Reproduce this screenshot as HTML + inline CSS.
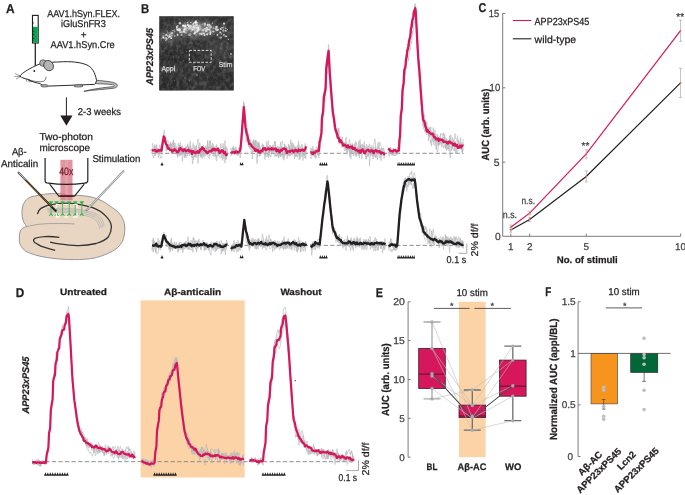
<!DOCTYPE html>
<html><head><meta charset="utf-8"><title>Figure</title><style>html,body{margin:0;padding:0;background:#fff;}svg{display:block;will-change:transform;font-family:"Liberation Sans",sans-serif;}</style></head><body>
<svg width="685" height="495" viewBox="0 0 685 495" font-family="Liberation Sans, sans-serif" text-rendering="geometricPrecision">
<rect width="685" height="495" fill="#fff"/>
<text x="6" y="13" font-size="12.8" font-weight="bold" textLength="8.6" lengthAdjust="spacingAndGlyphs" fill="#231f20" stroke="#231f20" stroke-width="0.25">A</text>
<text x="83.6" y="16.8" font-size="9.9" text-anchor="middle" textLength="72.9" lengthAdjust="spacingAndGlyphs" fill="#231f20" stroke="#231f20" stroke-width="0.25">AAV1.hSyn.FLEX.</text>
<text x="83.4" y="27.3" font-size="9.9" text-anchor="middle" textLength="44.7" lengthAdjust="spacingAndGlyphs" fill="#231f20" stroke="#231f20" stroke-width="0.25">iGluSnFR3</text>
<text x="83.6" y="37.6" font-size="9.9" text-anchor="middle" fill="#231f20" stroke="#231f20" stroke-width="0.25">+</text>
<text x="82.6" y="48.4" font-size="9.9" text-anchor="middle" textLength="64.1" lengthAdjust="spacingAndGlyphs" fill="#231f20" stroke="#231f20" stroke-width="0.25">AAV1.hSyn.Cre</text>
<rect x="32.5" y="15.4" width="5.7" height="27.6" fill="#fff" stroke="#231f20" stroke-width="1.15"/><rect x="33" y="26.8" width="4.7" height="15.6" fill="#00a651"/><path d="M33 22.4 L34.4 23 L33 23.6 Z M33 30.6 L34.4 31.2 L33 31.8 Z M33 34.1 L34.4 34.7 L33 35.3 Z M33 37.8 L34.4 38.4 L33 39 Z" fill="#231f20"/><line x1="35.3" y1="43" x2="35.3" y2="66" stroke="#231f20" stroke-width="1.25"/><path d="M19.7 76 C23 72.5 27 70 35.2 65.9 C38 64.6 40 63.8 43 63 C50 62 56 62.2 60 61.9 C70 61.2 80 62 87 65 C92 67.5 95 72 96.5 80.2 C96.5 83 95 84.4 93.9 84.4 L48.6 86.1 C44 86 41 85 40 83.5 C37 83 32 82 27.6 79.3 C24 78.5 21.5 77.5 19.7 76 Z" fill="#fff" stroke="#231f20" stroke-width="0.95"/><path d="M96.8 80.3 C104 81 112 81.5 116 83.5 C118.5 85 117.5 87.5 114 88.2 C104 89.5 92 90 83.9 91.3 C92 89 104 87.6 113 86.6 C115 86 114.5 84.8 112.5 84.6 C106 84 101 84 95.5 83.6 Z" fill="#bcbec0" stroke="#231f20" stroke-width="0.6"/><ellipse cx="43" cy="63" rx="3.3" ry="3.2" fill="#b3b5b7" stroke="#231f20" stroke-width="0.6"/><ellipse cx="48.6" cy="65.6" rx="4.6" ry="5.4" fill="#b3b5b7" stroke="#231f20" stroke-width="0.7" transform="rotate(-35 48.6 65.6)"/><ellipse cx="44.5" cy="85.8" rx="3.8" ry="1.3" fill="#a7a9ac" stroke="#231f20" stroke-width="0.5"/><ellipse cx="78.5" cy="85.9" rx="4.6" ry="1.2" fill="#a7a9ac" stroke="#231f20" stroke-width="0.5"/><circle cx="34.3" cy="71" r="0.9" fill="#231f20"/><path d="M27.6 79.3 C33 81.5 40 82.5 43.6 81.2 C45.5 80 46 78.5 46.1 76.8" fill="none" stroke="#231f20" stroke-width="0.6"/><path d="M20 76 L15 73.5 M20 76.3 L14.5 76.5 M20.3 76.6 L16 79 M26 78.5 L27 82 M28 79.3 L29.5 82.2 M29.5 79.8 L31 82.5" stroke="#231f20" stroke-width="0.45" fill="none"/><line x1="66.4" y1="97.3" x2="66.4" y2="117" stroke="#231f20" stroke-width="1"/><path d="M60.3 115.5 L72.5 115.5 L66.4 125.8 Z" fill="#231f20"/><text x="77.7" y="115" font-size="9.9" textLength="43.3" lengthAdjust="spacingAndGlyphs" fill="#231f20" stroke="#231f20" stroke-width="0.25">2-3 weeks</text>
<text x="39.4" y="140.2" font-size="9.9" textLength="53.6" lengthAdjust="spacingAndGlyphs" fill="#231f20" stroke="#231f20" stroke-width="0.25">Two-photon</text>
<text x="39.4" y="150.7" font-size="9.9" textLength="50.6" lengthAdjust="spacingAndGlyphs" fill="#231f20" stroke="#231f20" stroke-width="0.25">microscope</text>
<text x="11.9" y="154.6" font-size="9.9" textLength="14.7" lengthAdjust="spacingAndGlyphs" fill="#231f20" stroke="#231f20" stroke-width="0.25">A&#946;-</text>
<text x="1.0" y="167" font-size="9.9" textLength="37.2" lengthAdjust="spacingAndGlyphs" fill="#231f20" stroke="#231f20" stroke-width="0.25">Anticalin</text>
<text x="92.4" y="161.5" font-size="9.9" textLength="48" lengthAdjust="spacingAndGlyphs" fill="#231f20" stroke="#231f20" stroke-width="0.25">Stimulation</text>
<path d="M25.5 224.7 C21 220 21 207 24.5 202.3 C27 198 31 196.5 34.7 196.1 C42 194.5 46 193.8 51.1 193.7 C60 193.2 65 194 67.4 195.1 C76 195 84 195.5 92 197.2 C100 199 106 203 110.4 206.3 C116 210 121 214 122.6 218.6 C125.5 224 125.6 233 122.6 241.1 C120 246 116 249.5 112.4 251.3 C105 255 98 257.5 92 258.5 C84 259.6 75 259.8 67.4 259.5 C57 259 48 258 40.9 256.4 C33 254.5 27 252.5 24.5 250.3 C21 247 19.5 244 19.4 241.1 C19.2 236 19.5 232.5 20.4 230.9 C21.5 228.5 23.5 227 26.6 226.8 Z" fill="#e8d6c2" stroke="#8a8c8e" stroke-width="0.9"/><path d="M26.6 226.6 C35 224.5 45 223.5 51.1 223.6 C60 223.5 68 223.4 74.6 224" fill="none" stroke="#939598" stroke-width="0.8"/><path d="M37.4 214.1 C38 211 39.5 209.4 40.9 208.4 C45 205.8 49 204.6 53.1 204.3 C60 203.2 66 203 71.5 203.3 C80 204 86 205.5 92 207.4 C98 209.5 103 213 106.3 216.6 C109.5 220 111.4 223.5 111.4 226.8 C111.4 230.5 110.3 234 108.3 237 C105 240.5 101 242 96 243.5 C90 245 84 245.7 77.7 245.6 C71 245.6 66 245 61.3 244.2 C57 243.6 53 242.8 50.1 242.1" fill="none" stroke="#333" stroke-width="1.3"/><path d="M59.3 237.4 C54 236.6 49 236.4 45 236.6 C40 237 36 237.5 34.7 238.6 C33 240 33.4 241.5 35 242.7 C38 244.5 40 245.5 40.9 246.2 C46 248 51 249.3 55.2 250.3" fill="none" stroke="#333" stroke-width="1.3"/><path d="M47 208.3 C65 207.7 85 208.5 98 214.5 C102 217.5 103.5 221.5 104.2 226.3 M47 209.6 C65 209.1 84 210 96.5 215.8 C100.5 218.7 102 222.7 102.7 227.2 M47.5 210.9 C66 210.5 83 211.5 95 217.1 C99 219.8 100.5 223.8 101.2 228 M48 212.2 C66 211.9 82 212.9 93.5 218.4 C97.5 220.9 99 224.6 99.7 228.6" fill="none" stroke="#a7a9ac" stroke-width="0.6"/><rect x="60.4" y="159.8" width="12.1" height="40.6" fill="#d5707f" opacity="0.75"/><rect x="65" y="159.8" width="3" height="40.6" fill="#fff" opacity="0.12"/><rect x="59.5" y="195" width="14" height="1.8" fill="#8b2636"/><text x="66.3" y="175" font-size="10.6" text-anchor="middle" textLength="14.2" lengthAdjust="spacingAndGlyphs" fill="#7a1f2e" stroke="#7a1f2e" stroke-width="0.25">40x</text>
<path d="M45.1 158 L45.1 180.4 C45.1 182 46.5 183.1 48.5 183.2 C60 184.8 73 184.8 85 183.2 C86.8 183 87.8 182 87.8 180.4 L87.8 158" fill="none" stroke="#231f20" stroke-width="1.2"/><path d="M49.7 184.1 L58.8 196.2 L74.5 196.2 L84.2 184.1" fill="none" stroke="#231f20" stroke-width="1.1"/><path d="M48.7 201.2 L53.3 201.2 L51.0 205.3 Z" fill="#39b54a"/><path d="M49.3 215.2 L52.7 215.2 L51.0 212.8 Z" fill="#39b54a"/><path d="M51.0 204 L51.0 213.5 M51.0 213.5 L49.0 216 M51.0 213.5 L53.0 216" stroke="#39b54a" stroke-width="0.8" fill="none"/><path d="M54.3 201.2 L58.9 201.2 L56.6 205.3 Z" fill="#39b54a"/><path d="M54.9 215.2 L58.3 215.2 L56.6 212.8 Z" fill="#39b54a"/><path d="M56.6 204 L56.6 213.5 M56.6 213.5 L54.6 216 M56.6 213.5 L58.6 216" stroke="#39b54a" stroke-width="0.8" fill="none"/><path d="M60.3 201.2 L64.9 201.2 L62.6 205.3 Z" fill="#39b54a"/><path d="M60.9 215.2 L64.3 215.2 L62.6 212.8 Z" fill="#39b54a"/><path d="M62.6 204 L62.6 213.5 M62.6 213.5 L60.6 216 M62.6 213.5 L64.6 216" stroke="#39b54a" stroke-width="0.8" fill="none"/><path d="M66.9 201.2 L71.5 201.2 L69.2 205.3 Z" fill="#39b54a"/><path d="M67.5 215.2 L70.9 215.2 L69.2 212.8 Z" fill="#39b54a"/><path d="M69.2 204 L69.2 213.5 M69.2 213.5 L67.2 216 M69.2 213.5 L71.2 216" stroke="#39b54a" stroke-width="0.8" fill="none"/><path d="M72.9 201.2 L77.5 201.2 L75.2 205.3 Z" fill="#39b54a"/><path d="M73.5 215.2 L76.9 215.2 L75.2 212.8 Z" fill="#39b54a"/><path d="M75.2 204 L75.2 213.5 M75.2 213.5 L73.2 216 M75.2 213.5 L77.2 216" stroke="#39b54a" stroke-width="0.8" fill="none"/><path d="M79.5 201.2 L84.1 201.2 L81.8 205.3 Z" fill="#39b54a"/><path d="M80.1 215.2 L83.5 215.2 L81.8 212.8 Z" fill="#39b54a"/><path d="M81.8 204 L81.8 213.5 M81.8 213.5 L79.8 216 M81.8 213.5 L83.8 216" stroke="#39b54a" stroke-width="0.8" fill="none"/><path d="M56.3 208.6 V204.5 H59.6 M63.6 204.5 H68.6 M72.8 204.5 H77 V208.6 M56.3 212.8 V217 H59.8 M64.1 217 H68.4 M72.9 217 H77 V212.8" fill="none" stroke="#fff" stroke-width="1.1"/><path d="M18 172.1 L56.2 211.5" stroke="#231f20" stroke-width="1.9" fill="none"/><path d="M18.4 172.5 L25.5 179.9" stroke="#fff" stroke-width="0.9" fill="none"/><path d="M25.5 179.9 L52 207" stroke="#a8661b" stroke-width="0.9" fill="none"/><path d="M124 170.7 L85.8 211" stroke="#808285" stroke-width="1.9" fill="none"/><path d="M123.6 171.1 L86.5 210.2" stroke="#fff" stroke-width="0.8" fill="none"/><text x="141" y="13" font-size="12.8" font-weight="bold" textLength="8.2" lengthAdjust="spacingAndGlyphs" fill="#231f20" stroke="#231f20" stroke-width="0.25">B</text>
<defs><filter id="fnoise" x="0" y="0" width="1" height="1"><feTurbulence type="fractalNoise" baseFrequency="0.3 0.22" numOctaves="3" seed="5"/><feColorMatrix type="matrix" values="0 0 0 0 1  0 0 0 0 1  0 0 0 0 1  1.3 0 0 0 -0.5"/></filter><filter id="fblur" x="-50%" y="-50%" width="200%" height="200%"><feGaussianBlur stdDeviation="3.5"/></filter><filter id="fblur1"><feGaussianBlur stdDeviation="0.45"/></filter><clipPath id="fclip"><rect x="159.2" y="16.2" width="74.6" height="74.3"/></clipPath></defs><rect x="159.2" y="16.2" width="74.6" height="74.3" fill="#303030"/><g clip-path="url(#fclip)"><g filter="url(#fblur)"><ellipse cx="196" cy="29" rx="20" ry="7" fill="#787878"/><ellipse cx="170" cy="37" rx="8" ry="6" fill="#5e5e5e"/><ellipse cx="221" cy="31" rx="9" ry="4" fill="#505050"/><ellipse cx="175" cy="57" rx="18" ry="4" fill="#202020"/><ellipse cx="218" cy="50" rx="14" ry="9" fill="#3c3c3c"/><ellipse cx="172" cy="70" rx="12" ry="6" fill="#383838"/><ellipse cx="170" cy="84" rx="14" ry="6" fill="#262626"/><ellipse cx="222" cy="80" rx="12" ry="8" fill="#2a2a2a"/></g><rect x="159.2" y="16.2" width="74.6" height="74.3" filter="url(#fnoise)" opacity="0.3"/><g filter="url(#fblur1)"><circle cx="172.1" cy="32.7" r="0.93" fill="rgb(196,196,196)"/><circle cx="223.0" cy="30.4" r="0.70" fill="rgb(161,161,161)"/><circle cx="166.7" cy="39.0" r="1.13" fill="rgb(165,165,165)"/><circle cx="199.8" cy="25.1" r="0.59" fill="rgb(224,224,224)"/><circle cx="227.4" cy="29.5" r="0.58" fill="rgb(167,167,167)"/><circle cx="171.7" cy="35.7" r="1.12" fill="rgb(173,173,173)"/><circle cx="200.3" cy="30.0" r="0.68" fill="rgb(162,162,162)"/><circle cx="166.2" cy="38.4" r="1.03" fill="rgb(204,204,204)"/><circle cx="196.0" cy="20.7" r="0.80" fill="rgb(181,181,181)"/><circle cx="198.8" cy="27.2" r="0.95" fill="rgb(217,217,217)"/><circle cx="185.0" cy="26.9" r="0.86" fill="rgb(227,227,227)"/><circle cx="202.2" cy="30.5" r="1.08" fill="rgb(169,169,169)"/><circle cx="165.9" cy="40.5" r="0.60" fill="rgb(221,221,221)"/><circle cx="220.7" cy="28.9" r="0.97" fill="rgb(224,224,224)"/><circle cx="210.0" cy="30.2" r="0.74" fill="rgb(239,239,239)"/><circle cx="195.2" cy="32.8" r="1.00" fill="rgb(237,237,237)"/><circle cx="199.9" cy="27.3" r="1.02" fill="rgb(152,152,152)"/><circle cx="204.6" cy="25.5" r="0.90" fill="rgb(177,177,177)"/><circle cx="206.0" cy="30.1" r="0.82" fill="rgb(213,213,213)"/><circle cx="192.1" cy="30.0" r="0.93" fill="rgb(167,167,167)"/><circle cx="199.4" cy="26.0" r="0.84" fill="rgb(195,195,195)"/><circle cx="186.6" cy="30.6" r="0.61" fill="rgb(169,169,169)"/><circle cx="177.6" cy="26.9" r="0.73" fill="rgb(150,150,150)"/><circle cx="197.8" cy="28.4" r="0.98" fill="rgb(190,190,190)"/><circle cx="187.7" cy="25.1" r="0.98" fill="rgb(236,236,236)"/><circle cx="169.6" cy="36.4" r="1.22" fill="rgb(237,237,237)"/><circle cx="183.6" cy="31.7" r="0.62" fill="rgb(231,231,231)"/><circle cx="174.8" cy="35.9" r="0.63" fill="rgb(226,226,226)"/><circle cx="162.0" cy="38.4" r="0.66" fill="rgb(162,162,162)"/><circle cx="189.5" cy="27.7" r="0.70" fill="rgb(198,198,198)"/><circle cx="178.9" cy="29.1" r="0.64" fill="rgb(212,212,212)"/><circle cx="202.3" cy="24.4" r="0.61" fill="rgb(163,163,163)"/><circle cx="195.9" cy="27.8" r="1.03" fill="rgb(216,216,216)"/><circle cx="225.7" cy="28.4" r="0.92" fill="rgb(168,168,168)"/><circle cx="210.3" cy="26.1" r="0.76" fill="rgb(232,232,232)"/><circle cx="189.9" cy="26.0" r="0.81" fill="rgb(171,171,171)"/><circle cx="176.9" cy="27.8" r="1.00" fill="rgb(228,228,228)"/><circle cx="189.3" cy="34.9" r="1.11" fill="rgb(201,201,201)"/><circle cx="190.8" cy="28.9" r="0.80" fill="rgb(153,153,153)"/><circle cx="207.3" cy="29.5" r="0.69" fill="rgb(227,227,227)"/><circle cx="179.9" cy="23.2" r="1.24" fill="rgb(196,196,196)"/><circle cx="168.8" cy="37.5" r="0.88" fill="rgb(193,193,193)"/><circle cx="203.8" cy="33.4" r="0.89" fill="rgb(233,233,233)"/><circle cx="205.1" cy="24.6" r="1.13" fill="rgb(165,165,165)"/><circle cx="197.0" cy="22.6" r="0.88" fill="rgb(172,172,172)"/><circle cx="204.6" cy="35.1" r="1.06" fill="rgb(209,209,209)"/><circle cx="225.4" cy="36.3" r="1.06" fill="rgb(171,171,171)"/><circle cx="208.8" cy="29.5" r="0.88" fill="rgb(233,233,233)"/><circle cx="217.4" cy="34.9" r="0.80" fill="rgb(220,220,220)"/><circle cx="163.4" cy="37.3" r="1.11" fill="rgb(242,242,242)"/><circle cx="165.4" cy="35.5" r="0.85" fill="rgb(174,174,174)"/><circle cx="195.2" cy="30.5" r="0.76" fill="rgb(180,180,180)"/><circle cx="186.1" cy="32.7" r="1.13" fill="rgb(157,157,157)"/><circle cx="184.9" cy="32.2" r="0.96" fill="rgb(216,216,216)"/><circle cx="223.5" cy="27.5" r="0.92" fill="rgb(152,152,152)"/><circle cx="192.8" cy="28.9" r="1.09" fill="rgb(169,169,169)"/><circle cx="193.7" cy="23.6" r="1.06" fill="rgb(221,221,221)"/><circle cx="207.7" cy="24.9" r="1.09" fill="rgb(221,221,221)"/><circle cx="174.8" cy="31.6" r="0.58" fill="rgb(162,162,162)"/><circle cx="199.6" cy="28.5" r="0.86" fill="rgb(228,228,228)"/><circle cx="166.6" cy="34.4" r="0.74" fill="rgb(215,215,215)"/><circle cx="194.0" cy="26.7" r="1.21" fill="rgb(239,239,239)"/><circle cx="220.7" cy="37.6" r="1.17" fill="rgb(175,175,175)"/><circle cx="181.1" cy="31.3" r="0.86" fill="rgb(159,159,159)"/><circle cx="197.6" cy="25.9" r="0.76" fill="rgb(165,165,165)"/><circle cx="196.6" cy="31.0" r="1.01" fill="rgb(168,168,168)"/><circle cx="171.2" cy="38.2" r="0.88" fill="rgb(245,245,245)"/><circle cx="181.9" cy="32.3" r="1.24" fill="rgb(178,178,178)"/><circle cx="190.9" cy="25.3" r="0.69" fill="rgb(190,190,190)"/><circle cx="186.5" cy="28.7" r="0.79" fill="rgb(208,208,208)"/><circle cx="163.2" cy="35.8" r="0.91" fill="rgb(158,158,158)"/><circle cx="223.5" cy="35.6" r="0.71" fill="rgb(163,163,163)"/><circle cx="180.2" cy="32.2" r="1.08" fill="rgb(204,204,204)"/><circle cx="188.8" cy="25.0" r="0.83" fill="rgb(218,218,218)"/><circle cx="167.1" cy="31.2" r="0.61" fill="rgb(157,157,157)"/><circle cx="185.0" cy="32.1" r="0.74" fill="rgb(152,152,152)"/><circle cx="216.3" cy="30.3" r="1.15" fill="rgb(158,158,158)"/><circle cx="170.2" cy="33.0" r="0.56" fill="rgb(220,220,220)"/><circle cx="223.3" cy="30.8" r="1.05" fill="rgb(164,164,164)"/><circle cx="190.5" cy="28.2" r="1.20" fill="rgb(230,230,230)"/><circle cx="212.9" cy="31.4" r="0.75" fill="rgb(214,214,214)"/><circle cx="190.2" cy="34.3" r="1.25" fill="rgb(154,154,154)"/><circle cx="211.1" cy="27.0" r="0.88" fill="rgb(207,207,207)"/><circle cx="216.9" cy="29.3" r="0.85" fill="rgb(213,213,213)"/><circle cx="221.5" cy="33.9" r="0.70" fill="rgb(179,179,179)"/><circle cx="217.8" cy="29.7" r="1.04" fill="rgb(231,231,231)"/><circle cx="228.3" cy="39.2" r="0.56" fill="rgb(230,230,230)"/><circle cx="190.4" cy="28.3" r="0.61" fill="rgb(198,198,198)"/><circle cx="200.2" cy="26.8" r="0.72" fill="rgb(187,187,187)"/><circle cx="174.4" cy="30.1" r="0.74" fill="rgb(150,150,150)"/><circle cx="226.4" cy="36.5" r="0.72" fill="rgb(189,189,189)"/><circle cx="174.3" cy="31.8" r="0.78" fill="rgb(160,160,160)"/><circle cx="195.7" cy="29.2" r="0.55" fill="rgb(183,183,183)"/><circle cx="206.6" cy="31.2" r="0.83" fill="rgb(188,188,188)"/><circle cx="177.6" cy="34.8" r="0.96" fill="rgb(217,217,217)"/><circle cx="207.2" cy="34.3" r="1.10" fill="rgb(226,226,226)"/><circle cx="183.9" cy="31.4" r="1.06" fill="rgb(232,232,232)"/><circle cx="217.3" cy="29.9" r="1.05" fill="rgb(215,215,215)"/><circle cx="190.8" cy="22.3" r="0.65" fill="rgb(217,217,217)"/><circle cx="173.0" cy="30.5" r="0.56" fill="rgb(237,237,237)"/><circle cx="221.8" cy="29.1" r="0.71" fill="rgb(153,153,153)"/><circle cx="204.7" cy="23.7" r="1.22" fill="rgb(198,198,198)"/><circle cx="177.3" cy="29.8" r="0.99" fill="rgb(237,237,237)"/><circle cx="179.7" cy="29.4" r="1.20" fill="rgb(218,218,218)"/><circle cx="197.2" cy="28.3" r="1.07" fill="rgb(210,210,210)"/><circle cx="167.0" cy="35.4" r="0.69" fill="rgb(244,244,244)"/><circle cx="212.3" cy="23.0" r="0.60" fill="rgb(237,237,237)"/><circle cx="165.1" cy="38.5" r="0.99" fill="rgb(175,175,175)"/><circle cx="171.9" cy="33.4" r="0.76" fill="rgb(222,222,222)"/><circle cx="194.3" cy="33.5" r="0.89" fill="rgb(236,236,236)"/><circle cx="176.6" cy="26.5" r="0.75" fill="rgb(209,209,209)"/><circle cx="169.9" cy="34.8" r="1.18" fill="rgb(175,175,175)"/><circle cx="167.8" cy="32.8" r="0.60" fill="rgb(214,214,214)"/><circle cx="194.7" cy="25.6" r="0.70" fill="rgb(176,176,176)"/><circle cx="168.1" cy="36.2" r="1.07" fill="rgb(183,183,183)"/><circle cx="208.0" cy="33.1" r="0.91" fill="rgb(164,164,164)"/><circle cx="196.0" cy="35.0" r="0.89" fill="rgb(153,153,153)"/><circle cx="225.6" cy="30.8" r="1.06" fill="rgb(203,203,203)"/><circle cx="183.2" cy="26.6" r="1.14" fill="rgb(150,150,150)"/><circle cx="184.7" cy="23.1" r="0.69" fill="rgb(151,151,151)"/><circle cx="210.0" cy="28.1" r="0.83" fill="rgb(225,225,225)"/><circle cx="224.0" cy="34.8" r="1.08" fill="rgb(156,156,156)"/><circle cx="165.5" cy="34.3" r="0.65" fill="rgb(184,184,184)"/><circle cx="183.1" cy="25.7" r="1.09" fill="rgb(250,250,250)"/><circle cx="209.4" cy="24.8" r="0.99" fill="rgb(220,220,220)"/><circle cx="210.2" cy="34.0" r="0.87" fill="rgb(246,246,246)"/><circle cx="220.3" cy="32.4" r="0.89" fill="rgb(220,220,220)"/><circle cx="193.6" cy="26.6" r="1.07" fill="rgb(233,233,233)"/><circle cx="206.0" cy="30.7" r="0.76" fill="rgb(221,221,221)"/><circle cx="205.6" cy="31.6" r="0.60" fill="rgb(214,214,214)"/><circle cx="184.5" cy="29.4" r="1.18" fill="rgb(247,247,247)"/><circle cx="171.4" cy="34.3" r="0.79" fill="rgb(161,161,161)"/><circle cx="186.7" cy="30.3" r="1.12" fill="rgb(175,175,175)"/><circle cx="193.0" cy="24.7" r="0.84" fill="rgb(217,217,217)"/><circle cx="180.1" cy="30.6" r="0.95" fill="rgb(196,196,196)"/><circle cx="195.7" cy="24.1" r="0.99" fill="rgb(177,177,177)"/><circle cx="222.1" cy="27.7" r="0.85" fill="rgb(189,189,189)"/><circle cx="204.5" cy="28.8" r="0.57" fill="rgb(240,240,240)"/><circle cx="191.2" cy="31.2" r="0.89" fill="rgb(159,159,159)"/><circle cx="224.1" cy="23.6" r="1.13" fill="rgb(209,209,209)"/><circle cx="193.1" cy="29.7" r="0.66" fill="rgb(216,216,216)"/><circle cx="210.4" cy="32.8" r="1.04" fill="rgb(247,247,247)"/><circle cx="210.9" cy="31.9" r="0.55" fill="rgb(166,166,166)"/><circle cx="223.6" cy="29.9" r="0.64" fill="rgb(182,182,182)"/><circle cx="191.3" cy="26.1" r="1.08" fill="rgb(162,162,162)"/><circle cx="197.1" cy="25.2" r="0.71" fill="rgb(226,226,226)"/><circle cx="198.0" cy="26.4" r="1.25" fill="rgb(185,185,185)"/><circle cx="177.7" cy="25.9" r="0.88" fill="rgb(180,180,180)"/><circle cx="164.0" cy="33.5" r="0.59" fill="rgb(174,174,174)"/><circle cx="207.2" cy="31.0" r="0.84" fill="rgb(182,182,182)"/><circle cx="196.3" cy="32.1" r="0.86" fill="rgb(217,217,217)"/><circle cx="203.0" cy="29.6" r="0.95" fill="rgb(223,223,223)"/><circle cx="194.2" cy="29.2" r="1.22" fill="rgb(207,207,207)"/><circle cx="188.9" cy="28.9" r="0.92" fill="rgb(195,195,195)"/><circle cx="197.8" cy="27.0" r="0.89" fill="rgb(198,198,198)"/><circle cx="198.3" cy="28.1" r="1.05" fill="rgb(249,249,249)"/><circle cx="197.5" cy="31.0" r="1.34" fill="rgb(223,223,223)"/><circle cx="206.3" cy="30.4" r="0.74" fill="rgb(220,220,220)"/><circle cx="207.0" cy="29.6" r="0.74" fill="rgb(223,223,223)"/><circle cx="203.4" cy="30.1" r="1.21" fill="rgb(210,210,210)"/><circle cx="215.8" cy="28.9" r="0.83" fill="rgb(212,212,212)"/><circle cx="188.7" cy="26.0" r="0.72" fill="rgb(229,229,229)"/><circle cx="190.5" cy="26.5" r="1.39" fill="rgb(217,217,217)"/><circle cx="191.0" cy="29.5" r="0.90" fill="rgb(180,180,180)"/><circle cx="181.6" cy="35.0" r="1.09" fill="rgb(185,185,185)"/><circle cx="195.5" cy="26.1" r="1.28" fill="rgb(209,209,209)"/><circle cx="192.4" cy="29.4" r="0.84" fill="rgb(230,230,230)"/><circle cx="185.5" cy="28.2" r="0.95" fill="rgb(211,211,211)"/><circle cx="196.8" cy="28.6" r="0.87" fill="rgb(222,222,222)"/><circle cx="188.5" cy="26.8" r="0.72" fill="rgb(218,218,218)"/><circle cx="213.7" cy="31.6" r="0.84" fill="rgb(202,202,202)"/><circle cx="206.3" cy="30.6" r="0.89" fill="rgb(216,216,216)"/><circle cx="207.0" cy="27.9" r="1.22" fill="rgb(203,203,203)"/><circle cx="187.4" cy="22.7" r="0.70" fill="rgb(208,208,208)"/><circle cx="195.7" cy="22.3" r="1.36" fill="rgb(251,251,251)"/><circle cx="210.4" cy="31.2" r="1.03" fill="rgb(183,183,183)"/><circle cx="216.5" cy="27.0" r="1.25" fill="rgb(219,219,219)"/><circle cx="209.1" cy="26.2" r="1.35" fill="rgb(186,186,186)"/><circle cx="201.6" cy="33.9" r="1.28" fill="rgb(208,208,208)"/><circle cx="196.8" cy="24.9" r="1.30" fill="rgb(211,211,211)"/><circle cx="179.7" cy="30.3" r="0.76" fill="rgb(246,246,246)"/><circle cx="199.9" cy="33.7" r="0.99" fill="rgb(201,201,201)"/><circle cx="188.9" cy="26.2" r="0.93" fill="rgb(239,239,239)"/><circle cx="213.5" cy="28.2" r="0.89" fill="rgb(179,179,179)"/><circle cx="198.5" cy="29.7" r="1.39" fill="rgb(233,233,233)"/><circle cx="200.5" cy="28.7" r="0.99" fill="rgb(187,187,187)"/><circle cx="185.2" cy="25.9" r="1.29" fill="rgb(238,238,238)"/><circle cx="192.7" cy="27.7" r="0.91" fill="rgb(207,207,207)"/><circle cx="187.1" cy="27.8" r="0.84" fill="rgb(203,203,203)"/><circle cx="195.1" cy="31.3" r="0.90" fill="rgb(189,189,189)"/><circle cx="199.9" cy="27.9" r="0.98" fill="rgb(178,178,178)"/><circle cx="205.7" cy="28.8" r="1.15" fill="rgb(199,199,199)"/><circle cx="203.1" cy="31.0" r="0.77" fill="rgb(174,174,174)"/><circle cx="178.6" cy="29.9" r="1.34" fill="rgb(227,227,227)"/><circle cx="202.3" cy="29.6" r="0.74" fill="rgb(185,185,185)"/><circle cx="204.0" cy="82.2" r="0.77" fill="rgb(82,82,82)"/><circle cx="187.0" cy="84.0" r="0.64" fill="rgb(98,98,98)"/><circle cx="217.0" cy="74.2" r="0.44" fill="rgb(70,70,70)"/><circle cx="203.7" cy="72.1" r="0.41" fill="rgb(83,83,83)"/><circle cx="184.6" cy="44.1" r="0.42" fill="rgb(86,86,86)"/><circle cx="213.8" cy="86.3" r="0.73" fill="rgb(70,70,70)"/><circle cx="189.7" cy="60.0" r="0.52" fill="rgb(109,109,109)"/><circle cx="174.4" cy="80.6" r="0.59" fill="rgb(105,105,105)"/><circle cx="189.6" cy="80.6" r="0.62" fill="rgb(112,112,112)"/><circle cx="206.9" cy="46.4" r="0.56" fill="rgb(80,80,80)"/><circle cx="179.4" cy="89.9" r="0.52" fill="rgb(112,112,112)"/><circle cx="230.3" cy="57.1" r="0.75" fill="rgb(106,106,106)"/><circle cx="190.1" cy="42.9" r="0.80" fill="rgb(119,119,119)"/><circle cx="186.3" cy="51.6" r="0.56" fill="rgb(116,116,116)"/><circle cx="229.5" cy="63.1" r="0.57" fill="rgb(80,80,80)"/><circle cx="220.4" cy="61.7" r="0.58" fill="rgb(93,93,93)"/><circle cx="171.3" cy="42.7" r="0.46" fill="rgb(105,105,105)"/><circle cx="219.4" cy="61.2" r="0.65" fill="rgb(106,106,106)"/><circle cx="186.9" cy="66.5" r="0.54" fill="rgb(79,79,79)"/><circle cx="171.3" cy="50.3" r="0.44" fill="rgb(74,74,74)"/><circle cx="195.8" cy="81.0" r="0.52" fill="rgb(82,82,82)"/><circle cx="221.7" cy="44.1" r="0.53" fill="rgb(100,100,100)"/><circle cx="204.5" cy="72.9" r="0.76" fill="rgb(75,75,75)"/><circle cx="205.5" cy="82.0" r="0.66" fill="rgb(80,80,80)"/><circle cx="223.1" cy="72.1" r="0.74" fill="rgb(109,109,109)"/><circle cx="221.1" cy="50.9" r="0.42" fill="rgb(83,83,83)"/><circle cx="229.2" cy="49.6" r="0.45" fill="rgb(92,92,92)"/><circle cx="177.6" cy="77.2" r="0.42" fill="rgb(82,82,82)"/><circle cx="201.2" cy="78.7" r="0.67" fill="rgb(72,72,72)"/><circle cx="183.4" cy="60.9" r="0.62" fill="rgb(99,99,99)"/><circle cx="206.0" cy="56.9" r="0.52" fill="rgb(96,96,96)"/><circle cx="177.8" cy="60.9" r="0.58" fill="rgb(93,93,93)"/><circle cx="191.9" cy="43.1" r="0.79" fill="rgb(109,109,109)"/><circle cx="193.9" cy="63.7" r="0.71" fill="rgb(109,109,109)"/><circle cx="193.4" cy="50.7" r="0.56" fill="rgb(100,100,100)"/><circle cx="231" cy="54" r="0.9" fill="#bbb"/><circle cx="197" cy="75" r="0.8" fill="#999"/></g></g><rect x="189.4" y="50.4" width="21.8" height="11.9" fill="none" stroke="#e6e6e6" stroke-width="0.9" stroke-dasharray="2.6 1.5"/><text x="161.4" y="70.7" font-size="7.2" textLength="13.8" lengthAdjust="spacingAndGlyphs" fill="#d8d8d8" stroke="#d8d8d8" stroke-width="0.25">Appl</text>
<text x="193.2" y="70.7" font-size="7.2" textLength="12.1" lengthAdjust="spacingAndGlyphs" fill="#d8d8d8" stroke="#d8d8d8" stroke-width="0.25">FOV</text>
<text x="218.7" y="67.3" font-size="7.2" textLength="13.8" lengthAdjust="spacingAndGlyphs" fill="#d8d8d8" stroke="#d8d8d8" stroke-width="0.25">Stim</text>
<text x="0" y="0" font-size="9.7" font-weight="bold" font-style="italic" text-anchor="middle" textLength="57" lengthAdjust="spacingAndGlyphs" fill="#231f20" stroke="#231f20" stroke-width="0.25" transform="translate(153.4 56.5) rotate(-90)">APP23xPS45</text>
<line x1="151.8" y1="153.3" x2="463.5" y2="153.3" stroke="#808285" stroke-width="0.9" stroke-dasharray="4.3 2.3"/><line x1="152" y1="245.4" x2="463.4" y2="245.4" stroke="#808285" stroke-width="0.9" stroke-dasharray="4.3 2.3"/><polyline points="151.8,148.2 152.4,148.6 153.0,148.4 153.6,149.1 154.2,152.3 154.8,146.5 155.4,148.4 156.0,148.6 156.6,147.6 157.2,149.4 157.8,150.4 158.4,157.8 159.0,154.2 159.6,152.0 160.2,153.8 160.8,148.9 161.4,148.5 162.0,148.1 162.6,141.9 163.2,135.6 163.8,131.8 164.4,130.1 165.0,139.2 165.6,144.4 166.2,151.3 166.8,145.4 167.4,144.1 168.0,144.3 168.6,147.0 169.2,146.8 169.8,149.2 170.4,147.1 171.0,143.5 171.6,151.1 172.2,147.9 172.8,153.0 173.4,149.0 174.0,149.6 174.6,142.8 175.2,143.2 175.8,149.0 176.4,152.0 177.0,149.9 177.6,150.7 178.2,143.2 178.8,148.0 179.4,146.9 180.0,145.0 180.6,149.9 181.2,148.5 181.8,146.2 182.4,147.4 183.0,147.8 183.6,148.4 184.2,150.0 184.8,148.5 185.4,153.4 186.0,157.8 186.6,157.1 187.2,151.4 187.8,148.3 188.4,151.3 189.0,149.9 189.6,155.8 190.2,153.3 190.8,153.3 191.4,149.2 192.0,150.8 192.6,146.2 193.2,143.1 193.8,148.8 194.4,145.5 195.0,146.4 195.6,152.6 196.2,157.7 196.8,153.3 197.4,149.9 198.0,153.4 198.6,155.5 199.2,154.5 199.8,148.6 200.4,148.0 201.0,153.8 201.6,147.4 202.2,149.8 202.8,155.3 203.4,156.4 204.0,150.2 204.6,149.4 205.2,149.4 205.8,145.9 206.4,149.4 207.0,146.9 207.6,151.9 208.2,146.9 208.8,146.9 209.4,147.0 210.0,149.7 210.6,140.6 211.2,151.1 211.8,150.0 212.4,151.1 213.0,155.9 213.6,152.7 214.2,153.2 214.8,152.3 215.4,154.9 216.0,155.3 216.6,157.4 217.2,153.4 217.8,148.1 218.4,151.6 219.0,147.5 219.6,150.5 220.2,150.4 220.8,143.3 221.4,148.0 222.0,147.1 222.6,145.7 223.2,143.4 223.8,151.4 224.4,155.1 225.0,149.6 225.6,148.1 226.2,148.5 226.8,147.9 227.4,154.1" fill="none" stroke="#b4b6b8" stroke-width="0.6" stroke-linejoin="round"/>
<polyline points="151.8,144.0 152.4,143.3 153.0,150.5 153.6,149.5 154.2,144.5 154.8,154.7 155.4,154.0 156.0,152.8 156.6,144.3 157.2,150.9 157.8,150.6 158.4,150.0 159.0,149.2 159.6,145.0 160.2,145.2 160.8,149.8 161.4,153.0 162.0,149.9 162.6,145.3 163.2,140.5 163.8,137.1 164.4,142.4 165.0,140.7 165.6,137.1 166.2,142.5 166.8,142.3 167.4,140.7 168.0,140.1 168.6,146.1 169.2,144.6 169.8,145.5 170.4,144.2 171.0,149.7 171.6,147.5 172.2,146.2 172.8,141.6 173.4,141.2 174.0,150.4 174.6,145.5 175.2,152.0 175.8,152.3 176.4,151.9 177.0,151.5 177.6,150.6 178.2,154.9 178.8,152.3 179.4,145.5 180.0,147.4 180.6,155.4 181.2,147.4 181.8,149.2 182.4,149.6 183.0,154.5 183.6,148.4 184.2,155.1 184.8,147.8 185.4,150.0 186.0,145.8 186.6,149.5 187.2,147.8 187.8,143.6 188.4,149.4 189.0,146.3 189.6,151.8 190.2,141.0 190.8,153.6 191.4,151.3 192.0,158.0 192.6,156.3 193.2,153.0 193.8,150.8 194.4,149.0 195.0,153.2 195.6,151.2 196.2,145.3 196.8,148.3 197.4,152.3 198.0,152.1 198.6,152.7 199.2,153.8 199.8,142.7 200.4,149.1 201.0,156.7 201.6,155.3 202.2,151.5 202.8,147.1 203.4,147.6 204.0,157.6 204.6,151.9 205.2,153.8 205.8,152.1 206.4,154.3 207.0,147.7 207.6,142.5 208.2,146.8 208.8,150.3 209.4,140.7 210.0,146.7 210.6,150.5 211.2,150.3 211.8,149.4 212.4,143.1 213.0,145.0 213.6,144.5 214.2,151.9 214.8,152.4 215.4,153.6 216.0,145.7 216.6,144.4 217.2,150.0 217.8,151.1 218.4,155.7 219.0,151.0 219.6,149.3 220.2,154.5 220.8,149.8 221.4,149.8 222.0,156.5 222.6,160.4 223.2,154.1 223.8,148.1 224.4,149.4 225.0,140.4 225.6,152.3 226.2,159.8 226.8,157.5 227.4,151.9" fill="none" stroke="#b4b6b8" stroke-width="0.6" stroke-linejoin="round"/>
<polyline points="151.8,151.9 152.4,154.1 153.0,155.8 153.6,158.0 154.2,154.9 154.8,156.0 155.4,145.7 156.0,145.7 156.6,149.8 157.2,147.9 157.8,149.2 158.4,150.9 159.0,153.2 159.6,152.5 160.2,152.3 160.8,151.1 161.4,152.7 162.0,152.0 162.6,144.3 163.2,141.7 163.8,137.8 164.4,137.0 165.0,136.7 165.6,138.9 166.2,141.3 166.8,144.9 167.4,146.6 168.0,148.6 168.6,147.4 169.2,144.0 169.8,147.2 170.4,141.8 171.0,148.7 171.6,153.8 172.2,147.7 172.8,146.4 173.4,139.8 174.0,145.2 174.6,146.6 175.2,149.7 175.8,151.7 176.4,150.1 177.0,155.2 177.6,156.0 178.2,151.2 178.8,153.8 179.4,146.6 180.0,142.3 180.6,142.7 181.2,154.9 181.8,148.0 182.4,145.9 183.0,148.2 183.6,149.6 184.2,153.5 184.8,156.6 185.4,152.0 186.0,149.3 186.6,147.1 187.2,145.9 187.8,145.3 188.4,146.8 189.0,150.0 189.6,154.0 190.2,154.3 190.8,151.4 191.4,154.1 192.0,148.0 192.6,156.2 193.2,155.9 193.8,160.0 194.4,154.7 195.0,147.3 195.6,157.1 196.2,152.4 196.8,147.5 197.4,141.2 198.0,139.0 198.6,147.9 199.2,152.1 199.8,149.4 200.4,157.4 201.0,153.1 201.6,154.6 202.2,148.1 202.8,146.3 203.4,144.8 204.0,151.1 204.6,151.3 205.2,151.0 205.8,152.2 206.4,151.5 207.0,152.5 207.6,140.3 208.2,149.9 208.8,153.3 209.4,155.9 210.0,153.0 210.6,148.6 211.2,145.3 211.8,153.0 212.4,148.7 213.0,153.8 213.6,153.1 214.2,148.2 214.8,150.8 215.4,156.4 216.0,154.2 216.6,146.0 217.2,150.0 217.8,150.0 218.4,152.3 219.0,151.7 219.6,154.4 220.2,150.6 220.8,152.2 221.4,156.6 222.0,156.3 222.6,155.1 223.2,155.0 223.8,158.2 224.4,159.1 225.0,157.8 225.6,148.0 226.2,146.5 226.8,148.5 227.4,152.0" fill="none" stroke="#b4b6b8" stroke-width="0.6" stroke-linejoin="round"/>
<polyline points="151.8,153.3 152.4,150.8 153.0,149.7 153.6,150.1 154.2,149.5 154.8,152.7 155.4,155.6 156.0,153.2 156.6,150.7 157.2,154.3 157.8,151.7 158.4,152.2 159.0,151.8 159.6,151.2 160.2,158.1 160.8,156.9 161.4,158.3 162.0,155.6 162.6,148.5 163.2,136.8 163.8,137.6 164.4,140.2 165.0,136.9 165.6,139.6 166.2,147.5 166.8,148.6 167.4,150.4 168.0,146.4 168.6,150.0 169.2,149.4 169.8,151.5 170.4,146.5 171.0,148.6 171.6,143.6 172.2,143.8 172.8,146.6 173.4,149.0 174.0,148.6 174.6,148.1 175.2,152.7 175.8,151.7 176.4,146.5 177.0,152.2 177.6,157.5 178.2,153.7 178.8,148.2 179.4,156.1 180.0,156.2 180.6,145.5 181.2,150.1 181.8,150.0 182.4,161.3 183.0,155.5 183.6,148.6 184.2,153.9 184.8,157.9 185.4,147.1 186.0,150.7 186.6,150.6 187.2,155.8 187.8,155.7 188.4,150.7 189.0,153.3 189.6,153.2 190.2,146.4 190.8,145.8 191.4,154.3 192.0,157.1 192.6,163.8 193.2,157.1 193.8,156.9 194.4,148.7 195.0,157.1 195.6,149.6 196.2,148.5 196.8,153.3 197.4,149.7 198.0,163.5 198.6,153.9 199.2,147.0 199.8,149.7 200.4,155.3 201.0,149.8 201.6,156.1 202.2,158.6 202.8,147.7 203.4,153.6 204.0,153.6 204.6,154.1 205.2,154.7 205.8,156.1 206.4,152.3 207.0,154.9 207.6,151.3 208.2,157.3 208.8,157.4 209.4,158.7 210.0,155.1 210.6,154.4 211.2,151.6 211.8,148.7 212.4,153.2 213.0,145.3 213.6,156.7 214.2,156.5 214.8,146.7 215.4,153.3 216.0,159.4 216.6,161.0 217.2,155.0 217.8,155.3 218.4,146.8 219.0,153.8 219.6,157.9 220.2,157.7 220.8,156.4 221.4,155.9 222.0,157.9 222.6,151.9 223.2,146.6 223.8,148.9 224.4,161.8 225.0,163.0 225.6,158.8 226.2,149.4 226.8,155.7 227.4,152.7" fill="none" stroke="#b4b6b8" stroke-width="0.6" stroke-linejoin="round"/>
<polyline points="151.8,150.8 152.4,150.3 153.0,150.5 153.6,150.3 154.2,150.2 154.8,150.0 155.4,150.5 156.0,151.5 156.6,151.0 157.2,151.3 157.8,151.3 158.4,150.0 159.0,150.3 159.6,150.6 160.2,150.0 160.8,150.2 161.4,150.8 162.0,147.1 162.6,143.3 163.2,140.0 163.8,136.5 164.4,137.6 165.0,140.5 165.6,142.7 166.2,144.4 166.8,144.7 167.4,146.3 168.0,148.4 168.6,148.0 169.2,149.2 169.8,149.7 170.4,149.6 171.0,150.0 171.6,150.1 172.2,151.7 172.8,151.3 173.4,150.2 174.0,150.4 174.6,149.2 175.2,150.2 175.8,150.4 176.4,151.0 177.0,152.3 177.6,152.4 178.2,151.8 178.8,151.0 179.4,148.7 180.0,149.2 180.6,148.3 181.2,149.3 181.8,149.1 182.4,150.6 183.0,151.0 183.6,149.7 184.2,149.5 184.8,149.5 185.4,150.9 186.0,151.3 186.6,151.1 187.2,150.3 187.8,150.4 188.4,149.7 189.0,151.1 189.6,151.6 190.2,150.8 190.8,150.7 191.4,151.6 192.0,153.9 192.6,151.9 193.2,151.0 193.8,152.4 194.4,152.5 195.0,152.7 195.6,153.1 196.2,151.9 196.8,152.3 197.4,152.1 198.0,151.3 198.6,152.9 199.2,151.9 199.8,150.0 200.4,150.4 201.0,148.9 201.6,149.0 202.2,147.3 202.8,148.6 203.4,149.3 204.0,148.6 204.6,150.7 205.2,150.9 205.8,151.1 206.4,152.4 207.0,152.5 207.6,153.0 208.2,152.4 208.8,151.6 209.4,151.0 210.0,151.4 210.6,150.9 211.2,151.4 211.8,150.9 212.4,149.5 213.0,148.7 213.6,149.7 214.2,150.2 214.8,149.0 215.4,150.2 216.0,149.6 216.6,150.2 217.2,149.4 217.8,148.8 218.4,149.7 219.0,151.1 219.6,152.9 220.2,152.3 220.8,151.7 221.4,150.7 222.0,150.3 222.6,151.6 223.2,150.9 223.8,153.2 224.4,152.5 225.0,152.2 225.6,154.3 226.2,155.3 226.8,154.4 227.4,155.0" fill="none" stroke="#d6175c" stroke-width="2.3" stroke-linejoin="round"/><polyline points="230.6,148.2 231.2,151.5 231.8,154.4 232.4,151.0 233.0,147.5 233.6,149.8 234.2,152.2 234.8,154.7 235.4,148.9 236.0,146.7 236.6,151.5 237.2,152.5 237.8,155.9 238.4,155.4 239.0,152.1 239.6,150.4 240.2,157.9 240.8,147.8 241.4,136.0 242.0,125.4 242.6,119.7 243.2,112.4 243.8,103.0 244.4,109.7 245.0,118.9 245.6,128.2 246.2,133.0 246.8,134.2 247.4,130.9 248.0,138.9 248.6,137.7 249.2,141.8 249.9,139.3 250.5,142.9 251.1,142.3 251.7,145.2 252.3,159.1 252.9,150.9 253.5,152.0 254.1,144.0 254.7,145.6 255.3,150.3 255.9,149.3 256.5,150.7 257.1,150.1 257.7,145.5 258.3,150.2 258.9,146.3 259.5,155.7 260.1,149.5 260.7,152.1 261.3,150.3 261.9,153.5 262.5,148.4 263.1,153.0 263.7,150.1 264.3,154.7 264.9,153.8 265.5,151.5 266.1,147.0 266.7,151.7 267.3,152.1 267.9,157.0 268.5,150.6 269.1,152.1 269.7,152.5 270.3,151.7 270.9,151.2 271.5,150.9 272.1,147.7 272.7,144.9 273.3,146.4 273.9,150.9 274.5,156.2 275.1,155.9 275.7,156.1 276.3,155.1 276.9,154.4 277.5,152.2 278.1,153.7 278.7,158.3 279.3,151.5 279.9,147.7 280.5,157.0 281.1,153.4 281.7,155.0 282.3,155.2 282.9,147.3 283.5,158.8 284.1,160.2 284.7,154.3 285.3,154.5 285.9,152.1 286.5,147.3 287.1,148.7 287.8,151.1 288.4,154.9 289.0,154.7 289.6,152.0 290.2,156.2 290.8,149.3 291.4,153.1 292.0,155.7 292.6,151.0 293.2,143.4 293.8,144.2 294.4,149.1 295.0,152.0 295.6,157.1 296.2,148.7 296.8,149.8 297.4,152.8 298.0,150.6 298.6,141.0 299.2,150.4 299.8,159.7 300.4,157.7 301.0,149.4 301.6,148.5 302.2,150.7 302.8,160.6 303.4,156.6 304.0,153.2 304.6,157.8 305.2,152.8 305.8,158.9 306.4,150.8" fill="none" stroke="#b4b6b8" stroke-width="0.6" stroke-linejoin="round"/>
<polyline points="230.6,156.2 231.2,155.4 231.8,154.0 232.4,147.4 233.0,148.3 233.6,148.8 234.2,149.2 234.8,152.5 235.4,150.9 236.0,153.6 236.6,152.4 237.2,150.8 237.8,151.5 238.4,152.6 239.0,154.2 239.6,150.8 240.2,150.3 240.8,142.5 241.4,141.5 242.0,135.4 242.6,123.2 243.2,112.8 243.8,101.6 244.4,110.7 245.0,119.7 245.6,133.4 246.2,133.0 246.8,131.9 247.4,128.7 248.0,140.6 248.6,143.3 249.2,140.0 249.9,143.7 250.5,140.2 251.1,153.9 251.7,152.2 252.3,151.9 252.9,148.2 253.5,139.4 254.1,144.7 254.7,141.1 255.3,148.8 255.9,140.8 256.5,142.9 257.1,152.2 257.7,157.1 258.3,147.5 258.9,142.8 259.5,150.8 260.1,153.5 260.7,147.1 261.3,146.1 261.9,145.7 262.5,143.6 263.1,144.9 263.7,153.1 264.3,153.8 264.9,159.5 265.5,152.9 266.1,150.4 266.7,146.2 267.3,148.1 267.9,144.1 268.5,140.8 269.1,149.6 269.7,155.6 270.3,155.3 270.9,157.2 271.5,153.6 272.1,148.4 272.7,149.9 273.3,148.5 273.9,145.1 274.5,141.6 275.1,141.2 275.7,147.0 276.3,149.7 276.9,148.1 277.5,155.2 278.1,152.7 278.7,153.5 279.3,156.3 279.9,149.1 280.5,142.0 281.1,150.5 281.7,147.6 282.3,154.7 282.9,153.3 283.5,155.4 284.1,155.3 284.7,143.8 285.3,151.0 285.9,148.0 286.5,146.6 287.1,147.4 287.8,152.5 288.4,154.8 289.0,156.1 289.6,145.9 290.2,146.6 290.8,139.7 291.4,146.4 292.0,151.6 292.6,148.0 293.2,150.7 293.8,151.7 294.4,155.1 295.0,149.0 295.6,146.8 296.2,146.4 296.8,156.3 297.4,157.1 298.0,152.6 298.6,152.4 299.2,151.9 299.8,152.1 300.4,150.5 301.0,149.5 301.6,145.4 302.2,146.5 302.8,156.0 303.4,154.9 304.0,152.7 304.6,150.8 305.2,151.2 305.8,152.6 306.4,149.0" fill="none" stroke="#b4b6b8" stroke-width="0.6" stroke-linejoin="round"/>
<polyline points="230.6,150.5 231.2,149.6 231.8,148.6 232.4,148.1 233.0,153.4 233.6,145.9 234.2,149.3 234.8,149.4 235.4,149.4 236.0,151.4 236.6,155.0 237.2,153.2 237.8,151.9 238.4,150.1 239.0,150.8 239.6,154.0 240.2,151.3 240.8,143.5 241.4,133.4 242.0,124.7 242.6,115.2 243.2,113.4 243.8,105.0 244.4,109.9 245.0,122.4 245.6,125.8 246.2,131.5 246.8,135.7 247.4,132.5 248.0,133.4 248.6,137.6 249.2,145.3 249.9,148.9 250.5,143.3 251.1,148.1 251.7,146.1 252.3,145.1 252.9,144.6 253.5,145.6 254.1,140.3 254.7,142.0 255.3,142.0 255.9,149.3 256.5,158.2 257.1,163.8 257.7,153.5 258.3,144.4 258.9,146.5 259.5,145.1 260.1,156.3 260.7,154.6 261.3,148.8 261.9,153.5 262.5,153.5 263.1,144.9 263.7,146.2 264.3,147.9 264.9,149.5 265.5,150.6 266.1,149.1 266.7,150.7 267.3,148.1 267.9,146.0 268.5,154.9 269.1,153.4 269.7,153.2 270.3,145.1 270.9,147.9 271.5,152.9 272.1,146.2 272.7,153.4 273.3,150.0 273.9,152.0 274.5,150.5 275.1,151.5 275.7,155.7 276.3,150.8 276.9,157.0 277.5,149.8 278.1,146.6 278.7,152.1 279.3,147.0 279.9,148.0 280.5,153.4 281.1,156.6 281.7,145.7 282.3,151.1 282.9,158.5 283.5,158.3 284.1,152.5 284.7,149.1 285.3,149.1 285.9,145.7 286.5,148.1 287.1,149.2 287.8,149.8 288.4,155.3 289.0,151.6 289.6,145.4 290.2,153.3 290.8,147.6 291.4,148.1 292.0,149.5 292.6,149.2 293.2,146.5 293.8,148.6 294.4,159.0 295.0,151.5 295.6,150.8 296.2,155.6 296.8,155.8 297.4,155.9 298.0,156.4 298.6,145.2 299.2,145.8 299.8,149.9 300.4,152.9 301.0,157.1 301.6,155.3 302.2,151.9 302.8,151.8 303.4,150.8 304.0,152.2 304.6,154.5 305.2,151.2 305.8,148.2 306.4,147.0" fill="none" stroke="#b4b6b8" stroke-width="0.6" stroke-linejoin="round"/>
<polyline points="230.6,154.1 231.2,154.7 231.8,154.7 232.4,152.3 233.0,153.4 233.6,148.8 234.2,149.6 234.8,148.3 235.4,152.0 236.0,149.5 236.6,149.9 237.2,151.5 237.8,154.8 238.4,149.7 239.0,147.5 239.6,151.7 240.2,147.6 240.8,146.5 241.4,136.9 242.0,129.9 242.6,117.5 243.2,115.5 243.8,106.3 244.4,110.3 245.0,125.6 245.6,131.6 246.2,142.0 246.8,138.6 247.4,137.1 248.0,139.8 248.6,146.8 249.2,145.5 249.9,146.2 250.5,146.9 251.1,143.4 251.7,145.4 252.3,144.0 252.9,140.8 253.5,148.5 254.1,150.6 254.7,149.3 255.3,145.2 255.9,139.7 256.5,147.7 257.1,148.1 257.7,141.9 258.3,146.3 258.9,141.9 259.5,146.4 260.1,148.7 260.7,150.3 261.3,150.4 261.9,150.2 262.5,144.9 263.1,146.1 263.7,146.0 264.3,147.1 264.9,149.5 265.5,151.8 266.1,156.6 266.7,141.5 267.3,148.1 267.9,148.1 268.5,158.0 269.1,156.1 269.7,145.0 270.3,149.4 270.9,147.3 271.5,152.6 272.1,146.3 272.7,147.9 273.3,148.3 273.9,148.7 274.5,146.8 275.1,141.2 275.7,148.4 276.3,153.1 276.9,150.5 277.5,145.8 278.1,149.0 278.7,151.6 279.3,149.6 279.9,149.5 280.5,155.2 281.1,147.1 281.7,146.5 282.3,140.9 282.9,143.8 283.5,144.7 284.1,144.1 284.7,145.0 285.3,155.3 285.9,150.9 286.5,149.7 287.1,158.6 287.8,152.6 288.4,143.9 289.0,149.4 289.6,145.9 290.2,155.1 290.8,146.7 291.4,146.5 292.0,142.3 292.6,147.6 293.2,145.1 293.8,148.0 294.4,147.8 295.0,146.8 295.6,152.7 296.2,154.7 296.8,151.9 297.4,147.1 298.0,144.8 298.6,149.3 299.2,159.4 299.8,151.6 300.4,147.5 301.0,146.4 301.6,144.5 302.2,144.3 302.8,147.3 303.4,155.0 304.0,151.9 304.6,148.8 305.2,143.3 305.8,148.7 306.4,149.7" fill="none" stroke="#b4b6b8" stroke-width="0.6" stroke-linejoin="round"/>
<polyline points="230.6,152.0 231.2,152.5 231.8,152.7 232.4,152.5 233.0,152.1 233.6,152.1 234.2,151.9 234.8,153.1 235.4,151.9 236.0,151.5 236.6,152.2 237.2,151.8 237.8,152.5 238.4,152.0 239.0,151.8 239.6,151.4 240.2,150.4 240.8,145.5 241.4,139.0 242.0,131.1 242.6,123.1 243.2,115.3 243.8,107.2 244.4,113.5 245.0,120.7 245.6,127.7 246.2,131.2 246.8,133.7 247.4,135.8 248.0,138.8 248.6,141.6 249.2,144.1 249.9,144.1 250.5,144.1 251.1,144.7 251.7,146.4 252.3,146.8 252.9,147.3 253.5,147.7 254.1,148.4 254.7,149.6 255.3,150.9 255.9,149.4 256.5,150.7 257.1,150.4 257.7,149.9 258.3,151.9 258.9,151.1 259.5,152.4 260.1,152.5 260.7,150.8 261.3,150.9 261.9,151.2 262.5,150.7 263.1,148.4 263.7,148.5 264.3,148.7 264.9,148.1 265.5,150.1 266.1,149.8 266.7,149.5 267.3,149.4 267.9,148.8 268.5,148.5 269.1,149.0 269.7,149.5 270.3,149.2 270.9,149.3 271.5,148.3 272.1,149.3 272.7,148.8 273.3,149.4 273.9,148.8 274.5,148.7 275.1,149.3 275.7,148.5 276.3,151.1 276.9,150.8 277.5,150.6 278.1,149.8 278.7,151.3 279.3,152.2 279.9,151.9 280.5,150.3 281.1,149.8 281.7,150.5 282.3,150.0 282.9,149.1 283.5,148.4 284.1,148.3 284.7,148.9 285.3,148.8 285.9,149.3 286.5,152.0 287.1,153.1 287.8,151.5 288.4,151.5 289.0,151.3 289.6,151.0 290.2,151.8 290.8,151.1 291.4,150.7 292.0,150.4 292.6,150.3 293.2,151.5 293.8,152.0 294.4,150.5 295.0,150.1 295.6,149.6 296.2,150.6 296.8,150.9 297.4,151.6 298.0,151.3 298.6,149.5 299.2,150.3 299.8,150.6 300.4,151.1 301.0,149.9 301.6,150.3 302.2,149.9 302.8,149.6 303.4,150.3 304.0,150.8 304.6,150.1 305.2,148.9 305.8,147.3 306.4,147.9" fill="none" stroke="#d6175c" stroke-width="2.3" stroke-linejoin="round"/><polyline points="310.5,147.5 311.1,150.8 311.7,150.6 312.3,149.9 312.9,153.8 313.5,152.6 314.1,151.2 314.7,156.6 315.3,152.0 315.9,148.1 316.5,146.5 317.1,148.3 317.7,152.3 318.3,154.3 318.9,155.8 319.5,150.5 320.2,148.2 320.8,142.6 321.4,140.9 322.0,123.9 322.6,117.1 323.2,117.1 323.8,101.7 324.4,98.0 325.0,101.3 325.6,97.1 326.2,74.9 326.8,71.3 327.4,73.9 328.0,64.6 328.6,61.5 329.2,72.0 329.8,81.6 330.4,89.0 331.0,93.3 331.6,99.6 332.2,107.5 332.8,112.6 333.4,119.8 334.0,127.1 334.6,125.2 335.2,131.3 335.8,129.4 336.4,129.4 337.0,132.5 337.6,136.0 338.2,136.0 338.9,128.1 339.5,142.6 340.1,141.0 340.7,139.3 341.3,144.4 341.9,141.4 342.5,137.3 343.1,144.0 343.7,146.4 344.3,142.6 344.9,148.3 345.5,148.7 346.1,142.7 346.7,152.5 347.3,150.0 347.9,143.6 348.5,147.9 349.1,148.3 349.7,152.0 350.3,144.0 350.9,151.0 351.5,153.2 352.1,153.1 352.7,152.9 353.3,155.8 353.9,154.5 354.5,151.8 355.1,147.1 355.7,153.5 356.3,155.3 357.0,153.2 357.6,151.8 358.2,153.7 358.8,141.2 359.4,148.4 360.0,139.5 360.6,147.5 361.2,153.6 361.8,159.2 362.4,151.6 363.0,152.6 363.6,150.9 364.2,141.6 364.8,150.3 365.4,150.4 366.0,150.8 366.6,146.8 367.2,149.1 367.8,150.4 368.4,155.8 369.0,153.7 369.6,165.9 370.2,154.4 370.8,151.0 371.4,150.7 372.0,147.5 372.6,155.8 373.2,155.3 373.8,147.3 374.4,150.1 375.0,155.4 375.7,146.8 376.3,150.2 376.9,149.8 377.5,160.1 378.1,156.0 378.7,151.2 379.3,148.9 379.9,158.1 380.5,151.8 381.1,160.7 381.7,148.3 382.3,149.5 382.9,149.7 383.5,148.0 384.1,149.4 384.7,153.5" fill="none" stroke="#b4b6b8" stroke-width="0.6" stroke-linejoin="round"/>
<polyline points="310.5,157.1 311.1,158.9 311.7,153.2 312.3,154.2 312.9,146.1 313.5,153.8 314.1,149.6 314.7,150.4 315.3,158.5 315.9,151.5 316.5,152.7 317.1,150.0 317.7,146.8 318.3,147.6 318.9,152.1 319.5,140.3 320.2,138.3 320.8,139.4 321.4,135.2 322.0,114.4 322.6,118.2 323.2,113.7 323.8,101.2 324.4,92.4 325.0,95.4 325.6,85.6 326.2,61.9 326.8,60.8 327.4,57.2 328.0,54.7 328.6,48.4 329.2,62.9 329.8,76.9 330.4,80.4 331.0,84.8 331.6,94.4 332.2,106.6 332.8,114.2 333.4,115.7 334.0,117.3 334.6,123.5 335.2,131.4 335.8,129.7 336.4,137.4 337.0,136.9 337.6,138.1 338.2,135.9 338.9,144.3 339.5,143.0 340.1,136.4 340.7,143.8 341.3,141.8 341.9,147.5 342.5,146.3 343.1,143.0 343.7,145.5 344.3,144.1 344.9,142.6 345.5,145.7 346.1,150.2 346.7,148.8 347.3,147.9 347.9,145.8 348.5,149.8 349.1,150.1 349.7,153.1 350.3,152.0 350.9,158.9 351.5,146.4 352.1,148.4 352.7,151.6 353.3,154.3 353.9,145.6 354.5,143.9 355.1,148.3 355.7,154.4 356.3,156.9 357.0,147.1 357.6,150.4 358.2,155.8 358.8,153.1 359.4,147.8 360.0,147.3 360.6,144.6 361.2,154.0 361.8,151.4 362.4,149.8 363.0,147.5 363.6,149.6 364.2,147.3 364.8,146.2 365.4,149.7 366.0,150.1 366.6,153.1 367.2,152.9 367.8,157.1 368.4,153.6 369.0,153.6 369.6,153.5 370.2,149.3 370.8,155.9 371.4,151.2 372.0,145.4 372.6,154.9 373.2,155.8 373.8,151.2 374.4,155.8 375.0,157.4 375.7,157.0 376.3,149.2 376.9,152.0 377.5,148.1 378.1,148.5 378.7,148.8 379.3,147.8 379.9,152.9 380.5,149.5 381.1,154.1 381.7,153.8 382.3,150.7 382.9,152.7 383.5,155.5 384.1,158.4 384.7,153.7" fill="none" stroke="#b4b6b8" stroke-width="0.6" stroke-linejoin="round"/>
<polyline points="310.5,155.9 311.1,149.7 311.7,148.3 312.3,154.4 312.9,152.4 313.5,153.7 314.1,156.3 314.7,149.5 315.3,152.7 315.9,158.0 316.5,156.6 317.1,154.1 317.7,154.6 318.3,153.1 318.9,154.8 319.5,148.1 320.2,141.3 320.8,139.3 321.4,135.7 322.0,119.6 322.6,117.1 323.2,109.0 323.8,97.8 324.4,95.6 325.0,87.4 325.6,84.7 326.2,61.2 326.8,59.7 327.4,57.5 328.0,49.4 328.6,44.6 329.2,56.0 329.8,67.5 330.4,75.6 331.0,82.9 331.6,95.6 332.2,103.1 332.8,107.3 333.4,116.3 334.0,117.9 334.6,125.5 335.2,125.0 335.8,132.8 336.4,131.2 337.0,129.3 337.6,135.2 338.2,131.3 338.9,132.1 339.5,138.8 340.1,138.3 340.7,142.1 341.3,142.7 341.9,143.8 342.5,144.1 343.1,147.0 343.7,145.5 344.3,149.8 344.9,151.1 345.5,140.0 346.1,137.1 346.7,149.6 347.3,146.0 347.9,147.5 348.5,146.9 349.1,148.4 349.7,156.9 350.3,148.3 350.9,148.5 351.5,148.5 352.1,144.3 352.7,143.8 353.3,146.2 353.9,148.2 354.5,150.7 355.1,142.3 355.7,141.1 356.3,153.8 357.0,150.8 357.6,153.9 358.2,149.9 358.8,147.4 359.4,157.9 360.0,148.1 360.6,146.0 361.2,151.7 361.8,151.1 362.4,144.2 363.0,149.0 363.6,153.0 364.2,145.4 364.8,146.6 365.4,152.5 366.0,159.1 366.6,144.4 367.2,145.9 367.8,149.3 368.4,146.7 369.0,145.9 369.6,147.2 370.2,151.8 370.8,147.0 371.4,153.2 372.0,155.2 372.6,156.0 373.2,159.1 373.8,151.9 374.4,151.3 375.0,155.3 375.7,157.9 376.3,157.4 376.9,151.7 377.5,149.6 378.1,145.5 378.7,147.7 379.3,146.6 379.9,147.9 380.5,148.8 381.1,154.0 381.7,155.9 382.3,153.0 382.9,147.6 383.5,150.1 384.1,153.0 384.7,155.7" fill="none" stroke="#b4b6b8" stroke-width="0.6" stroke-linejoin="round"/>
<polyline points="310.5,150.0 311.1,153.1 311.7,154.4 312.3,151.8 312.9,149.7 313.5,154.7 314.1,150.0 314.7,153.2 315.3,151.6 315.9,150.8 316.5,150.8 317.1,150.2 317.7,151.2 318.3,156.8 318.9,157.8 319.5,145.2 320.2,142.5 320.8,140.9 321.4,134.7 322.0,123.7 322.6,117.5 323.2,115.3 323.8,96.0 324.4,91.3 325.0,88.3 325.6,86.2 326.2,72.2 326.8,66.6 327.4,64.8 328.0,57.5 328.6,50.6 329.2,63.9 329.8,73.6 330.4,77.5 331.0,88.7 331.6,101.0 332.2,106.3 332.8,108.5 333.4,112.7 334.0,115.6 334.6,122.2 335.2,125.2 335.8,129.0 336.4,132.2 337.0,139.1 337.6,132.7 338.2,127.8 338.9,141.9 339.5,143.1 340.1,140.4 340.7,143.3 341.3,139.0 341.9,140.2 342.5,145.1 343.1,143.2 343.7,144.7 344.3,146.8 344.9,146.7 345.5,145.4 346.1,148.0 346.7,152.4 347.3,153.8 347.9,145.8 348.5,149.8 349.1,140.6 349.7,139.5 350.3,146.5 350.9,149.7 351.5,154.2 352.1,143.6 352.7,151.3 353.3,147.6 353.9,146.7 354.5,150.2 355.1,155.5 355.7,148.0 356.3,142.5 357.0,145.0 357.6,147.8 358.2,154.1 358.8,153.0 359.4,149.9 360.0,148.1 360.6,147.6 361.2,153.2 361.8,144.6 362.4,145.5 363.0,145.2 363.6,153.0 364.2,151.8 364.8,148.2 365.4,152.7 366.0,159.1 366.6,157.6 367.2,147.8 367.8,148.8 368.4,154.5 369.0,144.7 369.6,143.7 370.2,146.6 370.8,151.4 371.4,147.7 372.0,150.3 372.6,150.0 373.2,151.8 373.8,146.4 374.4,140.4 375.0,138.7 375.7,147.3 376.3,153.6 376.9,153.9 377.5,145.6 378.1,142.2 378.7,146.8 379.3,146.0 379.9,142.0 380.5,145.6 381.1,146.1 381.7,149.0 382.3,152.0 382.9,152.3 383.5,152.4 384.1,153.8 384.7,151.8" fill="none" stroke="#b4b6b8" stroke-width="0.6" stroke-linejoin="round"/>
<polyline points="310.5,152.7 311.1,152.4 311.7,152.8 312.3,153.6 312.9,154.2 313.5,152.3 314.1,152.3 314.7,152.8 315.3,152.3 315.9,151.8 316.5,151.0 317.1,150.9 317.7,151.2 318.3,150.3 318.9,150.8 319.5,142.1 320.2,139.5 320.8,136.2 321.4,133.6 322.0,117.4 322.6,114.2 323.2,111.3 323.8,96.9 324.4,94.6 325.0,91.4 325.6,88.7 326.2,68.5 326.8,64.8 327.4,58.7 328.0,54.4 328.6,50.9 329.2,62.1 329.8,73.4 330.4,81.0 331.0,89.3 331.6,97.1 332.2,104.5 332.8,112.0 333.4,115.6 334.0,119.0 334.6,123.6 335.2,128.4 335.8,130.5 336.4,132.1 337.0,134.1 337.6,136.4 338.2,138.2 338.9,138.3 339.5,141.5 340.1,141.7 340.7,140.3 341.3,141.9 341.9,142.4 342.5,143.3 343.1,145.5 343.7,145.2 344.3,145.0 344.9,144.7 345.5,145.5 346.1,146.4 346.7,146.9 347.3,147.2 347.9,145.4 348.5,146.3 349.1,147.6 349.7,147.3 350.3,147.1 350.9,146.7 351.5,147.5 352.1,146.5 352.7,148.9 353.3,148.9 353.9,148.6 354.5,147.9 355.1,149.0 355.7,150.2 356.3,149.8 357.0,150.1 357.6,150.4 358.2,151.2 358.8,151.4 359.4,152.2 360.0,150.4 360.6,152.7 361.2,151.6 361.8,150.3 362.4,149.5 363.0,150.1 363.6,150.9 364.2,152.9 364.8,153.3 365.4,151.9 366.0,151.2 366.6,150.7 367.2,150.2 367.8,150.2 368.4,149.8 369.0,151.1 369.6,151.3 370.2,151.7 370.8,151.4 371.4,150.2 372.0,150.8 372.6,150.5 373.2,152.4 373.8,153.1 374.4,151.5 375.0,150.5 375.7,150.2 376.3,150.3 376.9,151.5 377.5,151.3 378.1,151.7 378.7,151.3 379.3,151.1 379.9,152.3 380.5,152.0 381.1,153.6 381.7,152.9 382.3,152.9 382.9,152.8 383.5,153.1 384.1,154.3 384.7,153.0" fill="none" stroke="#d6175c" stroke-width="2.3" stroke-linejoin="round"/><polyline points="388.6,152.2 389.2,156.6 389.8,151.6 390.4,147.0 391.0,151.2 391.6,153.8 392.2,154.0 392.8,154.5 393.4,152.8 394.0,150.9 394.6,149.7 395.2,150.9 395.8,150.8 396.5,154.5 397.1,154.9 397.7,149.6 398.3,153.4 398.9,152.6 399.5,144.5 400.1,142.0 400.7,120.7 401.3,108.9 401.9,109.1 402.5,86.5 403.1,89.8 403.7,82.8 404.3,69.7 404.9,73.0 405.5,62.8 406.1,56.8 406.7,52.6 407.3,46.1 407.9,43.9 408.5,46.3 409.1,37.7 409.7,37.4 410.3,37.1 410.9,23.6 411.6,28.7 412.2,19.2 412.8,12.7 413.4,12.2 414.0,10.1 414.6,10.5 415.2,4.7 415.8,10.0 416.4,22.8 417.0,37.6 417.6,47.2 418.2,59.1 418.8,62.6 419.4,69.7 420.0,81.4 420.6,91.0 421.2,97.4 421.8,106.8 422.4,114.3 423.0,123.5 423.6,129.0 424.2,129.1 424.8,131.6 425.4,128.8 426.1,128.4 426.7,121.6 427.3,130.5 427.9,132.4 428.5,135.4 429.1,127.0 429.7,130.0 430.3,131.1 430.9,126.7 431.5,136.6 432.1,141.6 432.7,133.5 433.3,138.0 433.9,145.2 434.5,136.0 435.1,142.0 435.7,146.7 436.3,149.6 436.9,137.6 437.5,134.7 438.1,139.1 438.7,144.8 439.3,136.9 439.9,136.4 440.5,134.9 441.2,143.6 441.8,139.9 442.4,143.5 443.0,145.1 443.6,148.0 444.2,146.1 444.8,145.2 445.4,148.5 446.0,146.9 446.6,139.4 447.2,139.9 447.8,146.2 448.4,145.4 449.0,143.2 449.6,144.9 450.2,158.2 450.8,149.2 451.4,148.3 452.0,147.9 452.6,144.9 453.2,150.0 453.8,150.5 454.4,148.8 455.0,141.2 455.6,149.3 456.3,150.2 456.9,147.2 457.5,135.5 458.1,142.3 458.7,140.0 459.3,143.3 459.9,143.4 460.5,142.3 461.1,149.5 461.7,148.4 462.3,152.8 462.9,145.3 463.5,146.0" fill="none" stroke="#b4b6b8" stroke-width="0.6" stroke-linejoin="round"/>
<polyline points="388.6,149.8 389.2,148.7 389.8,149.1 390.4,150.8 391.0,153.6 391.6,153.0 392.2,154.5 392.8,155.3 393.4,153.4 394.0,156.2 394.6,155.5 395.2,152.6 395.8,151.6 396.5,151.6 397.1,149.5 397.7,147.0 398.3,150.1 398.9,149.6 399.5,141.7 400.1,134.8 400.7,117.1 401.3,113.5 401.9,107.7 402.5,91.7 403.1,85.6 403.7,82.7 404.3,73.5 404.9,71.1 405.5,68.1 406.1,57.4 406.7,59.0 407.3,57.0 407.9,44.8 408.5,49.0 409.1,41.6 409.7,42.4 410.3,41.8 410.9,28.7 411.6,33.1 412.2,21.4 412.8,19.2 413.4,20.0 414.0,11.9 414.6,10.9 415.2,7.2 415.8,9.2 416.4,23.4 417.0,32.8 417.6,51.0 418.2,59.2 418.8,70.2 419.4,71.4 420.0,74.6 420.6,80.3 421.2,93.0 421.8,99.9 422.4,112.3 423.0,116.2 423.6,114.9 424.2,123.1 424.8,124.4 425.4,130.5 426.1,134.4 426.7,134.5 427.3,128.1 427.9,127.6 428.5,140.7 429.1,135.3 429.7,135.9 430.3,135.7 430.9,135.3 431.5,134.9 432.1,133.5 432.7,133.5 433.3,127.6 433.9,141.0 434.5,138.7 435.1,133.2 435.7,138.9 436.3,141.7 436.9,134.1 437.5,135.4 438.1,144.3 438.7,143.6 439.3,143.1 439.9,145.3 440.5,141.7 441.2,139.8 441.8,147.1 442.4,142.5 443.0,141.5 443.6,144.2 444.2,142.8 444.8,137.3 445.4,148.3 446.0,144.2 446.6,150.6 447.2,147.7 447.8,141.0 448.4,148.9 449.0,144.7 449.6,140.5 450.2,142.6 450.8,134.7 451.4,142.5 452.0,140.6 452.6,142.0 453.2,140.0 453.8,145.8 454.4,146.6 455.0,150.0 455.6,153.6 456.3,149.3 456.9,147.1 457.5,147.3 458.1,142.9 458.7,142.5 459.3,147.8 459.9,143.1 460.5,137.2 461.1,141.7 461.7,145.8 462.3,152.4 462.9,145.8 463.5,142.6" fill="none" stroke="#b4b6b8" stroke-width="0.6" stroke-linejoin="round"/>
<polyline points="388.6,153.0 389.2,151.1 389.8,152.5 390.4,150.7 391.0,154.6 391.6,153.9 392.2,154.5 392.8,151.7 393.4,147.8 394.0,150.7 394.6,151.4 395.2,155.1 395.8,155.9 396.5,153.3 397.1,152.3 397.7,149.2 398.3,150.8 398.9,152.1 399.5,139.8 400.1,132.8 400.7,119.8 401.3,111.2 401.9,113.1 402.5,96.3 403.1,93.7 403.7,84.1 404.3,73.2 404.9,65.6 405.5,64.9 406.1,53.8 406.7,53.3 407.3,47.3 407.9,50.3 408.5,50.7 409.1,40.1 409.7,37.4 410.3,33.5 410.9,25.1 411.6,21.1 412.2,17.9 412.8,19.9 413.4,15.7 414.0,11.1 414.6,6.0 415.2,3.5 415.8,9.0 416.4,25.4 417.0,34.8 417.6,49.7 418.2,56.8 418.8,61.8 419.4,66.1 420.0,77.3 420.6,85.0 421.2,98.3 421.8,106.8 422.4,108.9 423.0,121.8 423.6,125.5 424.2,113.9 424.8,118.6 425.4,126.7 426.1,123.3 426.7,126.2 427.3,132.4 427.9,133.7 428.5,135.3 429.1,136.9 429.7,131.7 430.3,143.4 430.9,140.3 431.5,146.1 432.1,138.6 432.7,139.7 433.3,139.5 433.9,137.8 434.5,139.4 435.1,140.0 435.7,142.5 436.3,141.5 436.9,140.3 437.5,141.7 438.1,146.2 438.7,142.4 439.3,143.4 439.9,142.0 440.5,133.1 441.2,134.5 441.8,135.0 442.4,133.5 443.0,136.2 443.6,132.6 444.2,139.8 444.8,139.1 445.4,146.2 446.0,145.4 446.6,138.6 447.2,140.6 447.8,142.5 448.4,140.4 449.0,141.1 449.6,138.5 450.2,139.0 450.8,143.4 451.4,142.6 452.0,148.6 452.6,137.4 453.2,138.9 453.8,141.2 454.4,149.5 455.0,151.1 455.6,150.2 456.3,150.9 456.9,153.8 457.5,151.1 458.1,146.6 458.7,146.8 459.3,143.4 459.9,144.2 460.5,147.0 461.1,144.6 461.7,146.2 462.3,144.7 462.9,140.8 463.5,139.0" fill="none" stroke="#b4b6b8" stroke-width="0.6" stroke-linejoin="round"/>
<polyline points="388.6,153.8 389.2,152.0 389.8,151.6 390.4,152.3 391.0,150.7 391.6,155.1 392.2,155.5 392.8,153.9 393.4,149.2 394.0,149.0 394.6,151.0 395.2,154.5 395.8,152.2 396.5,151.4 397.1,152.7 397.7,152.0 398.3,150.9 398.9,147.7 399.5,143.5 400.1,137.8 400.7,118.9 401.3,115.5 401.9,108.5 402.5,90.8 403.1,86.2 403.7,89.2 404.3,74.9 404.9,75.8 405.5,71.5 406.1,61.7 406.7,62.5 407.3,56.6 407.9,55.4 408.5,61.0 409.1,52.7 409.7,48.3 410.3,50.0 410.9,41.4 411.6,43.5 412.2,30.6 412.8,34.4 413.4,28.6 414.0,22.0 414.6,23.0 415.2,18.8 415.8,20.1 416.4,33.4 417.0,45.3 417.6,52.6 418.2,67.2 418.8,71.4 419.4,78.1 420.0,86.2 420.6,94.4 421.2,104.9 421.8,104.0 422.4,114.5 423.0,125.0 423.6,126.7 424.2,126.9 424.8,123.9 425.4,129.7 426.1,129.6 426.7,132.6 427.3,128.9 427.9,130.8 428.5,132.5 429.1,128.0 429.7,136.7 430.3,135.5 430.9,130.7 431.5,133.4 432.1,136.2 432.7,135.5 433.3,132.8 433.9,135.4 434.5,132.0 435.1,129.9 435.7,140.5 436.3,146.5 436.9,149.4 437.5,152.1 438.1,149.6 438.7,139.7 439.3,137.8 439.9,143.9 440.5,139.9 441.2,139.1 441.8,140.3 442.4,142.6 443.0,136.4 443.6,140.0 444.2,143.2 444.8,134.2 445.4,144.0 446.0,146.1 446.6,140.6 447.2,149.4 447.8,147.0 448.4,146.5 449.0,150.7 449.6,135.7 450.2,140.9 450.8,147.0 451.4,150.7 452.0,146.2 452.6,144.1 453.2,141.2 453.8,141.9 454.4,140.2 455.0,133.5 455.6,138.5 456.3,138.6 456.9,140.4 457.5,141.6 458.1,142.0 458.7,144.6 459.3,144.9 459.9,143.9 460.5,142.6 461.1,144.3 461.7,144.2 462.3,144.9 462.9,151.3 463.5,149.1" fill="none" stroke="#b4b6b8" stroke-width="0.6" stroke-linejoin="round"/>
<polyline points="388.6,150.6 389.2,149.0 389.8,150.2 390.4,151.2 391.0,151.0 391.6,150.8 392.2,151.2 392.8,151.6 393.4,150.4 394.0,150.4 394.6,150.4 395.2,149.8 395.8,151.1 396.5,151.5 397.1,151.0 397.7,151.0 398.3,150.6 398.9,150.4 399.5,139.4 400.1,135.7 400.7,116.7 401.3,112.1 401.9,107.6 402.5,90.5 403.1,86.2 403.7,82.3 404.3,69.8 404.9,68.7 405.5,66.3 406.1,58.5 406.7,56.6 407.3,50.4 407.9,48.8 408.5,46.2 409.1,40.3 409.7,38.5 410.3,36.1 410.9,28.8 411.6,27.3 412.2,21.1 412.8,19.2 413.4,17.1 414.0,11.2 414.6,10.4 415.2,8.2 415.8,12.4 416.4,24.3 417.0,35.8 417.6,47.1 418.2,57.1 418.8,64.3 419.4,71.2 420.0,79.9 420.6,88.8 421.2,97.2 421.8,104.5 422.4,112.3 423.0,119.3 423.6,120.7 424.2,120.8 424.8,122.8 425.4,126.7 426.1,127.8 426.7,131.1 427.3,131.6 427.9,130.3 428.5,132.0 429.1,131.8 429.7,133.0 430.3,133.4 430.9,133.7 431.5,134.1 432.1,133.6 432.7,133.9 433.3,134.5 433.9,137.0 434.5,136.9 435.1,137.7 435.7,138.2 436.3,139.4 436.9,139.0 437.5,139.2 438.1,138.4 438.7,140.9 439.3,139.3 439.9,139.7 440.5,139.5 441.2,139.9 441.8,139.6 442.4,139.6 443.0,140.9 443.6,141.8 444.2,141.7 444.8,141.6 445.4,141.8 446.0,141.9 446.6,142.4 447.2,143.1 447.8,143.5 448.4,142.0 449.0,142.3 449.6,141.6 450.2,142.5 450.8,142.5 451.4,143.1 452.0,143.2 452.6,144.2 453.2,145.3 453.8,145.1 454.4,143.6 455.0,143.9 455.6,145.8 456.3,144.9 456.9,144.8 457.5,147.0 458.1,147.9 458.7,147.8 459.3,147.3 459.9,145.7 460.5,147.1 461.1,147.5 461.7,145.6 462.3,145.7 462.9,145.7 463.5,145.9" fill="none" stroke="#d6175c" stroke-width="2.3" stroke-linejoin="round"/><polyline points="152.0,250.4 152.6,245.6 153.2,247.0 153.8,240.6 154.4,244.3 155.0,249.9 155.6,252.5 156.2,245.4 156.8,244.6 157.4,245.1 158.0,238.2 158.6,248.4 159.2,249.1 159.8,248.8 160.4,250.2 161.0,246.6 161.6,244.4 162.2,243.8 162.8,241.6 163.4,235.6 164.0,232.1 164.6,238.2 165.2,240.9 165.8,238.8 166.4,244.7 167.0,245.6 167.6,245.7 168.2,245.2 168.8,246.7 169.4,250.1 170.0,246.6 170.6,250.4 171.3,248.2 171.9,247.9 172.5,251.0 173.1,248.3 173.7,248.0 174.3,245.1 174.9,245.6 175.5,246.3 176.1,244.5 176.7,243.5 177.3,247.8 177.9,249.7 178.5,244.7 179.1,243.7 179.7,247.5 180.3,249.8 180.9,244.4 181.5,244.4 182.1,248.8 182.7,252.6 183.3,251.1 183.9,244.5 184.5,249.2 185.1,247.0 185.7,245.5 186.3,247.0 186.9,243.7 187.5,243.0 188.1,236.7 188.7,246.2 189.3,246.8 189.9,245.1 190.5,245.8 191.1,245.8 191.7,244.5 192.3,243.5 192.9,244.3 193.5,238.4 194.1,238.6 194.7,242.5 195.3,248.8 195.9,248.5 196.5,249.2 197.1,249.3 197.7,246.7 198.3,247.3 198.9,246.5 199.5,245.0 200.1,245.7 200.7,247.2 201.3,245.2 201.9,243.7 202.5,245.9 203.1,246.2 203.7,246.8 204.3,249.7 204.9,248.0 205.5,246.9 206.1,244.6 206.7,242.6 207.3,246.6 207.9,248.2 208.6,248.5 209.2,248.6 209.8,245.5 210.4,247.2 211.0,247.2 211.6,248.5 212.2,245.9 212.8,249.5 213.4,250.5 214.0,245.0 214.6,245.6 215.2,246.1 215.8,247.7 216.4,250.5 217.0,243.2 217.6,248.3 218.2,249.0 218.8,245.9 219.4,244.6 220.0,247.5 220.6,246.1 221.2,245.1 221.8,244.9 222.4,251.6 223.0,242.9 223.6,250.5 224.2,243.5 224.8,248.6 225.4,245.9 226.0,246.5 226.6,244.6 227.2,244.8" fill="none" stroke="#b4b6b8" stroke-width="0.6" stroke-linejoin="round"/>
<polyline points="152.0,240.0 152.6,242.9 153.2,237.9 153.8,241.1 154.4,244.0 155.0,243.6 155.6,243.7 156.2,250.6 156.8,254.2 157.4,253.6 158.0,253.2 158.6,249.7 159.2,245.1 159.8,243.6 160.4,242.0 161.0,242.1 161.6,240.2 162.2,241.1 162.8,241.8 163.4,237.5 164.0,237.6 164.6,235.8 165.2,240.2 165.8,238.9 166.4,240.9 167.0,247.1 167.6,245.7 168.2,243.9 168.8,246.0 169.4,243.6 170.0,245.3 170.6,242.9 171.3,247.1 171.9,245.8 172.5,245.7 173.1,246.4 173.7,246.5 174.3,246.7 174.9,246.1 175.5,245.1 176.1,246.8 176.7,247.3 177.3,249.1 177.9,250.5 178.5,251.5 179.1,247.7 179.7,245.2 180.3,246.6 180.9,246.3 181.5,249.2 182.1,246.8 182.7,248.7 183.3,243.9 183.9,247.2 184.5,245.3 185.1,243.1 185.7,241.1 186.3,241.1 186.9,242.5 187.5,249.1 188.1,249.6 188.7,248.6 189.3,245.7 189.9,246.7 190.5,242.9 191.1,239.9 191.7,240.9 192.3,244.1 192.9,252.3 193.5,242.9 194.1,242.1 194.7,241.7 195.3,241.3 195.9,240.6 196.5,242.4 197.1,241.2 197.7,244.1 198.3,240.3 198.9,241.6 199.5,241.4 200.1,242.7 200.7,246.0 201.3,243.3 201.9,244.7 202.5,243.5 203.1,245.2 203.7,246.7 204.3,245.1 204.9,248.1 205.5,244.0 206.1,250.0 206.7,244.0 207.3,246.2 207.9,247.8 208.6,250.6 209.2,247.3 209.8,248.2 210.4,247.7 211.0,248.4 211.6,248.0 212.2,247.2 212.8,246.6 213.4,249.1 214.0,247.8 214.6,245.6 215.2,242.4 215.8,242.5 216.4,240.9 217.0,247.0 217.6,249.5 218.2,244.1 218.8,245.1 219.4,248.6 220.0,246.0 220.6,243.9 221.2,240.5 221.8,242.3 222.4,244.7 223.0,246.3 223.6,248.1 224.2,247.7 224.8,249.1 225.4,251.4 226.0,249.8 226.6,247.7 227.2,242.4" fill="none" stroke="#b4b6b8" stroke-width="0.6" stroke-linejoin="round"/>
<polyline points="152.0,250.8 152.6,244.3 153.2,244.6 153.8,239.8 154.4,244.4 155.0,247.7 155.6,243.5 156.2,246.3 156.8,244.6 157.4,247.0 158.0,246.9 158.6,244.4 159.2,240.5 159.8,241.6 160.4,245.7 161.0,247.6 161.6,241.9 162.2,241.4 162.8,242.9 163.4,233.7 164.0,235.0 164.6,237.5 165.2,236.1 165.8,237.8 166.4,246.1 167.0,245.0 167.6,246.4 168.2,242.0 168.8,245.1 169.4,245.9 170.0,247.8 170.6,242.3 171.3,237.9 171.9,244.9 172.5,249.2 173.1,247.7 173.7,248.7 174.3,241.7 174.9,247.6 175.5,248.5 176.1,242.6 176.7,242.7 177.3,248.3 177.9,252.4 178.5,249.1 179.1,246.3 179.7,242.2 180.3,243.0 180.9,242.0 181.5,244.9 182.1,245.5 182.7,249.9 183.3,243.7 183.9,244.5 184.5,242.6 185.1,244.2 185.7,248.8 186.3,243.6 186.9,244.5 187.5,247.4 188.1,242.0 188.7,243.3 189.3,249.9 189.9,243.1 190.5,249.8 191.1,249.1 191.7,250.4 192.3,247.4 192.9,246.3 193.5,243.9 194.1,245.0 194.7,246.3 195.3,240.6 195.9,245.6 196.5,250.2 197.1,247.1 197.7,240.8 198.3,248.1 198.9,243.3 199.5,243.5 200.1,243.4 200.7,250.1 201.3,242.7 201.9,245.4 202.5,242.6 203.1,239.9 203.7,243.1 204.3,245.9 204.9,247.1 205.5,249.7 206.1,247.5 206.7,246.7 207.3,243.3 207.9,248.1 208.6,247.4 209.2,248.3 209.8,252.1 210.4,253.4 211.0,255.3 211.6,244.4 212.2,243.3 212.8,242.6 213.4,244.0 214.0,247.6 214.6,246.9 215.2,242.5 215.8,248.5 216.4,250.9 217.0,247.7 217.6,245.9 218.2,248.5 218.8,248.4 219.4,241.3 220.0,244.9 220.6,247.3 221.2,254.1 221.8,247.6 222.4,247.6 223.0,251.1 223.6,246.9 224.2,246.5 224.8,244.2 225.4,247.5 226.0,245.7 226.6,240.0 227.2,244.8" fill="none" stroke="#b4b6b8" stroke-width="0.6" stroke-linejoin="round"/>
<polyline points="152.0,243.6 152.6,242.9 153.2,252.2 153.8,245.7 154.4,242.8 155.0,248.4 155.6,251.3 156.2,248.4 156.8,244.4 157.4,246.2 158.0,245.2 158.6,248.7 159.2,244.4 159.8,245.9 160.4,246.5 161.0,245.9 161.6,248.3 162.2,242.5 162.8,235.1 163.4,235.0 164.0,235.3 164.6,236.0 165.2,240.6 165.8,235.6 166.4,235.6 167.0,241.9 167.6,245.4 168.2,244.6 168.8,249.0 169.4,246.8 170.0,252.3 170.6,246.4 171.3,240.4 171.9,242.6 172.5,244.1 173.1,244.5 173.7,244.4 174.3,246.1 174.9,243.1 175.5,245.5 176.1,245.7 176.7,245.4 177.3,248.0 177.9,248.6 178.5,248.5 179.1,242.9 179.7,245.9 180.3,244.0 180.9,244.8 181.5,247.8 182.1,249.3 182.7,248.1 183.3,247.0 183.9,246.6 184.5,246.9 185.1,244.0 185.7,241.8 186.3,245.0 186.9,246.0 187.5,245.7 188.1,249.6 188.7,242.1 189.3,244.3 189.9,241.8 190.5,244.7 191.1,246.6 191.7,243.8 192.3,244.5 192.9,238.7 193.5,236.9 194.1,244.4 194.7,244.2 195.3,245.0 195.9,246.0 196.5,252.2 197.1,244.3 197.7,247.3 198.3,242.0 198.9,238.9 199.5,239.5 200.1,242.0 200.7,247.3 201.3,249.5 201.9,244.9 202.5,244.0 203.1,246.4 203.7,244.6 204.3,250.7 204.9,243.6 205.5,242.2 206.1,246.9 206.7,242.1 207.3,243.3 207.9,244.5 208.6,245.6 209.2,243.5 209.8,245.1 210.4,246.0 211.0,241.6 211.6,244.0 212.2,246.0 212.8,246.5 213.4,242.5 214.0,245.4 214.6,246.4 215.2,252.0 215.8,245.8 216.4,246.5 217.0,247.4 217.6,241.5 218.2,243.1 218.8,247.2 219.4,245.2 220.0,245.9 220.6,247.3 221.2,245.0 221.8,246.3 222.4,250.3 223.0,243.2 223.6,245.6 224.2,248.1 224.8,249.9 225.4,254.5 226.0,246.8 226.6,247.6 227.2,246.6" fill="none" stroke="#b4b6b8" stroke-width="0.6" stroke-linejoin="round"/>
<polyline points="152.0,245.3 152.6,245.4 153.2,245.5 153.8,245.9 154.4,245.4 155.0,245.6 155.6,244.8 156.2,243.5 156.8,245.0 157.4,246.2 158.0,246.5 158.6,246.0 159.2,246.4 159.8,246.3 160.4,246.0 161.0,246.7 161.6,245.2 162.2,241.6 162.8,238.6 163.4,236.0 164.0,235.1 164.6,237.2 165.2,238.5 165.8,239.7 166.4,241.4 167.0,242.0 167.6,242.0 168.2,243.0 168.8,243.7 169.4,244.1 170.0,245.3 170.6,245.5 171.3,245.5 171.9,245.7 172.5,246.4 173.1,245.9 173.7,246.6 174.3,246.5 174.9,247.1 175.5,247.6 176.1,247.0 176.7,247.0 177.3,246.9 177.9,246.5 178.5,246.7 179.1,247.0 179.7,246.8 180.3,246.2 180.9,245.9 181.5,246.8 182.1,245.3 182.7,244.8 183.3,244.8 183.9,245.1 184.5,244.5 185.1,244.9 185.7,245.6 186.3,246.1 186.9,245.8 187.5,244.8 188.1,244.5 188.7,243.8 189.3,244.8 189.9,244.2 190.5,244.0 191.1,245.5 191.7,246.3 192.3,245.2 192.9,245.3 193.5,245.2 194.1,246.0 194.7,244.9 195.3,244.8 195.9,245.2 196.5,245.5 197.1,244.2 197.7,244.4 198.3,244.7 198.9,245.2 199.5,245.6 200.1,245.0 200.7,244.1 201.3,244.6 201.9,245.0 202.5,244.6 203.1,244.3 203.7,243.2 204.3,243.7 204.9,245.1 205.5,245.2 206.1,244.7 206.7,245.4 207.3,245.7 207.9,246.7 208.6,245.7 209.2,246.0 209.8,245.4 210.4,244.9 211.0,245.6 211.6,246.1 212.2,246.3 212.8,246.6 213.4,245.8 214.0,244.5 214.6,244.0 215.2,244.3 215.8,243.9 216.4,244.1 217.0,244.5 217.6,245.3 218.2,245.6 218.8,245.7 219.4,245.7 220.0,245.3 220.6,246.9 221.2,246.9 221.8,246.7 222.4,246.6 223.0,246.8 223.6,246.9 224.2,246.1 224.8,245.7 225.4,245.9 226.0,244.7 226.6,244.6 227.2,244.9" fill="none" stroke="#231f20" stroke-width="2.3" stroke-linejoin="round"/><polyline points="231.0,249.5 231.6,251.8 232.2,246.6 232.8,244.4 233.4,247.1 234.0,251.9 234.6,249.8 235.2,244.6 235.8,243.8 236.4,245.5 237.0,248.8 237.6,247.3 238.2,245.7 238.8,245.4 239.4,246.4 240.0,244.2 240.7,245.4 241.3,246.5 241.9,247.4 242.5,238.6 243.1,234.7 243.7,224.1 244.3,222.0 244.9,225.4 245.5,227.8 246.1,232.8 246.7,237.7 247.3,237.4 247.9,242.5 248.5,247.1 249.1,250.0 249.7,250.4 250.3,242.4 250.9,244.2 251.5,241.9 252.1,245.7 252.7,244.6 253.3,244.7 253.9,245.4 254.5,242.7 255.1,243.7 255.7,241.8 256.3,249.0 256.9,244.4 257.5,244.1 258.1,239.0 258.7,238.1 259.4,239.5 260.0,244.7 260.6,246.4 261.2,245.6 261.8,242.8 262.4,248.8 263.0,242.9 263.6,241.3 264.2,244.5 264.8,241.5 265.4,244.0 266.0,246.8 266.6,244.9 267.2,245.6 267.8,244.8 268.4,242.6 269.0,234.8 269.6,237.5 270.2,241.9 270.8,238.9 271.4,240.9 272.0,243.7 272.6,247.9 273.2,241.8 273.8,242.0 274.4,244.2 275.0,245.9 275.6,241.1 276.2,248.6 276.8,243.6 277.4,247.3 278.0,245.0 278.7,245.9 279.3,249.8 279.9,248.4 280.5,246.4 281.1,242.4 281.7,242.1 282.3,239.8 282.9,248.7 283.5,241.8 284.1,236.5 284.7,246.5 285.3,249.0 285.9,245.3 286.5,247.4 287.1,243.4 287.7,242.8 288.3,245.6 288.9,246.3 289.5,244.1 290.1,249.3 290.7,248.6 291.3,246.7 291.9,242.3 292.5,244.5 293.1,244.0 293.7,244.5 294.3,247.2 294.9,244.2 295.5,245.6 296.1,247.6 296.7,247.0 297.4,252.4 298.0,242.8 298.6,244.2 299.2,241.6 299.8,243.8 300.4,251.9 301.0,243.0 301.6,243.7 302.2,246.6 302.8,246.1 303.4,248.2 304.0,242.0 304.6,247.0 305.2,243.3 305.8,241.3 306.4,245.6" fill="none" stroke="#b4b6b8" stroke-width="0.6" stroke-linejoin="round"/>
<polyline points="231.0,245.9 231.6,246.8 232.2,247.6 232.8,247.3 233.4,244.8 234.0,240.1 234.6,248.8 235.2,248.5 235.8,244.3 236.4,241.8 237.0,243.4 237.6,244.7 238.2,240.2 238.8,248.6 239.4,248.7 240.0,246.6 240.7,247.7 241.3,247.6 241.9,246.3 242.5,238.3 243.1,234.5 243.7,229.9 244.3,219.0 244.9,221.5 245.5,224.8 246.1,230.7 246.7,232.1 247.3,236.3 247.9,240.1 248.5,243.6 249.1,241.2 249.7,246.1 250.3,243.8 250.9,243.6 251.5,242.4 252.1,237.8 252.7,242.6 253.3,238.5 253.9,245.3 254.5,244.7 255.1,248.8 255.7,247.6 256.3,247.4 256.9,249.3 257.5,245.9 258.1,249.2 258.7,245.7 259.4,245.5 260.0,242.8 260.6,245.4 261.2,246.6 261.8,243.7 262.4,240.5 263.0,243.0 263.6,245.1 264.2,244.3 264.8,241.6 265.4,241.5 266.0,242.7 266.6,236.5 267.2,240.1 267.8,247.1 268.4,241.9 269.0,243.1 269.6,248.9 270.2,248.2 270.8,248.6 271.4,245.7 272.0,241.3 272.6,251.8 273.2,248.1 273.8,246.7 274.4,250.2 275.0,249.0 275.6,246.5 276.2,242.3 276.8,243.6 277.4,244.1 278.0,242.7 278.7,241.8 279.3,241.0 279.9,243.3 280.5,242.8 281.1,245.5 281.7,248.1 282.3,247.1 282.9,245.9 283.5,249.9 284.1,248.7 284.7,242.2 285.3,242.2 285.9,244.7 286.5,242.6 287.1,246.5 287.7,240.8 288.3,238.3 288.9,245.7 289.5,247.2 290.1,241.5 290.7,244.3 291.3,248.9 291.9,243.5 292.5,241.4 293.1,240.6 293.7,241.0 294.3,239.1 294.9,241.9 295.5,240.2 296.1,243.9 296.7,251.4 297.4,244.7 298.0,248.0 298.6,249.8 299.2,240.6 299.8,244.3 300.4,245.2 301.0,244.7 301.6,247.7 302.2,245.3 302.8,246.7 303.4,245.1 304.0,245.3 304.6,243.5 305.2,251.6 305.8,247.8 306.4,243.5" fill="none" stroke="#b4b6b8" stroke-width="0.6" stroke-linejoin="round"/>
<polyline points="231.0,247.1 231.6,245.5 232.2,244.7 232.8,250.0 233.4,247.3 234.0,245.2 234.6,248.9 235.2,246.9 235.8,246.8 236.4,252.4 237.0,251.2 237.6,251.8 238.2,249.6 238.8,251.3 239.4,247.7 240.0,249.6 240.7,250.4 241.3,246.5 241.9,239.3 242.5,237.5 243.1,231.3 243.7,227.5 244.3,219.1 244.9,225.5 245.5,232.2 246.1,241.2 246.7,243.3 247.3,241.5 247.9,245.3 248.5,242.1 249.1,247.2 249.7,245.4 250.3,248.2 250.9,246.3 251.5,244.1 252.1,241.9 252.7,246.8 253.3,245.1 253.9,246.4 254.5,246.2 255.1,239.0 255.7,244.0 256.3,243.0 256.9,244.8 257.5,245.7 258.1,239.5 258.7,241.6 259.4,243.1 260.0,244.9 260.6,247.1 261.2,243.3 261.8,243.2 262.4,245.7 263.0,239.5 263.6,247.9 264.2,242.9 264.8,247.6 265.4,245.9 266.0,250.3 266.6,249.4 267.2,246.1 267.8,240.2 268.4,243.3 269.0,245.0 269.6,246.2 270.2,241.5 270.8,241.1 271.4,241.1 272.0,244.2 272.6,242.0 273.2,243.4 273.8,246.8 274.4,244.2 275.0,248.4 275.6,246.8 276.2,244.8 276.8,247.9 277.4,247.3 278.0,244.8 278.7,243.1 279.3,244.1 279.9,245.6 280.5,248.4 281.1,246.9 281.7,243.8 282.3,240.8 282.9,244.2 283.5,245.8 284.1,248.5 284.7,244.7 285.3,241.2 285.9,246.1 286.5,244.9 287.1,241.6 287.7,248.6 288.3,248.9 288.9,246.6 289.5,246.5 290.1,243.5 290.7,247.4 291.3,244.8 291.9,243.8 292.5,243.9 293.1,241.6 293.7,246.9 294.3,250.6 294.9,249.4 295.5,240.9 296.1,243.0 296.7,242.7 297.4,245.6 298.0,239.4 298.6,237.2 299.2,241.3 299.8,246.8 300.4,245.5 301.0,251.8 301.6,245.4 302.2,245.6 302.8,245.2 303.4,243.1 304.0,247.9 304.6,242.7 305.2,241.7 305.8,243.3 306.4,243.5" fill="none" stroke="#b4b6b8" stroke-width="0.6" stroke-linejoin="round"/>
<polyline points="231.0,249.0 231.6,246.7 232.2,250.8 232.8,248.5 233.4,248.4 234.0,242.9 234.6,247.6 235.2,245.3 235.8,248.8 236.4,248.9 237.0,249.0 237.6,250.6 238.2,249.0 238.8,244.8 239.4,246.2 240.0,246.7 240.7,243.0 241.3,246.7 241.9,246.9 242.5,238.7 243.1,231.6 243.7,226.2 244.3,222.3 244.9,222.7 245.5,230.5 246.1,231.3 246.7,235.8 247.3,238.9 247.9,236.3 248.5,242.4 249.1,244.4 249.7,239.1 250.3,240.7 250.9,240.8 251.5,240.1 252.1,243.6 252.7,241.4 253.3,243.0 253.9,240.3 254.5,241.8 255.1,248.2 255.7,246.5 256.3,240.3 256.9,239.9 257.5,242.0 258.1,238.6 258.7,244.8 259.4,244.1 260.0,243.8 260.6,244.0 261.2,242.0 261.8,240.0 262.4,233.8 263.0,235.8 263.6,241.8 264.2,245.2 264.8,243.9 265.4,238.8 266.0,241.3 266.6,243.2 267.2,240.1 267.8,246.6 268.4,241.9 269.0,243.4 269.6,240.8 270.2,245.6 270.8,241.2 271.4,240.6 272.0,246.2 272.6,241.4 273.2,241.8 273.8,245.0 274.4,245.6 275.0,239.9 275.6,244.6 276.2,243.7 276.8,247.7 277.4,240.7 278.0,245.4 278.7,246.0 279.3,244.0 279.9,243.2 280.5,245.2 281.1,242.9 281.7,243.0 282.3,241.9 282.9,244.1 283.5,246.4 284.1,240.8 284.7,243.5 285.3,245.2 285.9,249.2 286.5,244.3 287.1,248.2 287.7,244.8 288.3,246.2 288.9,246.0 289.5,246.1 290.1,244.4 290.7,242.0 291.3,248.2 291.9,250.2 292.5,246.5 293.1,245.1 293.7,244.5 294.3,241.1 294.9,240.6 295.5,244.7 296.1,247.7 296.7,245.4 297.4,242.6 298.0,241.3 298.6,242.1 299.2,246.1 299.8,245.7 300.4,241.4 301.0,240.7 301.6,244.6 302.2,246.0 302.8,250.6 303.4,251.3 304.0,248.0 304.6,244.4 305.2,245.7 305.8,242.3 306.4,242.5" fill="none" stroke="#b4b6b8" stroke-width="0.6" stroke-linejoin="round"/>
<polyline points="231.0,247.6 231.6,248.3 232.2,247.5 232.8,247.7 233.4,247.4 234.0,247.3 234.6,247.2 235.2,247.2 235.8,246.0 236.4,245.2 237.0,245.4 237.6,245.9 238.2,245.5 238.8,245.5 239.4,244.7 240.0,245.5 240.7,245.7 241.3,246.5 241.9,242.5 242.5,236.5 243.1,230.7 243.7,225.6 244.3,219.8 244.9,224.1 245.5,227.6 246.1,231.6 246.7,233.1 247.3,235.6 247.9,238.6 248.5,241.0 249.1,242.3 249.7,243.8 250.3,242.9 250.9,243.8 251.5,244.3 252.1,244.2 252.7,244.7 253.3,243.6 253.9,243.2 254.5,243.0 255.1,243.3 255.7,243.2 256.3,244.3 256.9,243.8 257.5,243.5 258.1,242.7 258.7,243.2 259.4,243.7 260.0,243.2 260.6,242.5 261.2,241.9 261.8,243.1 262.4,243.7 263.0,243.8 263.6,244.2 264.2,244.3 264.8,244.4 265.4,243.2 266.0,243.6 266.6,244.1 267.2,244.7 267.8,245.0 268.4,244.2 269.0,244.2 269.6,243.2 270.2,244.3 270.8,243.3 271.4,243.9 272.0,243.4 272.6,243.0 273.2,242.7 273.8,242.9 274.4,243.4 275.0,244.2 275.6,244.0 276.2,244.5 276.8,244.9 277.4,245.9 278.0,245.0 278.7,245.0 279.3,245.1 279.9,244.9 280.5,245.1 281.1,244.4 281.7,244.1 282.3,243.8 282.9,243.5 283.5,243.2 284.1,243.4 284.7,242.9 285.3,243.0 285.9,243.7 286.5,242.9 287.1,242.7 287.7,242.9 288.3,242.7 288.9,242.6 289.5,244.2 290.1,244.5 290.7,244.2 291.3,243.8 291.9,243.1 292.5,242.8 293.1,241.9 293.7,243.0 294.3,243.1 294.9,244.1 295.5,244.2 296.1,243.1 296.7,244.7 297.4,245.0 298.0,245.5 298.6,245.0 299.2,244.6 299.8,244.5 300.4,245.7 301.0,244.7 301.6,244.1 302.2,244.6 302.8,243.5 303.4,244.8 304.0,244.1 304.6,245.1 305.2,245.0 305.8,244.8 306.4,244.1" fill="none" stroke="#231f20" stroke-width="2.3" stroke-linejoin="round"/><polyline points="310.5,246.7 311.1,245.2 311.7,255.4 312.3,250.2 312.9,247.4 313.5,247.2 314.1,244.2 314.7,242.5 315.3,245.7 315.9,243.8 316.5,246.9 317.1,244.9 317.7,239.5 318.4,239.0 319.0,240.2 319.6,237.2 320.2,237.5 320.8,232.8 321.4,231.2 322.0,221.5 322.6,216.8 323.2,214.7 323.8,211.3 324.4,201.8 325.0,203.0 325.6,194.7 326.2,194.7 326.8,187.6 327.4,182.2 328.0,182.0 328.6,190.2 329.2,204.3 329.8,204.0 330.4,213.8 331.0,219.6 331.6,219.7 332.2,227.4 332.8,233.9 333.5,230.8 334.1,230.0 334.7,235.5 335.3,236.1 335.9,242.5 336.5,240.6 337.1,235.7 337.7,237.6 338.3,235.3 338.9,240.6 339.5,242.8 340.1,240.6 340.7,238.8 341.3,243.9 341.9,242.3 342.5,246.4 343.1,241.2 343.7,241.6 344.3,240.9 344.9,239.2 345.5,249.9 346.1,250.5 346.7,243.8 347.3,245.7 347.9,238.6 348.6,245.3 349.2,247.2 349.8,243.5 350.4,242.3 351.0,243.6 351.6,244.7 352.2,242.7 352.8,240.5 353.4,241.5 354.0,241.4 354.6,245.0 355.2,244.2 355.8,244.3 356.4,238.7 357.0,240.6 357.6,241.2 358.2,241.1 358.8,242.3 359.4,242.1 360.0,238.4 360.6,244.6 361.2,246.6 361.8,243.1 362.4,245.3 363.1,241.4 363.7,239.0 364.3,241.4 364.9,247.5 365.5,244.7 366.1,239.4 366.7,242.9 367.3,241.7 367.9,240.9 368.5,243.8 369.1,238.6 369.7,236.6 370.3,236.9 370.9,244.7 371.5,244.5 372.1,242.3 372.7,241.3 373.3,245.0 373.9,248.1 374.5,243.3 375.1,244.6 375.7,251.3 376.3,248.4 376.9,244.6 377.5,245.3 378.2,244.9 378.8,246.4 379.4,246.0 380.0,243.4 380.6,243.6 381.2,245.1 381.8,242.5 382.4,243.9 383.0,241.4 383.6,247.0 384.2,250.0 384.8,243.7 385.4,246.7" fill="none" stroke="#b4b6b8" stroke-width="0.6" stroke-linejoin="round"/>
<polyline points="310.5,244.2 311.1,245.5 311.7,248.2 312.3,242.4 312.9,247.1 313.5,244.8 314.1,241.6 314.7,243.5 315.3,246.3 315.9,245.0 316.5,245.7 317.1,244.1 317.7,242.9 318.4,247.0 319.0,242.7 319.6,246.9 320.2,242.1 320.8,234.5 321.4,228.3 322.0,222.3 322.6,217.8 323.2,213.2 323.8,208.3 324.4,198.2 325.0,191.1 325.6,193.6 326.2,189.1 326.8,185.1 327.4,182.4 328.0,182.7 328.6,195.6 329.2,199.2 329.8,203.7 330.4,206.0 331.0,215.6 331.6,221.7 332.2,229.2 332.8,233.0 333.5,229.0 334.1,227.2 334.7,235.3 335.3,232.9 335.9,234.7 336.5,236.1 337.1,239.1 337.7,240.5 338.3,236.7 338.9,236.9 339.5,234.2 340.1,240.4 340.7,240.9 341.3,236.9 341.9,244.0 342.5,243.3 343.1,240.0 343.7,240.7 344.3,240.4 344.9,242.4 345.5,243.4 346.1,241.4 346.7,243.7 347.3,235.6 347.9,239.4 348.6,243.7 349.2,246.1 349.8,246.5 350.4,241.2 351.0,237.4 351.6,240.1 352.2,248.8 352.8,245.9 353.4,241.9 354.0,237.8 354.6,241.7 355.2,241.4 355.8,244.0 356.4,244.1 357.0,236.6 357.6,240.6 358.2,244.7 358.8,242.0 359.4,239.3 360.0,238.5 360.6,237.7 361.2,247.8 361.8,249.1 362.4,243.6 363.1,247.5 363.7,241.7 364.3,241.2 364.9,240.5 365.5,241.8 366.1,244.8 366.7,249.9 367.3,247.9 367.9,244.7 368.5,244.4 369.1,243.2 369.7,244.5 370.3,241.3 370.9,243.5 371.5,244.9 372.1,246.8 372.7,242.3 373.3,244.4 373.9,244.7 374.5,241.7 375.1,237.2 375.7,239.8 376.3,244.9 376.9,243.3 377.5,250.3 378.2,247.7 378.8,243.0 379.4,243.2 380.0,245.0 380.6,245.6 381.2,243.8 381.8,245.2 382.4,253.0 383.0,249.8 383.6,246.4 384.2,243.4 384.8,238.5 385.4,242.6" fill="none" stroke="#b4b6b8" stroke-width="0.6" stroke-linejoin="round"/>
<polyline points="310.5,244.3 311.1,247.7 311.7,249.7 312.3,245.2 312.9,241.6 313.5,245.3 314.1,249.7 314.7,248.4 315.3,248.1 315.9,242.5 316.5,243.0 317.1,246.4 317.7,247.0 318.4,246.1 319.0,247.4 319.6,248.7 320.2,242.2 320.8,233.1 321.4,223.9 322.0,221.5 322.6,216.0 323.2,210.9 323.8,209.5 324.4,200.6 325.0,195.3 325.6,193.6 326.2,185.8 326.8,176.5 327.4,175.2 328.0,183.2 328.6,187.1 329.2,193.6 329.8,195.3 330.4,208.4 331.0,207.7 331.6,214.1 332.2,221.2 332.8,233.0 333.5,231.5 334.1,229.6 334.7,227.6 335.3,231.4 335.9,231.0 336.5,233.6 337.1,237.1 337.7,242.0 338.3,237.4 338.9,243.4 339.5,236.3 340.1,245.5 340.7,241.7 341.3,241.6 341.9,241.7 342.5,243.6 343.1,243.5 343.7,242.6 344.3,241.3 344.9,241.2 345.5,243.0 346.1,241.9 346.7,241.1 347.3,238.6 347.9,242.0 348.6,244.6 349.2,241.1 349.8,245.8 350.4,244.4 351.0,244.3 351.6,239.1 352.2,244.0 352.8,247.6 353.4,250.8 354.0,244.6 354.6,244.0 355.2,246.1 355.8,246.3 356.4,243.0 357.0,243.8 357.6,246.8 358.2,246.6 358.8,244.8 359.4,247.4 360.0,241.0 360.6,244.3 361.2,242.3 361.8,242.5 362.4,245.9 363.1,249.8 363.7,247.5 364.3,245.8 364.9,249.6 365.5,248.3 366.1,239.4 366.7,240.9 367.3,241.2 367.9,241.3 368.5,239.0 369.1,244.4 369.7,244.9 370.3,249.6 370.9,245.5 371.5,245.2 372.1,242.6 372.7,246.8 373.3,249.0 373.9,251.0 374.5,249.8 375.1,244.8 375.7,248.2 376.3,243.3 376.9,242.5 377.5,243.4 378.2,250.3 378.8,244.7 379.4,241.9 380.0,244.5 380.6,248.1 381.2,247.6 381.8,247.4 382.4,243.4 383.0,243.3 383.6,248.0 384.2,246.4 384.8,243.6 385.4,243.5" fill="none" stroke="#b4b6b8" stroke-width="0.6" stroke-linejoin="round"/>
<polyline points="310.5,246.8 311.1,243.8 311.7,249.8 312.3,245.3 312.9,245.8 313.5,246.9 314.1,246.0 314.7,245.2 315.3,250.0 315.9,248.0 316.5,242.3 317.1,242.7 317.7,248.2 318.4,245.9 319.0,242.7 319.6,247.0 320.2,243.0 320.8,236.3 321.4,231.8 322.0,223.9 322.6,219.5 323.2,216.3 323.8,208.8 324.4,208.3 325.0,198.6 325.6,201.8 326.2,194.7 326.8,190.5 327.4,182.0 328.0,188.8 328.6,191.4 329.2,199.8 329.8,205.1 330.4,208.0 331.0,219.3 331.6,221.8 332.2,223.9 332.8,228.0 333.5,231.1 334.1,232.4 334.7,236.0 335.3,234.1 335.9,236.6 336.5,236.3 337.1,236.2 337.7,240.7 338.3,238.1 338.9,235.2 339.5,241.1 340.1,240.2 340.7,243.4 341.3,244.8 341.9,245.6 342.5,244.6 343.1,248.4 343.7,242.4 344.3,246.6 344.9,244.3 345.5,244.8 346.1,242.9 346.7,245.9 347.3,245.9 347.9,243.3 348.6,243.8 349.2,245.2 349.8,244.0 350.4,250.9 351.0,248.0 351.6,244.3 352.2,247.0 352.8,245.8 353.4,243.2 354.0,242.8 354.6,239.1 355.2,244.5 355.8,248.5 356.4,245.4 357.0,242.3 357.6,238.6 358.2,238.8 358.8,242.3 359.4,241.7 360.0,242.9 360.6,241.4 361.2,242.8 361.8,243.1 362.4,244.4 363.1,244.6 363.7,244.9 364.3,242.2 364.9,242.8 365.5,240.4 366.1,241.5 366.7,243.3 367.3,245.2 367.9,240.9 368.5,240.5 369.1,241.5 369.7,240.0 370.3,242.1 370.9,243.1 371.5,242.0 372.1,248.2 372.7,244.6 373.3,245.2 373.9,239.8 374.5,245.2 375.1,245.7 375.7,245.5 376.3,238.9 376.9,242.4 377.5,242.0 378.2,244.8 378.8,244.6 379.4,243.2 380.0,242.8 380.6,247.5 381.2,248.8 381.8,241.3 382.4,242.3 383.0,245.7 383.6,243.9 384.2,245.4 384.8,244.1 385.4,249.2" fill="none" stroke="#b4b6b8" stroke-width="0.6" stroke-linejoin="round"/>
<polyline points="310.5,245.9 311.1,246.1 311.7,246.8 312.3,246.0 312.9,244.8 313.5,245.3 314.1,245.3 314.7,244.1 315.3,242.0 315.9,242.9 316.5,243.4 317.1,243.3 317.7,243.5 318.4,243.9 319.0,243.3 319.6,244.4 320.2,239.4 320.8,234.1 321.4,228.7 322.0,222.9 322.6,217.4 323.2,213.5 323.8,207.9 324.4,203.5 325.0,200.0 325.6,195.5 326.2,190.7 326.8,186.7 327.4,181.3 328.0,184.3 328.6,190.0 329.2,195.9 329.8,201.7 330.4,208.1 331.0,213.4 331.6,217.8 332.2,223.8 332.8,227.9 333.5,230.3 334.1,231.3 334.7,232.1 335.3,233.4 335.9,235.8 336.5,237.2 337.1,238.1 337.7,237.7 338.3,238.5 338.9,239.1 339.5,239.7 340.1,240.0 340.7,239.9 341.3,241.7 341.9,241.9 342.5,242.6 343.1,243.1 343.7,243.1 344.3,243.2 344.9,243.5 345.5,243.2 346.1,243.1 346.7,243.3 347.3,243.3 347.9,243.1 348.6,241.4 349.2,241.9 349.8,241.5 350.4,242.7 351.0,243.6 351.6,243.6 352.2,243.7 352.8,242.3 353.4,242.4 354.0,242.2 354.6,243.6 355.2,242.7 355.8,244.2 356.4,243.9 357.0,242.5 357.6,243.8 358.2,243.6 358.8,243.7 359.4,244.3 360.0,243.1 360.6,242.9 361.2,243.1 361.8,244.0 362.4,243.8 363.1,244.0 363.7,242.8 364.3,243.3 364.9,242.8 365.5,242.8 366.1,243.1 366.7,243.8 367.3,243.3 367.9,243.7 368.5,243.5 369.1,243.9 369.7,243.6 370.3,244.5 370.9,243.6 371.5,243.0 372.1,244.0 372.7,243.5 373.3,244.0 373.9,244.4 374.5,243.2 375.1,243.2 375.7,243.1 376.3,243.2 376.9,242.5 377.5,243.0 378.2,243.4 378.8,242.9 379.4,243.2 380.0,243.5 380.6,242.6 381.2,243.0 381.8,243.8 382.4,244.3 383.0,243.6 383.6,243.2 384.2,243.5 384.8,243.9 385.4,244.5" fill="none" stroke="#231f20" stroke-width="2.3" stroke-linejoin="round"/><polyline points="388.8,251.3 389.4,244.2 390.0,245.9 390.6,244.9 391.2,242.9 391.8,243.1 392.4,243.5 393.0,244.9 393.6,246.8 394.2,249.4 394.8,248.0 395.4,250.1 396.0,249.1 396.6,247.8 397.2,246.1 397.8,235.6 398.4,225.0 399.0,220.4 399.6,213.4 400.2,209.6 400.8,205.5 401.4,196.5 402.0,191.9 402.6,186.7 403.2,190.1 403.8,186.8 404.4,184.9 405.0,180.0 405.6,177.4 406.2,178.2 406.8,179.6 407.4,181.4 408.1,176.2 408.7,179.3 409.3,176.9 409.9,176.9 410.5,177.3 411.1,177.1 411.7,179.4 412.3,181.3 412.9,180.3 413.5,177.3 414.1,178.9 414.7,179.2 415.3,185.5 415.9,190.5 416.5,191.0 417.1,197.0 417.7,202.4 418.3,210.8 418.9,213.5 419.5,220.2 420.1,221.3 420.7,218.8 421.3,222.7 421.9,226.8 422.5,229.1 423.1,225.9 423.7,231.0 424.3,230.1 424.9,226.0 425.5,229.4 426.1,227.1 426.7,228.8 427.3,237.5 427.9,244.0 428.5,242.7 429.1,240.7 429.7,244.2 430.3,241.2 430.9,236.5 431.5,230.9 432.1,238.5 432.7,232.4 433.3,228.8 433.9,233.8 434.5,237.8 435.1,236.7 435.7,241.9 436.3,240.6 436.9,241.2 437.5,242.2 438.1,239.8 438.7,241.3 439.3,248.0 439.9,241.1 440.5,241.8 441.1,243.2 441.7,240.6 442.3,241.2 442.9,236.7 443.5,238.8 444.1,240.9 444.8,244.8 445.4,245.7 446.0,241.7 446.6,238.9 447.2,246.3 447.8,246.2 448.4,238.3 449.0,240.0 449.6,239.1 450.2,239.6 450.8,236.7 451.4,239.4 452.0,240.1 452.6,241.2 453.2,245.3 453.8,244.4 454.4,240.1 455.0,237.1 455.6,239.6 456.2,245.2 456.8,246.7 457.4,242.9 458.0,246.6 458.6,245.8 459.2,242.7 459.8,244.5 460.4,243.8 461.0,240.6 461.6,241.5 462.2,243.6 462.8,247.6 463.4,242.4" fill="none" stroke="#b4b6b8" stroke-width="0.6" stroke-linejoin="round"/>
<polyline points="388.8,245.1 389.4,241.8 390.0,247.8 390.6,250.1 391.2,251.8 391.8,249.3 392.4,251.3 393.0,249.5 393.6,250.2 394.2,246.7 394.8,247.2 395.4,245.8 396.0,243.3 396.6,244.3 397.2,242.5 397.8,234.5 398.4,228.9 399.0,221.5 399.6,221.7 400.2,218.3 400.8,212.6 401.4,206.9 402.0,197.3 402.6,194.9 403.2,188.4 403.8,187.2 404.4,185.9 405.0,184.5 405.6,187.7 406.2,183.9 406.8,191.5 407.4,185.5 408.1,187.1 408.7,180.4 409.3,185.1 409.9,180.5 410.5,182.9 411.1,183.0 411.7,185.3 412.3,185.4 412.9,184.7 413.5,182.8 414.1,188.0 414.7,182.8 415.3,186.9 415.9,191.2 416.5,198.2 417.1,200.7 417.7,205.4 418.3,212.2 418.9,214.1 419.5,220.4 420.1,220.1 420.7,226.9 421.3,226.1 421.9,232.4 422.5,232.3 423.1,231.6 423.7,235.3 424.3,237.4 424.9,239.7 425.5,240.5 426.1,239.8 426.7,234.1 427.3,238.6 427.9,237.7 428.5,239.3 429.1,242.5 429.7,237.9 430.3,242.4 430.9,247.2 431.5,243.7 432.1,240.1 432.7,243.8 433.3,241.8 433.9,243.8 434.5,245.2 435.1,237.8 435.7,240.7 436.3,236.5 436.9,237.6 437.5,241.8 438.1,238.3 438.7,238.5 439.3,239.5 439.9,242.1 440.5,243.1 441.1,243.8 441.7,241.3 442.3,239.8 442.9,242.6 443.5,240.0 444.1,239.3 444.8,243.4 445.4,240.6 446.0,239.3 446.6,244.8 447.2,243.3 447.8,236.6 448.4,238.5 449.0,247.0 449.6,252.5 450.2,245.5 450.8,246.0 451.4,246.3 452.0,245.2 452.6,238.7 453.2,244.6 453.8,244.6 454.4,243.2 455.0,238.7 455.6,240.1 456.2,242.1 456.8,242.4 457.4,243.9 458.0,242.8 458.6,246.4 459.2,246.6 459.8,241.6 460.4,241.5 461.0,244.4 461.6,242.7 462.2,247.7 462.8,243.9 463.4,244.9" fill="none" stroke="#b4b6b8" stroke-width="0.6" stroke-linejoin="round"/>
<polyline points="388.8,248.1 389.4,245.2 390.0,242.9 390.6,242.2 391.2,239.1 391.8,239.1 392.4,247.4 393.0,245.7 393.6,244.8 394.2,245.9 394.8,247.4 395.4,244.1 396.0,244.8 396.6,246.4 397.2,248.9 397.8,239.4 398.4,234.8 399.0,222.4 399.6,212.4 400.2,202.9 400.8,200.6 401.4,198.6 402.0,192.2 402.6,187.6 403.2,183.0 403.8,181.0 404.4,179.3 405.0,178.3 405.6,181.4 406.2,180.7 406.8,181.4 407.4,182.1 408.1,177.3 408.7,180.6 409.3,177.8 409.9,172.9 410.5,173.1 411.1,174.5 411.7,170.7 412.3,180.3 412.9,176.7 413.5,178.0 414.1,172.4 414.7,174.0 415.3,180.1 415.9,184.0 416.5,192.4 417.1,198.2 417.7,203.7 418.3,204.0 418.9,211.9 419.5,215.3 420.1,215.4 420.7,212.9 421.3,219.1 421.9,222.1 422.5,232.4 423.1,227.1 423.7,233.8 424.3,235.7 424.9,234.5 425.5,234.1 426.1,235.2 426.7,230.4 427.3,237.6 427.9,235.6 428.5,234.2 429.1,236.0 429.7,228.8 430.3,230.5 430.9,231.7 431.5,231.2 432.1,237.3 432.7,242.5 433.3,239.9 433.9,238.2 434.5,239.6 435.1,237.9 435.7,239.3 436.3,240.7 436.9,239.5 437.5,238.7 438.1,240.0 438.7,240.6 439.3,242.7 439.9,237.1 440.5,236.4 441.1,237.9 441.7,241.3 442.3,237.4 442.9,243.3 443.5,246.0 444.1,240.8 444.8,244.3 445.4,236.4 446.0,239.4 446.6,236.2 447.2,242.7 447.8,244.4 448.4,244.1 449.0,240.9 449.6,238.3 450.2,241.8 450.8,240.4 451.4,243.4 452.0,237.9 452.6,241.9 453.2,243.5 453.8,236.2 454.4,236.5 455.0,238.3 455.6,239.3 456.2,236.4 456.8,240.4 457.4,238.6 458.0,241.0 458.6,236.9 459.2,237.3 459.8,242.9 460.4,238.0 461.0,241.1 461.6,246.5 462.2,246.6 462.8,240.6 463.4,248.7" fill="none" stroke="#b4b6b8" stroke-width="0.6" stroke-linejoin="round"/>
<polyline points="388.8,248.3 389.4,245.6 390.0,247.4 390.6,238.4 391.2,243.5 391.8,245.6 392.4,244.9 393.0,246.1 393.6,249.3 394.2,250.1 394.8,246.0 395.4,248.7 396.0,250.8 396.6,248.6 397.2,248.4 397.8,232.7 398.4,224.9 399.0,222.8 399.6,211.8 400.2,212.0 400.8,210.3 401.4,200.7 402.0,193.9 402.6,192.0 403.2,191.9 403.8,192.2 404.4,188.0 405.0,186.0 405.6,182.5 406.2,184.7 406.8,182.2 407.4,186.2 408.1,186.5 408.7,179.6 409.3,182.7 409.9,179.6 410.5,184.3 411.1,180.1 411.7,185.1 412.3,186.2 412.9,189.0 413.5,185.2 414.1,182.9 414.7,185.4 415.3,183.9 415.9,191.0 416.5,196.5 417.1,202.4 417.7,202.4 418.3,204.7 418.9,208.0 419.5,220.9 420.1,220.8 420.7,224.7 421.3,225.2 421.9,226.3 422.5,232.3 423.1,225.2 423.7,229.6 424.3,229.7 424.9,229.8 425.5,228.4 426.1,228.5 426.7,230.0 427.3,237.6 427.9,235.6 428.5,236.0 429.1,237.1 429.7,239.8 430.3,242.1 430.9,240.6 431.5,239.7 432.1,241.0 432.7,237.9 433.3,239.8 433.9,244.8 434.5,240.0 435.1,237.9 435.7,235.3 436.3,239.1 436.9,242.2 437.5,240.5 438.1,240.3 438.7,244.6 439.3,243.0 439.9,244.4 440.5,241.8 441.1,245.7 441.7,246.0 442.3,243.2 442.9,240.9 443.5,249.1 444.1,241.7 444.8,239.5 445.4,234.4 446.0,241.7 446.6,242.6 447.2,242.5 447.8,238.4 448.4,241.4 449.0,240.2 449.6,238.7 450.2,240.9 450.8,243.3 451.4,242.8 452.0,241.7 452.6,244.9 453.2,244.6 453.8,242.8 454.4,244.9 455.0,244.9 455.6,246.7 456.2,247.1 456.8,247.1 457.4,243.3 458.0,247.5 458.6,248.1 459.2,243.9 459.8,247.6 460.4,245.7 461.0,241.9 461.6,243.4 462.2,240.4 462.8,246.2 463.4,241.5" fill="none" stroke="#b4b6b8" stroke-width="0.6" stroke-linejoin="round"/>
<polyline points="388.8,244.9 389.4,245.7 390.0,245.8 390.6,244.7 391.2,244.9 391.8,244.0 392.4,244.9 393.0,244.6 393.6,244.9 394.2,245.2 394.8,244.6 395.4,245.3 396.0,246.7 396.6,246.2 397.2,245.7 397.8,238.1 398.4,231.0 399.0,222.4 399.6,214.6 400.2,209.2 400.8,205.1 401.4,199.7 402.0,196.5 402.6,193.2 403.2,189.6 403.8,186.7 404.4,184.8 405.0,182.1 405.6,181.3 406.2,181.0 406.8,180.3 407.4,179.7 408.1,179.7 408.7,179.1 409.3,179.2 409.9,179.7 410.5,180.1 411.1,179.7 411.7,180.5 412.3,179.6 412.9,179.6 413.5,180.2 414.1,179.5 414.7,179.4 415.3,183.4 415.9,189.0 416.5,195.2 417.1,201.0 417.7,205.3 418.3,209.8 418.9,214.1 419.5,218.0 420.1,219.6 420.7,221.5 421.3,223.5 421.9,225.5 422.5,226.9 423.1,229.8 423.7,232.0 424.3,232.6 424.9,232.9 425.5,234.2 426.1,234.6 426.7,235.1 427.3,236.1 427.9,236.4 428.5,237.2 429.1,237.3 429.7,238.0 430.3,238.4 430.9,238.9 431.5,239.2 432.1,239.4 432.7,239.7 433.3,240.2 433.9,239.5 434.5,239.0 435.1,239.4 435.7,239.9 436.3,240.0 436.9,241.2 437.5,241.5 438.1,242.3 438.7,242.2 439.3,241.3 439.9,240.6 440.5,241.6 441.1,241.6 441.7,241.4 442.3,242.3 442.9,243.3 443.5,243.2 444.1,243.6 444.8,243.0 445.4,242.3 446.0,241.3 446.6,242.2 447.2,241.4 447.8,241.4 448.4,241.8 449.0,242.4 449.6,241.4 450.2,241.6 450.8,241.5 451.4,242.7 452.0,242.7 452.6,242.4 453.2,243.6 453.8,243.6 454.4,243.9 455.0,244.0 455.6,243.7 456.2,244.1 456.8,243.5 457.4,242.7 458.0,242.5 458.6,243.2 459.2,243.1 459.8,244.0 460.4,244.4 461.0,244.4 461.6,244.9 462.2,244.9 462.8,244.9 463.4,244.5" fill="none" stroke="#231f20" stroke-width="2.3" stroke-linejoin="round"/><path d="M160.55 165.60 L162.00 162.00 L163.45 165.60 Z M160.70 164.30 H163.30 V165.60 H160.70 Z" fill="#231f20"/><path d="M239.65 165.20 L240.70 162.00 L241.75 165.20 Z M241.45 165.20 L242.50 162.00 L243.55 165.20 Z M239.80 163.90 H243.40 V165.20 H239.80 Z" fill="#231f20"/><path d="M319.15 165.60 L320.32 162.00 L321.50 165.60 Z M321.20 165.60 L322.38 162.00 L323.55 165.60 Z M323.25 165.60 L324.43 162.00 L325.60 165.60 Z M325.30 165.60 L326.48 162.00 L327.65 165.60 Z M319.30 164.30 H327.50 V165.60 H319.30 Z" fill="#231f20"/><path d="M397.05 165.60 L398.09 162.00 L399.13 165.60 Z M398.83 165.60 L399.87 162.00 L400.91 165.60 Z M400.61 165.60 L401.65 162.00 L402.69 165.60 Z M402.39 165.60 L403.43 162.00 L404.47 165.60 Z M404.17 165.60 L405.21 162.00 L406.25 165.60 Z M405.95 165.60 L406.99 162.00 L408.03 165.60 Z M407.73 165.60 L408.77 162.00 L409.81 165.60 Z M409.51 165.60 L410.55 162.00 L411.59 165.60 Z M411.29 165.60 L412.33 162.00 L413.37 165.60 Z M413.07 165.60 L414.11 162.00 L415.15 165.60 Z M397.20 164.30 H415.00 V165.60 H397.20 Z" fill="#231f20"/><path d="M160.55 258.60 L162.00 255.00 L163.45 258.60 Z M160.70 257.30 H163.30 V258.60 H160.70 Z" fill="#231f20"/><path d="M239.65 258.20 L240.70 255.00 L241.75 258.20 Z M241.45 258.20 L242.50 255.00 L243.55 258.20 Z M239.80 256.90 H243.40 V258.20 H239.80 Z" fill="#231f20"/><path d="M319.15 258.60 L320.32 255.00 L321.50 258.60 Z M321.20 258.60 L322.38 255.00 L323.55 258.60 Z M323.25 258.60 L324.43 255.00 L325.60 258.60 Z M325.30 258.60 L326.48 255.00 L327.65 258.60 Z M319.30 257.30 H327.50 V258.60 H319.30 Z" fill="#231f20"/><path d="M397.05 258.60 L398.09 255.00 L399.13 258.60 Z M398.83 258.60 L399.87 255.00 L400.91 258.60 Z M400.61 258.60 L401.65 255.00 L402.69 258.60 Z M402.39 258.60 L403.43 255.00 L404.47 258.60 Z M404.17 258.60 L405.21 255.00 L406.25 258.60 Z M405.95 258.60 L406.99 255.00 L408.03 258.60 Z M407.73 258.60 L408.77 255.00 L409.81 258.60 Z M409.51 258.60 L410.55 255.00 L411.59 258.60 Z M411.29 258.60 L412.33 255.00 L413.37 258.60 Z M413.07 258.60 L414.11 255.00 L415.15 258.60 Z M397.20 257.30 H415.00 V258.60 H397.20 Z" fill="#231f20"/><path d="M466.8 243.5 L466.8 253.3 L458.8 253.3" fill="none" stroke="#a7a9ac" stroke-width="1"/><text x="446.6" y="263" font-size="9.9" textLength="19.6" lengthAdjust="spacingAndGlyphs" fill="#231f20" stroke="#231f20" stroke-width="0.25">0.1 s</text>
<text x="0" y="0" font-size="9.9" text-anchor="middle" textLength="33" lengthAdjust="spacingAndGlyphs" fill="#231f20" stroke="#231f20" stroke-width="0.25" transform="translate(477.6 240) rotate(-90)">2% df/f</text>
<text x="478.4" y="11.6" font-size="12.8" font-weight="bold" textLength="7.8" lengthAdjust="spacingAndGlyphs" fill="#231f20" stroke="#231f20" stroke-width="0.25">C</text>
<path d="M505.3 13.45 L502.7 13.45 L502.7 236.3 L680.6 236.3 L680.6 233.6" fill="none" stroke="#6d6e71" stroke-width="0.9"/><line x1="502.7" y1="162.15" x2="505.3" y2="162.15" stroke="#6d6e71" stroke-width="0.9"/><line x1="502.7" y1="87.80" x2="505.3" y2="87.80" stroke="#6d6e71" stroke-width="0.9"/><line x1="510.81" y1="236.3" x2="510.81" y2="233.6" stroke="#6d6e71" stroke-width="0.9"/><line x1="529.67" y1="236.3" x2="529.67" y2="233.6" stroke="#6d6e71" stroke-width="0.9"/><line x1="586.25" y1="236.3" x2="586.25" y2="233.6" stroke="#6d6e71" stroke-width="0.9"/><text x="499.2" y="16.9" font-size="10.3" text-anchor="end" textLength="10.4" lengthAdjust="spacingAndGlyphs" fill="#414042" stroke="#414042" stroke-width="0.25">15</text>
<text x="500.2" y="91" font-size="10.3" text-anchor="end" textLength="10.6" lengthAdjust="spacingAndGlyphs" fill="#414042" stroke="#414042" stroke-width="0.25">10</text>
<text x="499.6" y="166" font-size="10.3" text-anchor="end" fill="#414042" stroke="#414042" stroke-width="0.25">5</text>
<text x="500.7" y="240.2" font-size="10.3" text-anchor="end" fill="#414042" stroke="#414042" stroke-width="0.25">0</text>
<text x="510.8" y="250.3" font-size="9.9" text-anchor="middle" fill="#414042" stroke="#414042" stroke-width="0.25">1</text>
<text x="529.7" y="250.3" font-size="9.9" text-anchor="middle" fill="#414042" stroke="#414042" stroke-width="0.25">2</text>
<text x="586.2" y="250.3" font-size="9.9" text-anchor="middle" fill="#414042" stroke="#414042" stroke-width="0.25">5</text>
<text x="680.5" y="250.3" font-size="9.9" text-anchor="middle" fill="#414042" stroke="#414042" stroke-width="0.25">10</text>
<text x="587.2" y="262.8" font-size="9.5" font-weight="bold" text-anchor="middle" textLength="61" lengthAdjust="spacingAndGlyphs" fill="#231f20" stroke="#231f20" stroke-width="0.25">No. of stimuli</text>
<text x="0" y="0" font-size="10.3" font-weight="bold" text-anchor="middle" textLength="72" lengthAdjust="spacingAndGlyphs" fill="#231f20" stroke="#231f20" stroke-width="0.25" transform="translate(488.7 124.5) rotate(-90)">AUC (arb. units)</text>
<line x1="512.8" y1="20.5" x2="531.4" y2="20.5" stroke="#d6175c" stroke-width="1.1"/><line x1="512.8" y1="38.8" x2="531.4" y2="38.8" stroke="#231f20" stroke-width="1.1"/><text x="534.6" y="24.6" font-size="10.3" textLength="54.7" lengthAdjust="spacingAndGlyphs" fill="#231f20" stroke="#231f20" stroke-width="0.25">APP23xPS45</text>
<text x="534.6" y="42.6" font-size="10.3" textLength="41.6" lengthAdjust="spacingAndGlyphs" fill="#231f20" stroke="#231f20" stroke-width="0.25">wild-type</text>
<polyline points="510.81,227.28 529.67,213.15 586.25,153.97 680.55,30.70" fill="none" stroke="#d6175c" stroke-width="1.2"/><polyline points="510.81,229.96 529.67,219.40 586.25,176.43 680.55,82.89" fill="none" stroke="#231f20" stroke-width="1.2"/><path d="M510.81 225.05 V229.51 M509.21 225.05 H512.41 M509.21 229.51 H512.41" stroke="#a7a9ac" stroke-width="0.7" fill="none"/><circle cx="510.81" cy="227.28" r="0.8" fill="#f15a29"/><path d="M529.67 211.37 V214.94 M528.07 211.37 H531.27 M528.07 214.94 H531.27" stroke="#a7a9ac" stroke-width="0.7" fill="none"/><circle cx="529.67" cy="213.15" r="0.8" fill="#f15a29"/><path d="M586.25 149.81 V158.14 M584.65 149.81 H587.85 M584.65 158.14 H587.85" stroke="#a7a9ac" stroke-width="0.7" fill="none"/><circle cx="586.25" cy="153.97" r="0.8" fill="#f15a29"/><path d="M680.55 20.14 V41.26 M678.95 20.14 H682.15 M678.95 41.26 H682.15" stroke="#a7a9ac" stroke-width="0.7" fill="none"/><circle cx="680.55" cy="30.70" r="0.8" fill="#f15a29"/><path d="M510.81 227.73 V232.19 M509.21 227.73 H512.41 M509.21 232.19 H512.41" stroke="#a7a9ac" stroke-width="0.7" fill="none"/><circle cx="510.81" cy="229.96" r="0.8" fill="#f15a29"/><path d="M529.67 217.32 V221.48 M528.07 217.32 H531.27 M528.07 221.48 H531.27" stroke="#a7a9ac" stroke-width="0.7" fill="none"/><circle cx="529.67" cy="219.40" r="0.8" fill="#f15a29"/><path d="M586.25 170.92 V181.93 M584.65 170.92 H587.85 M584.65 181.93 H587.85" stroke="#a7a9ac" stroke-width="0.7" fill="none"/><circle cx="586.25" cy="176.43" r="0.8" fill="#f15a29"/><path d="M680.55 68.32 V97.47 M678.95 68.32 H682.15 M678.95 97.47 H682.15" stroke="#a7a9ac" stroke-width="0.7" fill="none"/><circle cx="680.55" cy="82.89" r="0.8" fill="#f15a29"/><text x="680.2" y="20.3" font-size="10" text-anchor="middle" fill="#414042" stroke="#414042" stroke-width="0.25">**</text>
<text x="585.4" y="148.6" font-size="10" text-anchor="middle" fill="#414042" stroke="#414042" stroke-width="0.25">**</text>
<text x="502.8" y="217.8" font-size="9.9" textLength="14.2" lengthAdjust="spacingAndGlyphs" fill="#414042" stroke="#414042" stroke-width="0.25">n.s.</text>
<text x="521.4" y="203.8" font-size="9.9" textLength="13.6" lengthAdjust="spacingAndGlyphs" fill="#414042" stroke="#414042" stroke-width="0.25">n.s.</text>
<rect x="140.6" y="300.4" width="104.1" height="177.1" fill="#fcd3a6"/><text x="15.7" y="296.5" font-size="12.8" font-weight="bold" textLength="8.5" lengthAdjust="spacingAndGlyphs" fill="#231f20" stroke="#231f20" stroke-width="0.25">D</text>
<text x="83.5" y="295" font-size="9.2" font-weight="bold" text-anchor="middle" textLength="47" lengthAdjust="spacingAndGlyphs" fill="#231f20" stroke="#231f20" stroke-width="0.25">Untreated</text>
<text x="192.6" y="295" font-size="9.2" font-weight="bold" text-anchor="middle" textLength="57.3" lengthAdjust="spacingAndGlyphs" fill="#231f20" stroke="#231f20" stroke-width="0.25">A&#946;-anticalin</text>
<text x="301" y="295" font-size="9.2" font-weight="bold" text-anchor="middle" textLength="41.2" lengthAdjust="spacingAndGlyphs" fill="#231f20" stroke="#231f20" stroke-width="0.25">Washout</text>
<text x="0" y="0" font-size="9.7" font-weight="bold" font-style="italic" text-anchor="middle" textLength="57" lengthAdjust="spacingAndGlyphs" fill="#231f20" stroke="#231f20" stroke-width="0.25" transform="translate(29.4 385) rotate(-90)">APP23xPS45</text>
<line x1="32" y1="461.7" x2="354" y2="461.7" stroke="#808285" stroke-width="0.9" stroke-dasharray="4.3 2.3"/><polyline points="32.1,459.0 32.7,461.1 33.3,462.9 33.9,462.9 34.5,464.9 35.1,463.3 35.7,464.0 36.3,464.4 36.9,464.8 37.5,462.7 38.1,465.9 38.7,465.2 39.3,465.7 39.9,466.1 40.5,463.4 41.1,461.9 41.7,463.1 42.3,462.7 43.0,462.1 43.6,461.8 44.2,463.1 44.8,462.9 45.4,460.0 46.0,461.1 46.6,455.1 47.2,452.2 47.8,452.0 48.4,446.5 49.0,430.9 49.6,431.3 50.2,428.1 50.8,410.8 51.4,407.5 52.0,404.5 52.6,401.0 53.2,380.4 53.8,380.4 54.4,376.9 55.0,374.6 55.6,364.6 56.2,363.5 56.8,361.5 57.4,350.8 58.0,348.0 58.6,348.9 59.2,348.0 59.8,340.7 60.4,339.7 61.0,335.9 61.6,334.8 62.2,334.2 62.8,331.3 63.5,328.0 64.1,330.8 64.7,324.8 65.3,325.1 65.9,320.4 66.5,313.5 67.1,313.5 67.7,312.7 68.3,312.6 68.9,316.8 69.5,326.8 70.1,333.7 70.7,347.1 71.3,359.6 71.9,370.1 72.5,380.4 73.1,383.2 73.7,391.5 74.3,400.1 74.9,403.1 75.5,407.8 76.1,411.0 76.7,418.7 77.3,427.0 77.9,426.2 78.5,426.2 79.1,426.4 79.7,433.2 80.3,435.0 80.9,435.6 81.5,436.5 82.1,435.1 82.7,434.2 83.3,437.8 84.0,437.0 84.6,439.2 85.2,440.2 85.8,445.6 86.4,444.8 87.0,438.2 87.6,441.9 88.2,443.4 88.8,445.4 89.4,443.8 90.0,445.4 90.6,444.0 91.2,442.4 91.8,446.7 92.4,444.2 93.0,446.9 93.6,452.1 94.2,451.5 94.8,448.7 95.4,447.2 96.0,444.1 96.6,446.5 97.2,447.9 97.8,448.1 98.4,451.6 99.0,449.2 99.6,451.6 100.2,451.5 100.8,450.6 101.4,449.1 102.0,446.7 102.6,446.4 103.2,447.4 103.8,448.4 104.5,455.8 105.1,454.5 105.7,453.9 106.3,454.1 106.9,452.5 107.5,451.8 108.1,451.1 108.7,447.0 109.3,447.0 109.9,451.9 110.5,448.0 111.1,450.0 111.7,451.1 112.3,452.1 112.9,457.1 113.5,458.6 114.1,458.2 114.7,455.8 115.3,454.4 115.9,452.0 116.5,450.4 117.1,450.1 117.7,446.2 118.3,447.0 118.9,453.7 119.5,449.5 120.1,452.6 120.7,450.5 121.3,453.3 121.9,458.1 122.5,455.6 123.1,453.9 123.7,453.4 124.3,454.2 125.0,455.3 125.6,449.1 126.2,454.8 126.8,455.0 127.4,459.1 128.0,454.2 128.6,454.3 129.2,453.3 129.8,451.9 130.4,452.3 131.0,451.4 131.6,451.9 132.2,454.1 132.8,458.0 133.4,458.1 134.0,458.1 134.6,454.1 135.2,452.0" fill="none" stroke="#b4b6b8" stroke-width="0.6" stroke-linejoin="round"/>
<polyline points="32.1,461.3 32.7,461.8 33.3,463.1 33.9,462.2 34.5,464.0 35.1,463.3 35.7,461.2 36.3,461.2 36.9,461.0 37.5,461.2 38.1,462.7 38.7,464.3 39.3,465.1 39.9,464.3 40.5,463.7 41.1,465.8 41.7,462.3 42.3,462.0 43.0,461.6 43.6,463.7 44.2,461.5 44.8,462.3 45.4,461.1 46.0,460.7 46.6,454.3 47.2,450.3 47.8,448.6 48.4,446.9 49.0,432.1 49.6,429.4 50.2,428.7 50.8,411.0 51.4,405.7 52.0,400.8 52.6,398.2 53.2,378.7 53.8,373.5 54.4,373.9 55.0,372.4 55.6,362.5 56.2,359.0 56.8,359.7 57.4,351.5 58.0,350.6 58.6,347.5 59.2,342.9 59.8,336.2 60.4,333.9 61.0,331.5 61.6,330.8 62.2,326.1 62.8,328.6 63.5,328.9 64.1,326.9 64.7,324.0 65.3,323.5 65.9,322.3 66.5,315.7 67.1,315.7 67.7,313.9 68.3,311.7 68.9,313.4 69.5,323.2 70.1,331.9 70.7,341.6 71.3,355.0 71.9,364.8 72.5,376.4 73.1,383.0 73.7,392.2 74.3,399.6 74.9,402.7 75.5,405.8 76.1,410.7 76.7,414.0 77.3,420.0 77.9,423.4 78.5,422.9 79.1,430.9 79.7,433.2 80.3,431.7 80.9,433.4 81.5,433.1 82.1,433.9 82.7,431.8 83.3,433.8 84.0,434.9 84.6,438.7 85.2,438.5 85.8,440.7 86.4,440.3 87.0,439.5 87.6,442.6 88.2,448.0 88.8,447.7 89.4,445.5 90.0,444.7 90.6,444.3 91.2,445.0 91.8,448.3 92.4,448.1 93.0,447.9 93.6,448.6 94.2,446.0 94.8,445.8 95.4,447.9 96.0,451.2 96.6,446.8 97.2,452.2 97.8,454.0 98.4,452.0 99.0,451.6 99.6,447.7 100.2,450.6 100.8,451.9 101.4,451.3 102.0,450.7 102.6,453.1 103.2,452.5 103.8,455.5 104.5,454.8 105.1,448.7 105.7,452.3 106.3,452.6 106.9,453.6 107.5,450.1 108.1,445.7 108.7,446.9 109.3,448.5 109.9,448.1 110.5,452.5 111.1,456.4 111.7,453.5 112.3,455.8 112.9,453.0 113.5,450.6 114.1,446.6 114.7,447.3 115.3,446.8 115.9,448.0 116.5,450.1 117.1,454.9 117.7,455.7 118.3,459.3 118.9,457.0 119.5,450.6 120.1,446.5 120.7,446.6 121.3,450.2 121.9,457.5 122.5,458.8 123.1,454.4 123.7,456.1 124.3,455.8 125.0,455.7 125.6,458.4 126.2,452.2 126.8,453.1 127.4,451.1 128.0,451.6 128.6,453.6 129.2,457.8 129.8,453.3 130.4,453.9 131.0,453.3 131.6,453.9 132.2,455.7 132.8,456.5 133.4,459.2 134.0,456.8 134.6,455.5 135.2,458.2" fill="none" stroke="#b4b6b8" stroke-width="0.6" stroke-linejoin="round"/>
<polyline points="32.1,463.9 32.7,463.1 33.3,464.9 33.9,462.7 34.5,464.0 35.1,464.0 35.7,461.4 36.3,462.9 36.9,463.5 37.5,461.6 38.1,458.7 38.7,461.0 39.3,460.3 39.9,459.9 40.5,465.0 41.1,463.9 41.7,460.8 42.3,461.9 43.0,462.3 43.6,461.5 44.2,463.7 44.8,464.6 45.4,465.2 46.0,463.0 46.6,456.6 47.2,454.6 47.8,451.9 48.4,449.3 49.0,432.6 49.6,430.9 50.2,425.6 50.8,410.3 51.4,405.1 52.0,402.7 52.6,399.7 53.2,382.6 53.8,378.1 54.4,378.3 55.0,374.0 55.6,364.3 56.2,362.6 56.8,360.0 57.4,351.5 58.0,347.4 58.6,347.7 59.2,348.8 59.8,338.7 60.4,338.6 61.0,336.7 61.6,333.9 62.2,330.9 62.8,331.7 63.5,330.0 64.1,328.8 64.7,324.5 65.3,322.8 65.9,321.2 66.5,315.3 67.1,314.1 67.7,313.8 68.3,312.7 68.9,315.8 69.5,325.7 70.1,334.9 70.7,347.2 71.3,360.5 71.9,369.3 72.5,382.1 73.1,385.0 73.7,392.6 74.3,398.9 74.9,406.7 75.5,410.4 76.1,412.4 76.7,414.1 77.3,421.8 77.9,423.7 78.5,424.9 79.1,426.8 79.7,430.8 80.3,433.9 80.9,431.0 81.5,431.2 82.1,432.2 82.7,432.5 83.3,439.2 84.0,441.5 84.6,441.8 85.2,437.3 85.8,442.2 86.4,446.2 87.0,448.6 87.6,449.7 88.2,449.0 88.8,451.1 89.4,452.2 90.0,453.2 90.6,452.1 91.2,454.1 91.8,454.2 92.4,456.3 93.0,454.1 93.6,453.3 94.2,446.5 94.8,445.3 95.4,445.0 96.0,445.3 96.6,446.1 97.2,448.1 97.8,446.2 98.4,442.5 99.0,443.8 99.6,447.5 100.2,445.3 100.8,448.3 101.4,449.4 102.0,451.1 102.6,452.4 103.2,452.2 103.8,452.4 104.5,454.3 105.1,445.5 105.7,444.6 106.3,450.0 106.9,448.2 107.5,448.1 108.1,452.4 108.7,453.9 109.3,448.5 109.9,448.6 110.5,449.2 111.1,448.5 111.7,450.5 112.3,448.5 112.9,446.4 113.5,449.9 114.1,450.5 114.7,455.0 115.3,454.3 115.9,454.0 116.5,456.2 117.1,456.5 117.7,454.0 118.3,450.7 118.9,450.5 119.5,450.7 120.1,456.9 120.7,457.3 121.3,452.9 121.9,454.4 122.5,456.0 123.1,456.1 123.7,458.8 124.3,455.5 125.0,462.1 125.6,460.0 126.2,458.9 126.8,457.0 127.4,455.5 128.0,453.5 128.6,448.4 129.2,450.3 129.8,450.2 130.4,449.8 131.0,450.9 131.6,452.4 132.2,455.6 132.8,455.4 133.4,452.8 134.0,450.5 134.6,454.9 135.2,458.8" fill="none" stroke="#b4b6b8" stroke-width="0.6" stroke-linejoin="round"/>
<polyline points="32.1,464.2 32.7,463.2 33.3,463.5 33.9,463.6 34.5,462.5 35.1,463.9 35.7,461.3 36.3,459.5 36.9,461.5 37.5,464.3 38.1,462.6 38.7,464.0 39.3,465.5 39.9,466.4 40.5,466.4 41.1,463.4 41.7,463.1 42.3,461.0 43.0,459.9 43.6,460.9 44.2,462.7 44.8,464.0 45.4,458.6 46.0,457.6 46.6,455.4 47.2,452.7 47.8,447.1 48.4,448.5 49.0,430.8 49.6,427.2 50.2,424.5 50.8,405.0 51.4,402.7 52.0,400.2 52.6,395.7 53.2,376.4 53.8,373.4 54.4,369.4 55.0,367.1 55.6,357.7 56.2,352.4 56.8,356.2 57.4,351.5 58.0,351.0 58.6,346.5 59.2,344.4 59.8,338.4 60.4,335.4 61.0,333.7 61.6,330.4 62.2,327.5 62.8,324.2 63.5,324.1 64.1,324.0 64.7,322.9 65.3,321.6 65.9,320.7 66.5,313.5 67.1,310.2 67.7,310.5 68.3,306.4 68.9,310.5 69.5,319.2 70.1,329.9 70.7,345.9 71.3,358.0 71.9,368.0 72.5,376.3 73.1,385.0 73.7,390.3 74.3,397.1 74.9,403.5 75.5,407.3 76.1,412.0 76.7,417.7 77.3,417.5 77.9,420.6 78.5,426.5 79.1,430.2 79.7,429.7 80.3,432.9 80.9,428.1 81.5,429.0 82.1,436.7 82.7,441.0 83.3,436.0 84.0,439.8 84.6,441.5 85.2,441.6 85.8,441.4 86.4,444.1 87.0,447.0 87.6,441.6 88.2,446.4 88.8,447.2 89.4,447.9 90.0,442.5 90.6,442.7 91.2,446.0 91.8,450.2 92.4,448.8 93.0,448.8 93.6,450.2 94.2,452.8 94.8,450.3 95.4,455.8 96.0,454.5 96.6,446.2 97.2,449.1 97.8,452.4 98.4,451.4 99.0,447.7 99.6,452.7 100.2,450.6 100.8,452.2 101.4,450.4 102.0,449.9 102.6,448.9 103.2,450.5 103.8,454.1 104.5,454.8 105.1,450.8 105.7,447.4 106.3,448.6 106.9,449.7 107.5,447.6 108.1,446.2 108.7,450.4 109.3,450.1 109.9,446.7 110.5,451.5 111.1,453.1 111.7,450.6 112.3,454.6 112.9,454.5 113.5,455.0 114.1,452.6 114.7,450.3 115.3,449.7 115.9,450.7 116.5,452.1 117.1,455.7 117.7,457.5 118.3,456.1 118.9,458.5 119.5,455.9 120.1,452.1 120.7,451.4 121.3,451.6 121.9,451.9 122.5,448.9 123.1,449.7 123.7,451.9 124.3,450.6 125.0,452.0 125.6,449.8 126.2,447.6 126.8,446.6 127.4,449.0 128.0,447.4 128.6,446.5 129.2,451.0 129.8,448.6 130.4,452.4 131.0,456.9 131.6,457.0 132.2,457.0 132.8,455.9 133.4,454.4 134.0,454.3 134.6,457.7 135.2,458.3" fill="none" stroke="#b4b6b8" stroke-width="0.6" stroke-linejoin="round"/>
<polyline points="32.1,462.6 32.7,462.5 33.3,462.2 33.9,462.2 34.5,462.1 35.1,462.7 35.7,462.2 36.3,462.9 36.9,462.6 37.5,462.3 38.1,462.5 38.7,462.3 39.3,462.3 39.9,463.1 40.5,462.9 41.1,462.6 41.7,462.8 42.3,462.7 43.0,462.9 43.6,462.4 44.2,462.9 44.8,462.2 45.4,462.3 46.0,462.8 46.6,455.2 47.2,452.8 47.8,450.3 48.4,447.7 49.0,433.2 49.6,430.8 50.2,428.0 50.8,410.2 51.4,406.6 52.0,402.6 52.6,399.4 53.2,381.4 53.8,378.5 54.4,376.7 55.0,374.8 55.6,363.7 56.2,361.6 56.8,360.0 57.4,351.9 58.0,350.6 58.6,349.2 59.2,347.9 59.8,338.8 60.4,337.4 61.0,335.8 61.6,334.6 62.2,330.6 62.8,329.9 63.5,329.9 64.1,329.3 64.7,325.3 65.3,324.3 65.9,322.4 66.5,316.6 67.1,315.6 67.7,314.7 68.3,314.2 68.9,317.4 69.5,327.1 70.1,336.5 70.7,347.5 71.3,358.6 71.9,369.2 72.5,379.8 73.1,386.2 73.7,393.4 74.3,400.2 74.9,404.0 75.5,408.6 76.1,412.7 76.7,417.5 77.3,420.9 77.9,424.2 78.5,427.0 79.1,430.3 79.7,431.6 80.3,432.9 80.9,434.3 81.5,435.1 82.1,436.4 82.7,437.3 83.3,438.2 84.0,440.8 84.6,440.6 85.2,441.1 85.8,442.2 86.4,443.0 87.0,442.9 87.6,443.2 88.2,443.2 88.8,444.1 89.4,444.0 90.0,445.1 90.6,445.0 91.2,445.7 91.8,447.2 92.4,446.3 93.0,446.8 93.6,447.2 94.2,447.6 94.8,447.2 95.4,445.9 96.0,445.7 96.6,446.0 97.2,447.1 97.8,448.0 98.4,448.1 99.0,447.9 99.6,448.1 100.2,447.6 100.8,447.9 101.4,448.8 102.0,448.3 102.6,449.4 103.2,449.4 103.8,449.0 104.5,449.1 105.1,449.8 105.7,450.5 106.3,451.4 106.9,451.4 107.5,450.6 108.1,450.7 108.7,450.3 109.3,448.9 109.9,449.3 110.5,449.8 111.1,450.6 111.7,451.5 112.3,452.0 112.9,452.0 113.5,452.5 114.1,452.3 114.7,453.1 115.3,452.0 115.9,451.2 116.5,451.4 117.1,453.0 117.7,453.3 118.3,454.1 118.9,454.2 119.5,454.1 120.1,453.9 120.7,453.9 121.3,452.2 121.9,452.6 122.5,451.9 123.1,452.1 123.7,453.0 124.3,453.9 125.0,453.8 125.6,454.1 126.2,454.5 126.8,454.6 127.4,454.4 128.0,454.7 128.6,454.0 129.2,454.9 129.8,456.3 130.4,455.6 131.0,456.4 131.6,455.2 132.2,454.6 132.8,455.2 133.4,457.3 134.0,457.2 134.6,456.8 135.2,456.4" fill="none" stroke="#d6175c" stroke-width="2.2" stroke-linejoin="round"/><polyline points="141.9,459.6 142.5,461.1 143.1,463.1 143.7,465.8 144.3,462.3 144.9,461.4 145.5,460.6 146.1,461.3 146.7,462.1 147.3,460.9 147.9,462.9 148.5,461.5 149.1,463.9 149.7,462.6 150.3,463.7 150.9,464.5 151.5,463.9 152.2,462.7 152.8,461.6 153.4,460.3 154.0,463.8 154.6,464.2 155.2,456.9 155.8,452.9 156.4,449.2 157.0,430.4 157.6,426.7 158.2,421.1 158.8,420.8 159.4,411.4 160.0,411.9 160.6,411.6 161.2,406.9 161.8,395.4 162.4,397.0 163.0,396.9 163.6,390.9 164.2,389.2 164.8,390.8 165.4,393.0 166.0,388.2 166.6,385.2 167.2,385.9 167.8,386.5 168.4,380.4 169.0,381.2 169.6,378.6 170.2,376.0 170.8,376.4 171.4,375.8 172.0,372.5 172.7,370.4 173.3,367.6 173.9,369.1 174.5,365.4 175.1,361.8 175.7,361.4 176.3,360.5 176.9,361.4 177.5,368.4 178.1,377.6 178.7,383.3 179.3,390.2 179.9,393.0 180.5,400.8 181.1,407.5 181.7,413.3 182.3,418.7 182.9,419.8 183.5,421.6 184.1,425.4 184.7,427.2 185.3,434.8 185.9,431.2 186.5,435.5 187.1,440.6 187.7,440.7 188.3,437.7 188.9,437.8 189.5,442.1 190.1,445.5 190.7,445.6 191.3,447.4 191.9,451.7 192.5,449.6 193.2,454.7 193.8,449.9 194.4,455.0 195.0,449.3 195.6,453.5 196.2,452.5 196.8,448.0 197.4,449.9 198.0,452.4 198.6,454.2 199.2,454.1 199.8,453.5 200.4,452.7 201.0,453.3 201.6,456.7 202.2,456.7 202.8,457.4 203.4,456.5 204.0,459.2 204.6,463.6 205.2,465.7 205.8,457.8 206.4,454.0 207.0,451.3 207.6,451.6 208.2,458.0 208.8,455.6 209.4,455.5 210.0,454.6 210.6,449.6 211.2,448.5 211.8,449.1 212.4,449.1 213.0,450.6 213.7,451.2 214.3,452.2 214.9,449.1 215.5,454.3 216.1,456.1 216.7,454.0 217.3,453.3 217.9,451.9 218.5,448.3 219.1,453.2 219.7,453.1 220.3,457.2 220.9,460.8 221.5,455.3 222.1,452.6 222.7,455.5 223.3,454.3 223.9,453.3 224.5,453.5 225.1,455.8 225.7,452.4 226.3,454.3 226.9,458.3 227.5,456.1 228.1,455.4 228.7,457.2 229.3,459.7 229.9,461.3 230.5,460.9 231.1,463.8 231.7,459.4 232.3,463.0 232.9,462.3 233.5,459.5 234.2,454.8 234.8,460.1 235.4,459.8 236.0,460.5 236.6,463.7 237.2,460.3 237.8,461.5 238.4,462.4 239.0,465.1 239.6,463.2 240.2,466.2 240.8,461.6 241.4,460.1 242.0,457.6 242.6,455.3 243.2,461.2 243.8,460.9" fill="none" stroke="#b4b6b8" stroke-width="0.6" stroke-linejoin="round"/>
<polyline points="141.9,461.0 142.5,458.8 143.1,459.3 143.7,461.2 144.3,459.8 144.9,460.8 145.5,461.2 146.1,460.6 146.7,459.8 147.3,460.7 147.9,462.9 148.5,464.8 149.1,462.6 149.7,463.7 150.3,465.0 150.9,461.7 151.5,460.3 152.2,462.6 152.8,464.2 153.4,464.8 154.0,466.8 154.6,466.4 155.2,457.2 155.8,452.3 156.4,448.1 157.0,428.4 157.6,425.6 158.2,421.8 158.8,417.9 159.4,408.1 160.0,407.3 160.6,404.9 161.2,404.1 161.8,397.4 162.4,396.7 163.0,394.2 163.6,390.9 164.2,388.9 164.8,388.7 165.4,386.9 166.0,386.0 166.6,381.5 167.2,382.9 167.8,380.0 168.4,380.0 169.0,376.4 169.6,377.3 170.2,373.6 170.8,374.5 171.4,371.0 172.0,370.4 172.7,367.8 173.3,368.5 173.9,366.1 174.5,362.1 175.1,358.5 175.7,357.6 176.3,358.0 176.9,357.3 177.5,362.5 178.1,369.6 178.7,379.1 179.3,385.9 179.9,390.8 180.5,397.9 181.1,401.3 181.7,405.6 182.3,411.0 182.9,415.6 183.5,419.7 184.1,425.2 184.7,433.8 185.3,434.6 185.9,437.3 186.5,443.4 187.1,435.6 187.7,437.0 188.3,441.6 188.9,438.2 189.5,439.5 190.1,445.6 190.7,446.2 191.3,447.3 191.9,453.6 192.5,446.4 193.2,450.5 193.8,446.5 194.4,448.9 195.0,451.0 195.6,451.3 196.2,450.5 196.8,453.2 197.4,453.9 198.0,455.6 198.6,457.3 199.2,457.4 199.8,460.8 200.4,456.7 201.0,450.3 201.6,446.6 202.2,448.9 202.8,447.3 203.4,448.9 204.0,451.2 204.6,456.5 205.2,452.2 205.8,454.3 206.4,450.6 207.0,454.5 207.6,448.6 208.2,455.2 208.8,454.2 209.4,460.5 210.0,458.8 210.6,454.7 211.2,453.6 211.8,452.4 212.4,454.3 213.0,458.1 213.7,457.7 214.3,456.0 214.9,455.0 215.5,460.1 216.1,455.7 216.7,457.8 217.3,454.6 217.9,453.0 218.5,456.0 219.1,451.7 219.7,458.1 220.3,462.0 220.9,457.1 221.5,453.8 222.1,454.4 222.7,454.4 223.3,453.3 223.9,457.5 224.5,463.9 225.1,460.8 225.7,461.1 226.3,458.3 226.9,457.8 227.5,456.0 228.1,456.1 228.7,457.0 229.3,456.1 229.9,457.2 230.5,455.3 231.1,457.2 231.7,452.8 232.3,456.2 232.9,456.3 233.5,458.2 234.2,457.8 234.8,457.6 235.4,457.9 236.0,456.8 236.6,457.3 237.2,452.0 237.8,452.4 238.4,455.4 239.0,452.9 239.6,461.3 240.2,464.1 240.8,457.7 241.4,462.6 242.0,462.3 242.6,462.5 243.2,464.9 243.8,461.0" fill="none" stroke="#b4b6b8" stroke-width="0.6" stroke-linejoin="round"/>
<polyline points="141.9,459.2 142.5,459.7 143.1,460.6 143.7,461.8 144.3,460.4 144.9,461.3 145.5,461.0 146.1,463.5 146.7,462.8 147.3,464.7 147.9,464.8 148.5,464.0 149.1,466.0 149.7,466.3 150.3,464.9 150.9,466.2 151.5,467.6 152.2,462.9 152.8,464.4 153.4,460.5 154.0,461.5 154.6,463.3 155.2,453.8 155.8,450.8 156.4,446.9 157.0,430.0 157.6,424.2 158.2,424.6 158.8,416.8 159.4,405.7 160.0,402.3 160.6,401.9 161.2,400.5 161.8,392.4 162.4,394.4 163.0,392.7 163.6,387.3 164.2,387.1 164.8,388.1 165.4,387.9 166.0,382.0 166.6,381.6 167.2,381.0 167.8,380.1 168.4,375.7 169.0,375.9 169.6,372.9 170.2,372.3 170.8,373.3 171.4,371.7 172.0,370.1 172.7,363.1 173.3,363.4 173.9,365.1 174.5,361.5 175.1,359.5 175.7,357.8 176.3,360.7 176.9,360.2 177.5,367.8 178.1,372.4 178.7,377.7 179.3,382.3 179.9,391.6 180.5,396.6 181.1,402.9 181.7,405.4 182.3,411.1 182.9,414.4 183.5,420.2 184.1,427.4 184.7,429.5 185.3,429.3 185.9,433.7 186.5,436.6 187.1,436.3 187.7,433.8 188.3,437.5 188.9,440.8 189.5,442.8 190.1,447.2 190.7,447.9 191.3,448.7 191.9,444.9 192.5,445.7 193.2,446.3 193.8,445.4 194.4,449.0 195.0,448.3 195.6,450.6 196.2,449.3 196.8,451.3 197.4,454.3 198.0,454.8 198.6,456.4 199.2,455.4 199.8,450.8 200.4,454.4 201.0,453.0 201.6,450.4 202.2,455.5 202.8,454.7 203.4,453.6 204.0,449.9 204.6,454.3 205.2,453.8 205.8,451.3 206.4,454.2 207.0,456.9 207.6,457.9 208.2,458.9 208.8,459.7 209.4,454.6 210.0,452.0 210.6,454.5 211.2,458.2 211.8,463.6 212.4,457.4 213.0,456.5 213.7,454.3 214.3,454.8 214.9,453.3 215.5,454.6 216.1,454.8 216.7,457.5 217.3,456.9 217.9,461.8 218.5,462.2 219.1,461.3 219.7,458.2 220.3,458.8 220.9,455.9 221.5,456.4 222.1,455.0 222.7,457.9 223.3,456.2 223.9,456.4 224.5,459.0 225.1,458.6 225.7,457.7 226.3,453.8 226.9,455.4 227.5,458.9 228.1,457.9 228.7,456.3 229.3,458.2 229.9,463.2 230.5,461.4 231.1,458.9 231.7,456.2 232.3,456.7 232.9,453.0 233.5,452.8 234.2,452.4 234.8,458.3 235.4,453.7 236.0,455.3 236.6,454.5 237.2,452.3 237.8,455.6 238.4,459.3 239.0,457.7 239.6,456.8 240.2,457.3 240.8,459.4 241.4,459.6 242.0,458.2 242.6,456.6 243.2,457.3 243.8,454.0" fill="none" stroke="#b4b6b8" stroke-width="0.6" stroke-linejoin="round"/>
<polyline points="141.9,460.1 142.5,460.1 143.1,458.7 143.7,458.0 144.3,461.0 144.9,461.2 145.5,459.9 146.1,459.0 146.7,459.9 147.3,464.0 147.9,464.1 148.5,460.4 149.1,461.5 149.7,462.8 150.3,460.7 150.9,461.5 151.5,464.4 152.2,462.4 152.8,459.5 153.4,459.7 154.0,461.9 154.6,460.1 155.2,451.0 155.8,448.6 156.4,445.5 157.0,428.6 157.6,422.8 158.2,424.8 158.8,420.7 159.4,411.6 160.0,409.0 160.6,405.6 161.2,401.8 161.8,394.0 162.4,394.1 163.0,392.8 163.6,391.9 164.2,390.7 164.8,390.0 165.4,391.9 166.0,386.9 166.6,381.9 167.2,383.4 167.8,380.2 168.4,375.9 169.0,378.4 169.6,378.2 170.2,372.1 170.8,373.7 171.4,378.0 172.0,372.7 172.7,367.7 173.3,364.9 173.9,365.4 174.5,364.7 175.1,360.8 175.7,358.0 176.3,359.2 176.9,359.0 177.5,369.5 178.1,374.4 178.7,377.3 179.3,381.8 179.9,389.0 180.5,395.0 181.1,401.0 181.7,408.7 182.3,413.1 182.9,416.9 183.5,419.8 184.1,423.6 184.7,429.0 185.3,434.7 185.9,438.4 186.5,440.6 187.1,441.2 187.7,446.6 188.3,447.8 188.9,448.9 189.5,445.0 190.1,446.6 190.7,445.7 191.3,444.8 191.9,443.6 192.5,448.1 193.2,450.2 193.8,451.2 194.4,451.7 195.0,452.1 195.6,452.7 196.2,454.2 196.8,451.1 197.4,449.8 198.0,450.2 198.6,451.7 199.2,453.0 199.8,452.1 200.4,449.2 201.0,450.5 201.6,448.1 202.2,450.1 202.8,453.8 203.4,449.7 204.0,455.4 204.6,453.2 205.2,448.7 205.8,447.1 206.4,444.2 207.0,448.0 207.6,450.3 208.2,452.3 208.8,453.3 209.4,455.0 210.0,453.5 210.6,450.5 211.2,452.8 211.8,453.7 212.4,456.0 213.0,456.6 213.7,454.7 214.3,456.1 214.9,453.1 215.5,452.8 216.1,451.3 216.7,451.1 217.3,449.1 217.9,449.7 218.5,452.9 219.1,450.1 219.7,454.0 220.3,456.3 220.9,456.1 221.5,453.6 222.1,457.6 222.7,455.0 223.3,455.2 223.9,457.9 224.5,454.8 225.1,457.2 225.7,455.1 226.3,458.7 226.9,456.7 227.5,455.6 228.1,457.1 228.7,457.3 229.3,455.4 229.9,457.9 230.5,453.2 231.1,457.3 231.7,460.0 232.3,458.4 232.9,456.7 233.5,457.1 234.2,450.8 234.8,451.7 235.4,456.5 236.0,455.1 236.6,456.9 237.2,459.0 237.8,461.5 238.4,461.1 239.0,459.4 239.6,461.7 240.2,460.5 240.8,458.8 241.4,463.4 242.0,461.0 242.6,460.2 243.2,458.3 243.8,460.6" fill="none" stroke="#b4b6b8" stroke-width="0.6" stroke-linejoin="round"/>
<polyline points="141.9,460.3 142.5,461.7 143.1,462.2 143.7,462.4 144.3,462.7 144.9,462.6 145.5,463.0 146.1,463.7 146.7,463.4 147.3,463.2 147.9,463.8 148.5,463.9 149.1,464.6 149.7,464.3 150.3,464.4 150.9,463.4 151.5,463.6 152.2,463.7 152.8,463.6 153.4,463.7 154.0,463.5 154.6,462.5 155.2,452.8 155.8,449.7 156.4,446.5 157.0,430.8 157.6,427.5 158.2,423.8 158.8,420.9 159.4,410.3 160.0,408.4 160.6,407.3 161.2,406.7 161.8,400.3 162.4,398.2 163.0,397.1 163.6,393.1 164.2,392.1 164.8,391.2 165.4,391.3 166.0,386.3 166.6,385.5 167.2,384.8 167.8,383.2 168.4,380.0 169.0,379.7 169.6,379.5 170.2,376.5 170.8,375.9 171.4,375.6 172.0,374.6 172.7,370.7 173.3,370.0 173.9,369.6 174.5,369.7 175.1,366.2 175.7,364.6 176.3,363.4 176.9,363.0 177.5,369.5 178.1,375.8 178.7,382.2 179.3,387.4 179.9,393.1 180.5,398.8 181.1,404.8 181.7,409.9 182.3,414.8 182.9,419.6 183.5,423.8 184.1,428.0 184.7,432.1 185.3,433.5 185.9,436.6 186.5,438.0 187.1,439.5 187.7,440.2 188.3,441.6 188.9,443.9 189.5,443.9 190.1,444.9 190.7,446.4 191.3,447.1 191.9,447.3 192.5,447.2 193.2,448.1 193.8,448.5 194.4,449.7 195.0,449.7 195.6,448.7 196.2,450.6 196.8,451.5 197.4,452.6 198.0,453.3 198.6,454.2 199.2,454.5 199.8,454.7 200.4,455.8 201.0,456.1 201.6,455.8 202.2,456.1 202.8,455.5 203.4,454.4 204.0,454.7 204.6,454.8 205.2,453.8 205.8,453.6 206.4,454.0 207.0,454.2 207.6,453.6 208.2,454.4 208.8,454.3 209.4,454.2 210.0,455.0 210.6,456.1 211.2,455.8 211.8,455.4 212.4,456.4 213.0,456.3 213.7,455.9 214.3,455.8 214.9,455.1 215.5,456.0 216.1,455.2 216.7,455.2 217.3,455.5 217.9,455.1 218.5,455.7 219.1,456.0 219.7,457.0 220.3,457.3 220.9,456.6 221.5,457.2 222.1,457.6 222.7,457.3 223.3,457.3 223.9,457.7 224.5,457.8 225.1,457.9 225.7,457.8 226.3,458.3 226.9,457.8 227.5,457.7 228.1,457.8 228.7,457.5 229.3,458.0 229.9,458.2 230.5,457.9 231.1,458.4 231.7,457.9 232.3,458.1 232.9,457.2 233.5,458.8 234.2,458.2 234.8,457.7 235.4,457.3 236.0,457.3 236.6,457.8 237.2,457.9 237.8,458.8 238.4,458.0 239.0,458.4 239.6,459.4 240.2,458.8 240.8,459.7 241.4,459.0 242.0,458.9 242.6,459.0 243.2,458.8 243.8,458.4" fill="none" stroke="#d6175c" stroke-width="2.2" stroke-linejoin="round"/><polyline points="249.3,459.9 249.9,459.7 250.5,459.7 251.1,461.0 251.7,460.4 252.3,458.0 252.9,459.4 253.5,459.2 254.1,459.3 254.7,459.8 255.3,460.3 255.9,462.1 256.5,462.3 257.1,461.6 257.7,459.9 258.3,458.4 258.9,459.5 259.5,461.8 260.1,461.2 260.7,460.6 261.3,461.3 261.9,458.5 262.5,458.7 263.1,460.0 263.7,452.8 264.3,448.8 264.9,446.1 265.5,443.0 266.1,426.7 266.7,421.1 267.3,419.2 267.9,400.8 268.5,394.8 269.1,393.4 269.7,390.9 270.3,379.3 270.9,378.1 271.5,373.3 272.1,372.7 272.7,356.0 273.3,353.6 273.9,350.6 274.5,342.0 275.1,342.4 275.7,341.9 276.3,340.7 276.9,336.3 277.5,335.5 278.1,334.3 278.7,333.7 279.3,331.4 279.9,331.3 280.5,329.5 281.1,325.6 281.7,321.5 282.3,318.1 282.9,318.7 283.5,314.8 284.1,313.6 284.7,312.9 285.3,313.0 285.9,315.0 286.5,318.7 287.1,325.1 287.7,334.0 288.3,338.3 288.9,347.2 289.5,357.3 290.1,366.1 290.7,376.7 291.3,386.5 291.9,398.8 292.5,406.8 293.1,413.2 293.7,417.9 294.3,418.0 294.9,423.4 295.5,423.6 296.1,425.8 296.7,430.1 297.3,429.8 297.9,431.5 298.5,429.0 299.1,429.4 299.7,431.4 300.3,435.5 300.9,440.3 301.6,440.5 302.2,441.7 302.8,442.6 303.4,445.9 304.0,447.8 304.6,447.7 305.2,444.9 305.8,448.4 306.4,449.6 307.0,452.1 307.6,450.5 308.2,454.6 308.8,451.4 309.4,454.4 310.0,452.6 310.6,450.0 311.2,447.0 311.8,447.8 312.4,452.3 313.0,453.6 313.6,454.1 314.2,446.7 314.8,450.2 315.4,452.0 316.0,450.4 316.6,449.3 317.2,450.2 317.8,455.2 318.4,451.2 319.0,450.4 319.6,454.5 320.2,452.5 320.8,451.5 321.4,452.1 322.0,449.2 322.6,451.2 323.2,448.8 323.8,452.7 324.4,452.9 325.0,458.8 325.6,457.4 326.2,459.3 326.8,453.7 327.4,453.4 328.0,454.4 328.6,458.7 329.2,452.6 329.8,455.8 330.4,456.7 331.0,459.7 331.6,459.5 332.2,457.7 332.8,455.3 333.4,452.0 334.0,453.8 334.6,453.9 335.2,459.6 335.8,456.4 336.4,456.9 337.0,452.5 337.6,452.9 338.2,454.8 338.8,457.4 339.4,460.5 340.0,458.7 340.6,454.9 341.2,456.6 341.8,457.9 342.4,458.6 343.0,456.0 343.6,459.1 344.2,458.4 344.8,459.6 345.4,461.7 346.0,461.4 346.6,460.4 347.2,464.6 347.8,462.3 348.4,459.5 349.0,459.0 349.6,462.1 350.2,460.6 350.8,460.7 351.4,462.6 352.0,459.4 352.6,454.4 353.2,456.6 353.8,457.8" fill="none" stroke="#b4b6b8" stroke-width="0.6" stroke-linejoin="round"/>
<polyline points="249.3,461.7 249.9,459.8 250.5,461.0 251.1,460.6 251.7,458.3 252.3,460.0 252.9,460.3 253.5,459.3 254.1,460.7 254.7,461.5 255.3,460.3 255.9,461.1 256.5,462.6 257.1,460.7 257.7,461.4 258.3,461.1 258.9,464.6 259.5,460.1 260.1,461.5 260.7,460.7 261.3,460.6 261.9,463.7 262.5,462.5 263.1,465.4 263.7,454.6 264.3,451.4 264.9,446.9 265.5,442.8 266.1,426.9 266.7,423.7 267.3,421.3 267.9,403.0 268.5,405.0 269.1,401.8 269.7,401.9 270.3,385.2 270.9,383.1 271.5,385.3 272.1,379.3 272.7,361.9 273.3,358.9 273.9,357.6 274.5,350.0 275.1,350.6 275.7,348.1 276.3,344.1 276.9,339.5 277.5,341.5 278.1,342.4 278.7,339.3 279.3,338.4 279.9,339.9 280.5,341.3 281.1,333.2 281.7,330.9 282.3,326.7 282.9,324.5 283.5,319.5 284.1,319.7 284.7,319.5 285.3,317.2 285.9,319.0 286.5,325.0 287.1,330.6 287.7,339.4 288.3,342.6 288.9,351.6 289.5,362.2 290.1,373.8 290.7,382.0 291.3,391.8 291.9,399.0 292.5,405.9 293.1,413.5 293.7,423.3 294.3,426.8 294.9,428.5 295.5,437.5 296.1,435.1 296.7,436.2 297.3,436.8 297.9,436.7 298.5,443.4 299.1,445.3 299.7,439.5 300.3,439.0 300.9,441.1 301.6,443.7 302.2,440.2 302.8,436.2 303.4,435.0 304.0,439.4 304.6,442.3 305.2,445.5 305.8,445.1 306.4,444.0 307.0,441.0 307.6,445.2 308.2,448.0 308.8,451.3 309.4,452.8 310.0,451.4 310.6,454.5 311.2,452.6 311.8,450.3 312.4,449.4 313.0,448.7 313.6,444.4 314.2,447.8 314.8,450.1 315.4,450.1 316.0,449.2 316.6,451.5 317.2,456.3 317.8,455.0 318.4,452.9 319.0,451.4 319.6,452.0 320.2,449.3 320.8,450.6 321.4,451.9 322.0,457.3 322.6,458.3 323.2,459.1 323.8,455.3 324.4,456.5 325.0,452.7 325.6,454.2 326.2,455.3 326.8,453.1 327.4,458.8 328.0,458.7 328.6,452.4 329.2,454.9 329.8,454.0 330.4,454.5 331.0,456.1 331.6,456.9 332.2,451.2 332.8,450.1 333.4,454.4 334.0,458.4 334.6,462.3 335.2,464.5 335.8,456.0 336.4,458.2 337.0,452.7 337.6,458.4 338.2,458.4 338.8,454.9 339.4,460.8 340.0,460.9 340.6,454.6 341.2,456.4 341.8,454.9 342.4,456.1 343.0,455.5 343.6,459.8 344.2,455.3 344.8,457.0 345.4,461.9 346.0,458.2 346.6,458.6 347.2,458.8 347.8,456.8 348.4,459.0 349.0,458.9 349.6,456.3 350.2,461.6 350.8,462.3 351.4,460.4 352.0,458.0 352.6,456.3 353.2,460.4 353.8,459.4" fill="none" stroke="#b4b6b8" stroke-width="0.6" stroke-linejoin="round"/>
<polyline points="249.3,461.5 249.9,460.9 250.5,462.0 251.1,461.1 251.7,462.2 252.3,462.6 252.9,461.6 253.5,459.8 254.1,458.6 254.7,458.2 255.3,457.6 255.9,460.1 256.5,460.2 257.1,462.8 257.7,465.5 258.3,463.6 258.9,459.9 259.5,459.6 260.1,459.8 260.7,457.8 261.3,458.5 261.9,459.8 262.5,459.3 263.1,458.6 263.7,449.5 264.3,450.1 264.9,446.1 265.5,441.4 266.1,423.9 266.7,422.7 267.3,418.2 267.9,403.2 268.5,401.5 269.1,399.5 269.7,398.2 270.3,381.2 270.9,379.9 271.5,375.0 272.1,371.5 272.7,358.5 273.3,356.3 273.9,352.6 274.5,340.8 275.1,341.0 275.7,338.8 276.3,336.6 276.9,331.5 277.5,332.0 278.1,329.6 278.7,332.3 279.3,331.3 279.9,329.3 280.5,330.1 281.1,322.9 281.7,319.9 282.3,317.5 282.9,318.0 283.5,309.4 284.1,308.6 284.7,307.2 285.3,307.1 285.9,311.7 286.5,318.8 287.1,327.5 287.7,334.1 288.3,339.9 288.9,346.1 289.5,357.2 290.1,367.2 290.7,378.5 291.3,385.4 291.9,394.5 292.5,403.2 293.1,411.9 293.7,418.1 294.3,415.9 294.9,421.9 295.5,425.9 296.1,430.3 296.7,436.7 297.3,434.8 297.9,435.3 298.5,436.0 299.1,441.4 299.7,435.7 300.3,438.3 300.9,435.4 301.6,431.1 302.2,430.4 302.8,432.0 303.4,439.6 304.0,439.7 304.6,441.7 305.2,441.0 305.8,445.4 306.4,444.2 307.0,449.2 307.6,446.4 308.2,445.5 308.8,447.2 309.4,448.1 310.0,452.3 310.6,451.5 311.2,447.8 311.8,447.3 312.4,447.1 313.0,450.3 313.6,451.5 314.2,451.0 314.8,453.3 315.4,451.3 316.0,451.1 316.6,451.9 317.2,455.8 317.8,454.0 318.4,452.4 319.0,449.7 319.6,452.6 320.2,451.1 320.8,452.6 321.4,447.9 322.0,452.6 322.6,449.4 323.2,449.0 323.8,453.4 324.4,450.0 325.0,451.3 325.6,452.4 326.2,450.5 326.8,455.3 327.4,458.6 328.0,451.9 328.6,449.2 329.2,453.4 329.8,450.6 330.4,451.3 331.0,453.0 331.6,455.6 332.2,454.8 332.8,455.3 333.4,453.3 334.0,457.5 334.6,455.5 335.2,456.5 335.8,454.9 336.4,455.7 337.0,455.4 337.6,455.4 338.2,453.2 338.8,456.5 339.4,460.1 340.0,459.3 340.6,460.1 341.2,460.9 341.8,461.6 342.4,460.5 343.0,459.6 343.6,460.8 344.2,459.5 344.8,456.1 345.4,456.7 346.0,452.2 346.6,454.3 347.2,456.6 347.8,460.2 348.4,459.6 349.0,461.2 349.6,459.9 350.2,456.5 350.8,453.6 351.4,452.9 352.0,451.6 352.6,455.9 353.2,456.3 353.8,458.6" fill="none" stroke="#b4b6b8" stroke-width="0.6" stroke-linejoin="round"/>
<polyline points="249.3,462.2 249.9,460.5 250.5,460.1 251.1,459.4 251.7,457.3 252.3,459.6 252.9,461.9 253.5,461.3 254.1,460.2 254.7,462.0 255.3,457.7 255.9,459.1 256.5,459.9 257.1,459.2 257.7,461.9 258.3,462.9 258.9,461.5 259.5,461.0 260.1,460.2 260.7,459.5 261.3,457.8 261.9,461.1 262.5,462.5 263.1,462.9 263.7,452.5 264.3,453.1 264.9,452.2 265.5,447.7 266.1,429.5 266.7,425.1 267.3,423.4 267.9,407.8 268.5,405.9 269.1,405.6 269.7,400.4 270.3,391.1 270.9,390.4 271.5,384.5 272.1,379.8 272.7,366.7 273.3,363.2 273.9,361.3 274.5,349.7 275.1,350.5 275.7,353.8 276.3,350.7 276.9,346.5 277.5,344.0 278.1,346.7 278.7,347.2 279.3,348.9 279.9,347.0 280.5,344.4 281.1,338.0 281.7,335.5 282.3,332.2 282.9,332.6 283.5,327.3 284.1,326.9 284.7,326.6 285.3,324.6 285.9,328.8 286.5,337.6 287.1,340.8 287.7,349.6 288.3,354.3 288.9,359.9 289.5,372.1 290.1,379.2 290.7,388.6 291.3,396.7 291.9,400.9 292.5,409.2 293.1,416.4 293.7,418.5 294.3,417.6 294.9,422.6 295.5,427.6 296.1,430.8 296.7,431.7 297.3,431.8 297.9,432.1 298.5,433.7 299.1,433.5 299.7,435.8 300.3,438.0 300.9,437.5 301.6,439.2 302.2,439.3 302.8,441.6 303.4,444.6 304.0,446.0 304.6,447.9 305.2,444.0 305.8,445.3 306.4,448.0 307.0,450.4 307.6,446.1 308.2,448.1 308.8,452.0 309.4,450.9 310.0,450.6 310.6,451.8 311.2,452.2 311.8,453.5 312.4,452.9 313.0,452.8 313.6,450.4 314.2,450.7 314.8,454.5 315.4,453.2 316.0,452.5 316.6,451.4 317.2,454.0 317.8,451.4 318.4,454.4 319.0,451.5 319.6,449.6 320.2,451.6 320.8,452.7 321.4,453.8 322.0,456.5 322.6,454.4 323.2,455.4 323.8,452.5 324.4,456.4 325.0,457.2 325.6,457.4 326.2,456.8 326.8,453.9 327.4,453.4 328.0,455.3 328.6,455.1 329.2,455.4 329.8,451.9 330.4,453.7 331.0,452.7 331.6,451.1 332.2,452.5 332.8,449.1 333.4,453.6 334.0,456.7 334.6,456.4 335.2,453.8 335.8,452.4 336.4,453.7 337.0,448.7 337.6,452.4 338.2,455.8 338.8,455.4 339.4,454.7 340.0,456.1 340.6,457.4 341.2,460.0 341.8,458.9 342.4,456.5 343.0,455.7 343.6,456.8 344.2,461.0 344.8,458.8 345.4,455.7 346.0,454.3 346.6,450.4 347.2,454.2 347.8,452.2 348.4,451.4 349.0,449.1 349.6,449.9 350.2,454.6 350.8,452.8 351.4,450.6 352.0,454.2 352.6,455.0 353.2,457.5 353.8,459.9" fill="none" stroke="#b4b6b8" stroke-width="0.6" stroke-linejoin="round"/>
<polyline points="249.3,460.5 249.9,460.7 250.5,460.4 251.1,459.8 251.7,460.4 252.3,460.3 252.9,460.2 253.5,460.2 254.1,460.7 254.7,460.8 255.3,460.6 255.9,460.8 256.5,461.6 257.1,461.9 257.7,461.9 258.3,461.2 258.9,462.5 259.5,461.7 260.1,461.3 260.7,460.8 261.3,461.4 261.9,461.4 262.5,460.7 263.1,460.7 263.7,452.6 264.3,449.4 264.9,445.9 265.5,442.7 266.1,426.2 266.7,423.3 267.3,420.2 267.9,405.5 268.5,402.6 269.1,399.4 269.7,396.8 270.3,383.6 270.9,380.9 271.5,379.4 272.1,377.0 272.7,362.0 273.3,359.0 273.9,356.4 274.5,347.1 275.1,347.1 275.7,345.6 276.3,344.8 276.9,340.7 277.5,339.8 278.1,339.8 278.7,340.2 279.3,338.6 279.9,337.5 280.5,336.1 281.1,328.0 281.7,326.7 282.3,325.2 282.9,323.4 283.5,317.6 284.1,316.3 284.7,315.8 285.3,315.7 285.9,320.0 286.5,326.2 287.1,332.5 287.7,339.3 288.3,346.2 288.9,353.7 289.5,362.4 290.1,372.1 290.7,380.6 291.3,389.1 291.9,397.8 292.5,406.4 293.1,414.4 293.7,420.1 294.3,421.4 294.9,423.4 295.5,426.8 296.1,429.2 296.7,430.9 297.3,432.2 297.9,434.1 298.5,436.4 299.1,436.9 299.7,438.7 300.3,438.6 300.9,439.4 301.6,441.6 302.2,441.1 302.8,442.9 303.4,442.6 304.0,443.7 304.6,444.7 305.2,446.3 305.8,445.3 306.4,445.5 307.0,445.9 307.6,446.7 308.2,446.8 308.8,447.3 309.4,447.2 310.0,447.6 310.6,447.7 311.2,448.5 311.8,449.4 312.4,450.7 313.0,450.5 313.6,450.5 314.2,450.9 314.8,450.9 315.4,451.2 316.0,450.5 316.6,451.2 317.2,450.9 317.8,450.7 318.4,450.1 319.0,451.4 319.6,451.7 320.2,452.7 320.8,453.0 321.4,452.0 322.0,451.7 322.6,452.5 323.2,452.3 323.8,452.0 324.4,452.3 325.0,452.5 325.6,452.3 326.2,452.5 326.8,452.6 327.4,451.4 328.0,452.4 328.6,452.4 329.2,453.7 329.8,453.3 330.4,452.7 331.0,454.0 331.6,453.3 332.2,453.4 332.8,454.2 333.4,454.4 334.0,453.6 334.6,454.3 335.2,454.5 335.8,455.7 336.4,456.3 337.0,458.3 337.6,456.9 338.2,456.9 338.8,456.2 339.4,457.0 340.0,457.5 340.6,457.9 341.2,457.2 341.8,456.7 342.4,455.6 343.0,457.0 343.6,457.4 344.2,457.2 344.8,457.9 345.4,458.3 346.0,458.8 346.6,457.6 347.2,457.2 347.8,457.4 348.4,457.8 349.0,458.5 349.6,457.8 350.2,457.9 350.8,459.4 351.4,459.6 352.0,460.0 352.6,459.7 353.2,459.9 353.8,460.8" fill="none" stroke="#d6175c" stroke-width="2.2" stroke-linejoin="round"/><path d="M44.05 475.80 L45.42 472.20 L46.78 475.80 Z M46.48 475.80 L47.84 472.20 L49.21 475.80 Z M48.91 475.80 L50.28 472.20 L51.64 475.80 Z M51.34 475.80 L52.70 472.20 L54.07 475.80 Z M53.77 475.80 L55.14 472.20 L56.50 475.80 Z M56.20 475.80 L57.56 472.20 L58.93 475.80 Z M58.63 475.80 L60.00 472.20 L61.36 475.80 Z M61.06 475.80 L62.42 472.20 L63.79 475.80 Z M63.49 475.80 L64.86 472.20 L66.22 475.80 Z M65.92 475.80 L67.28 472.20 L68.65 475.80 Z M44.20 474.50 H68.50 V475.80 H44.20 Z" fill="#231f20"/><path d="M153.25 475.80 L154.56 472.20 L155.88 475.80 Z M155.58 475.80 L156.90 472.20 L158.21 475.80 Z M157.91 475.80 L159.22 472.20 L160.54 475.80 Z M160.24 475.80 L161.56 472.20 L162.87 475.80 Z M162.57 475.80 L163.88 472.20 L165.20 475.80 Z M164.90 475.80 L166.22 472.20 L167.53 475.80 Z M167.23 475.80 L168.54 472.20 L169.86 475.80 Z M169.56 475.80 L170.88 472.20 L172.19 475.80 Z M171.89 475.80 L173.20 472.20 L174.52 475.80 Z M174.22 475.80 L175.53 472.20 L176.85 475.80 Z M153.40 474.50 H176.70 V475.80 H153.40 Z" fill="#231f20"/><path d="M261.65 475.80 L262.99 472.20 L264.32 475.80 Z M264.02 475.80 L265.36 472.20 L266.69 475.80 Z M266.39 475.80 L267.73 472.20 L269.06 475.80 Z M268.76 475.80 L270.10 472.20 L271.43 475.80 Z M271.13 475.80 L272.47 472.20 L273.80 475.80 Z M273.50 475.80 L274.83 472.20 L276.17 475.80 Z M275.87 475.80 L277.20 472.20 L278.54 475.80 Z M278.24 475.80 L279.57 472.20 L280.91 475.80 Z M280.61 475.80 L281.94 472.20 L283.28 475.80 Z M282.98 475.80 L284.31 472.20 L285.65 475.80 Z M261.80 474.50 H285.50 V475.80 H261.80 Z" fill="#231f20"/><circle cx="295.2" cy="380.7" r="0.6" fill="#231f20"/><path d="M358.5 460.3 L358.5 470.6 L346 470.6" fill="none" stroke="#a7a9ac" stroke-width="1"/><text x="338.6" y="480.5" font-size="9.9" textLength="18.4" lengthAdjust="spacingAndGlyphs" fill="#231f20" stroke="#231f20" stroke-width="0.25">0.1 s</text>
<text x="0" y="0" font-size="9.9" text-anchor="middle" textLength="33" lengthAdjust="spacingAndGlyphs" fill="#231f20" stroke="#231f20" stroke-width="0.25" transform="translate(369 459) rotate(-90)">2% df/f</text>
<rect x="458.9" y="301.8" width="26.7" height="155.4" fill="#fcd3a6"/><text x="375.8" y="296.5" font-size="12.8" font-weight="bold" textLength="7.2" lengthAdjust="spacingAndGlyphs" fill="#231f20" stroke="#231f20" stroke-width="0.25">E</text>
<text x="472.2" y="295.8" font-size="9.9" text-anchor="middle" textLength="31.5" lengthAdjust="spacingAndGlyphs" fill="#231f20" stroke="#231f20" stroke-width="0.25">10 stim</text>
<path d="M410.6 301.8 L408.1 301.8 L408.1 457.2 L410.6 457.2" fill="none" stroke="#6d6e71" stroke-width="0.9"/><line x1="408.1" y1="418.4" x2="410.6" y2="418.4" stroke="#6d6e71" stroke-width="0.9"/><line x1="408.1" y1="379.5" x2="410.6" y2="379.5" stroke="#6d6e71" stroke-width="0.9"/><line x1="408.1" y1="340.6" x2="410.6" y2="340.6" stroke="#6d6e71" stroke-width="0.9"/><text x="404.8" y="460.7" font-size="9.9" text-anchor="end" fill="#414042" stroke="#414042" stroke-width="0.25">0</text>
<text x="404.8" y="421.9" font-size="9.9" text-anchor="end" fill="#414042" stroke="#414042" stroke-width="0.25">5</text>
<text x="404.8" y="383.0" font-size="9.9" text-anchor="end" textLength="11.6" lengthAdjust="spacingAndGlyphs" fill="#414042" stroke="#414042" stroke-width="0.25">10</text>
<text x="404.8" y="344.1" font-size="9.9" text-anchor="end" textLength="11.6" lengthAdjust="spacingAndGlyphs" fill="#414042" stroke="#414042" stroke-width="0.25">15</text>
<text x="404.8" y="305.3" font-size="9.9" text-anchor="end" textLength="11.6" lengthAdjust="spacingAndGlyphs" fill="#414042" stroke="#414042" stroke-width="0.25">20</text>
<text x="0" y="0" font-size="10.3" font-weight="bold" text-anchor="middle" textLength="72.8" lengthAdjust="spacingAndGlyphs" fill="#231f20" stroke="#231f20" stroke-width="0.25" transform="translate(389 379.6) rotate(-90)">AUC (arb. units)</text>
<path d="M432.0 322.0 V348.4 M432.0 388.5 V398.9 M423.5 322.0 H440.5 M423.5 398.9 H440.5" stroke="#a7a9ac" stroke-width="1.3" fill="none"/><rect x="418.7" y="348.4" width="26.6" height="40.1" fill="#d6175c" stroke="#3d2029" stroke-width="0.8"/><line x1="418.7" y1="374.1" x2="445.3" y2="374.1" stroke="#4d1030" stroke-width="0.9"/><path d="M472.3 390.0 V405.1 M472.3 417.6 V430.2 M463.8 390.0 H480.8 M463.8 430.2 H480.8" stroke="#6d6e71" stroke-width="1.3" fill="none"/><rect x="459.0" y="405.1" width="26.6" height="12.4" fill="#d6175c" stroke="#3d2029" stroke-width="0.8"/><line x1="459.0" y1="416.0" x2="485.6" y2="416.0" stroke="#4d1030" stroke-width="0.9"/><path d="M512.8 346.1 V360.1 M512.8 396.1 V420.7 M504.3 346.1 H521.3 M504.3 420.7 H521.3" stroke="#6d6e71" stroke-width="1.3" fill="none"/><rect x="499.4" y="360.1" width="26.7" height="36.1" fill="#d6175c" stroke="#3d2029" stroke-width="0.8"/><line x1="499.4" y1="386.1" x2="526.1" y2="386.1" stroke="#4d1030" stroke-width="0.9"/><polyline points="432,322.0 472.3,417.6 512.8,360.1" fill="none" stroke="#bcbec0" stroke-width="0.6"/><polyline points="432,348.4 472.3,430.2 512.8,420.7" fill="none" stroke="#bcbec0" stroke-width="0.6"/><polyline points="432,376.0 472.3,405.5 512.8,346.1" fill="none" stroke="#bcbec0" stroke-width="0.6"/><polyline points="432,388.5 472.3,418.4 512.8,396.1" fill="none" stroke="#bcbec0" stroke-width="0.6"/><polyline points="432,398.9 472.3,390.0 512.8,360.1" fill="none" stroke="#bcbec0" stroke-width="0.6"/><polyline points="432,348.4 472.3,405.5 512.8,385.7" fill="none" stroke="#bcbec0" stroke-width="0.6"/><polyline points="432,373.7 472.3,417.6 512.8,385.7" fill="none" stroke="#4d4d4f" stroke-width="1.1"/><circle cx="432" cy="348.4" r="1.7" fill="#a7a9ac"/><circle cx="432" cy="373.7" r="1.7" fill="#a7a9ac"/><circle cx="432" cy="376.0" r="1.7" fill="#a7a9ac"/><circle cx="432" cy="388.5" r="1.7" fill="#a7a9ac"/><circle cx="432" cy="398.9" r="1.7" fill="#a7a9ac"/><circle cx="432" cy="322.0" r="1.7" fill="#a7a9ac"/><circle cx="472.3" cy="390.0" r="1.7" fill="#a7a9ac"/><circle cx="472.3" cy="405.5" r="1.7" fill="#a7a9ac"/><circle cx="472.3" cy="416.3" r="1.7" fill="#a7a9ac"/><circle cx="472.3" cy="417.6" r="1.7" fill="#a7a9ac"/><circle cx="472.3" cy="430.2" r="1.7" fill="#a7a9ac"/><circle cx="512.8" cy="346.1" r="1.7" fill="#a7a9ac"/><circle cx="512.8" cy="360.1" r="1.7" fill="#a7a9ac"/><circle cx="512.8" cy="385.7" r="1.7" fill="#a7a9ac"/><circle cx="512.8" cy="396.1" r="1.7" fill="#a7a9ac"/><circle cx="512.8" cy="420.7" r="1.7" fill="#a7a9ac"/><path d="M434 308.4 H469.6 M474.5 308.4 H510.9" stroke="#414042" stroke-width="0.85"/><text x="451.7" y="309" font-size="9" text-anchor="middle" fill="#414042" stroke="#414042" stroke-width="0.25">*</text>
<text x="492.2" y="309" font-size="9" text-anchor="middle" fill="#414042" stroke="#414042" stroke-width="0.25">*</text>
<text x="432" y="470.3" font-size="9.5" font-weight="bold" text-anchor="middle" textLength="10.9" lengthAdjust="spacingAndGlyphs" fill="#231f20" stroke="#231f20" stroke-width="0.25">BL</text>
<text x="472" y="470.3" font-size="9.5" font-weight="bold" text-anchor="middle" textLength="28.8" lengthAdjust="spacingAndGlyphs" fill="#231f20" stroke="#231f20" stroke-width="0.25">A&#946;-AC</text>
<text x="513.1" y="470.3" font-size="9.5" font-weight="bold" text-anchor="middle" textLength="16.4" lengthAdjust="spacingAndGlyphs" fill="#231f20" stroke="#231f20" stroke-width="0.25">WO</text>
<text x="545.2" y="295.8" font-size="12.8" font-weight="bold" textLength="6" lengthAdjust="spacingAndGlyphs" fill="#231f20" stroke="#231f20" stroke-width="0.25">F</text>
<text x="624" y="295" font-size="9.9" text-anchor="middle" textLength="31.5" lengthAdjust="spacingAndGlyphs" fill="#231f20" stroke="#231f20" stroke-width="0.25">10 stim</text>
<path d="M580.6 301.8 L578.1 301.8 L578.1 456.5 L580.6 456.5" fill="none" stroke="#6d6e71" stroke-width="0.9"/><line x1="578.1" y1="404.9" x2="580.6" y2="404.9" stroke="#6d6e71" stroke-width="0.9"/><text x="575.7" y="305.2" font-size="9.9" text-anchor="end" textLength="14" lengthAdjust="spacingAndGlyphs" fill="#414042" stroke="#414042" stroke-width="0.25">1.5</text>
<text x="575.7" y="356.9" font-size="9.9" text-anchor="end" fill="#414042" stroke="#414042" stroke-width="0.25">1</text>
<text x="575.7" y="408.4" font-size="9.9" text-anchor="end" textLength="14" lengthAdjust="spacingAndGlyphs" fill="#414042" stroke="#414042" stroke-width="0.25">0.5</text>
<text x="573" y="460.0" font-size="9.9" text-anchor="end" fill="#414042" stroke="#414042" stroke-width="0.25">0</text>
<text x="0" y="0" font-size="10.3" font-weight="bold" text-anchor="middle" textLength="121.5" lengthAdjust="spacingAndGlyphs" fill="#231f20" stroke="#231f20" stroke-width="0.25" transform="translate(557 379.3) rotate(-90)">Normalized AUC (appl/BL)</text>
<rect x="591" y="353.4" width="26.6" height="50.5" fill="#f7941e" stroke="#414042" stroke-width="0.6"/><rect x="630.7" y="353.4" width="27.1" height="19.1" fill="#006838" stroke="#231f20" stroke-width="0.6"/><line x1="578.1" y1="353.4" x2="670.7" y2="353.4" stroke="#4d4d4f" stroke-width="0.8"/><path d="M603.7 399.5 V409.1 M601.9 399.5 H605.5 M601.9 409.1 H605.5" stroke="#414042" stroke-width="0.7" fill="none"/><path d="M644.1 372 V381.4 M642.3 381.4 H645.9" stroke="#414042" stroke-width="0.7" fill="none"/><circle cx="603.7" cy="387.2" r="1.8" fill="#bcbec0"/><circle cx="603.7" cy="390.2" r="1.8" fill="#bcbec0"/><circle cx="603.7" cy="406.6" r="1.8" fill="#bcbec0"/><circle cx="603.7" cy="416.2" r="1.8" fill="#bcbec0"/><circle cx="603.7" cy="419.2" r="1.8" fill="#bcbec0"/><circle cx="644.1" cy="338.2" r="1.8" fill="#bcbec0"/><circle cx="644.1" cy="354.5" r="1.8" fill="#bcbec0"/><circle cx="644.1" cy="357.8" r="1.8" fill="#bcbec0"/><circle cx="644.1" cy="364.3" r="1.8" fill="#bcbec0"/><circle cx="644.1" cy="390.2" r="1.8" fill="#bcbec0"/><circle cx="644.1" cy="409.6" r="1.8" fill="#bcbec0"/><line x1="605.8" y1="307.9" x2="642.1" y2="307.9" stroke="#414042" stroke-width="0.85"/><text x="624.7" y="308.6" font-size="9" text-anchor="middle" fill="#414042" stroke="#414042" stroke-width="0.25">*</text>
<text x="0" y="0" font-size="9.5" font-weight="bold" text-anchor="end" textLength="30" lengthAdjust="spacingAndGlyphs" fill="#231f20" stroke="#231f20" stroke-width="0.25" transform="translate(603 455) rotate(-45)">A&#946;-AC</text>
<text x="0" y="0" font-size="9.5" font-weight="bold" text-anchor="end" textLength="59" lengthAdjust="spacingAndGlyphs" fill="#231f20" stroke="#231f20" stroke-width="0.25" transform="translate(622 452) rotate(-45)">APP23xPS45</text>
<text x="0" y="0" font-size="9.5" font-weight="bold" text-anchor="end" textLength="22" lengthAdjust="spacingAndGlyphs" fill="#231f20" stroke="#231f20" stroke-width="0.25" transform="translate(636.5 455) rotate(-45)">Lcn2</text>
<text x="0" y="0" font-size="9.5" font-weight="bold" text-anchor="end" textLength="59" lengthAdjust="spacingAndGlyphs" fill="#231f20" stroke="#231f20" stroke-width="0.25" transform="translate(659.5 451.5) rotate(-45)">APP23xPS45</text>
</svg>
</body></html>
